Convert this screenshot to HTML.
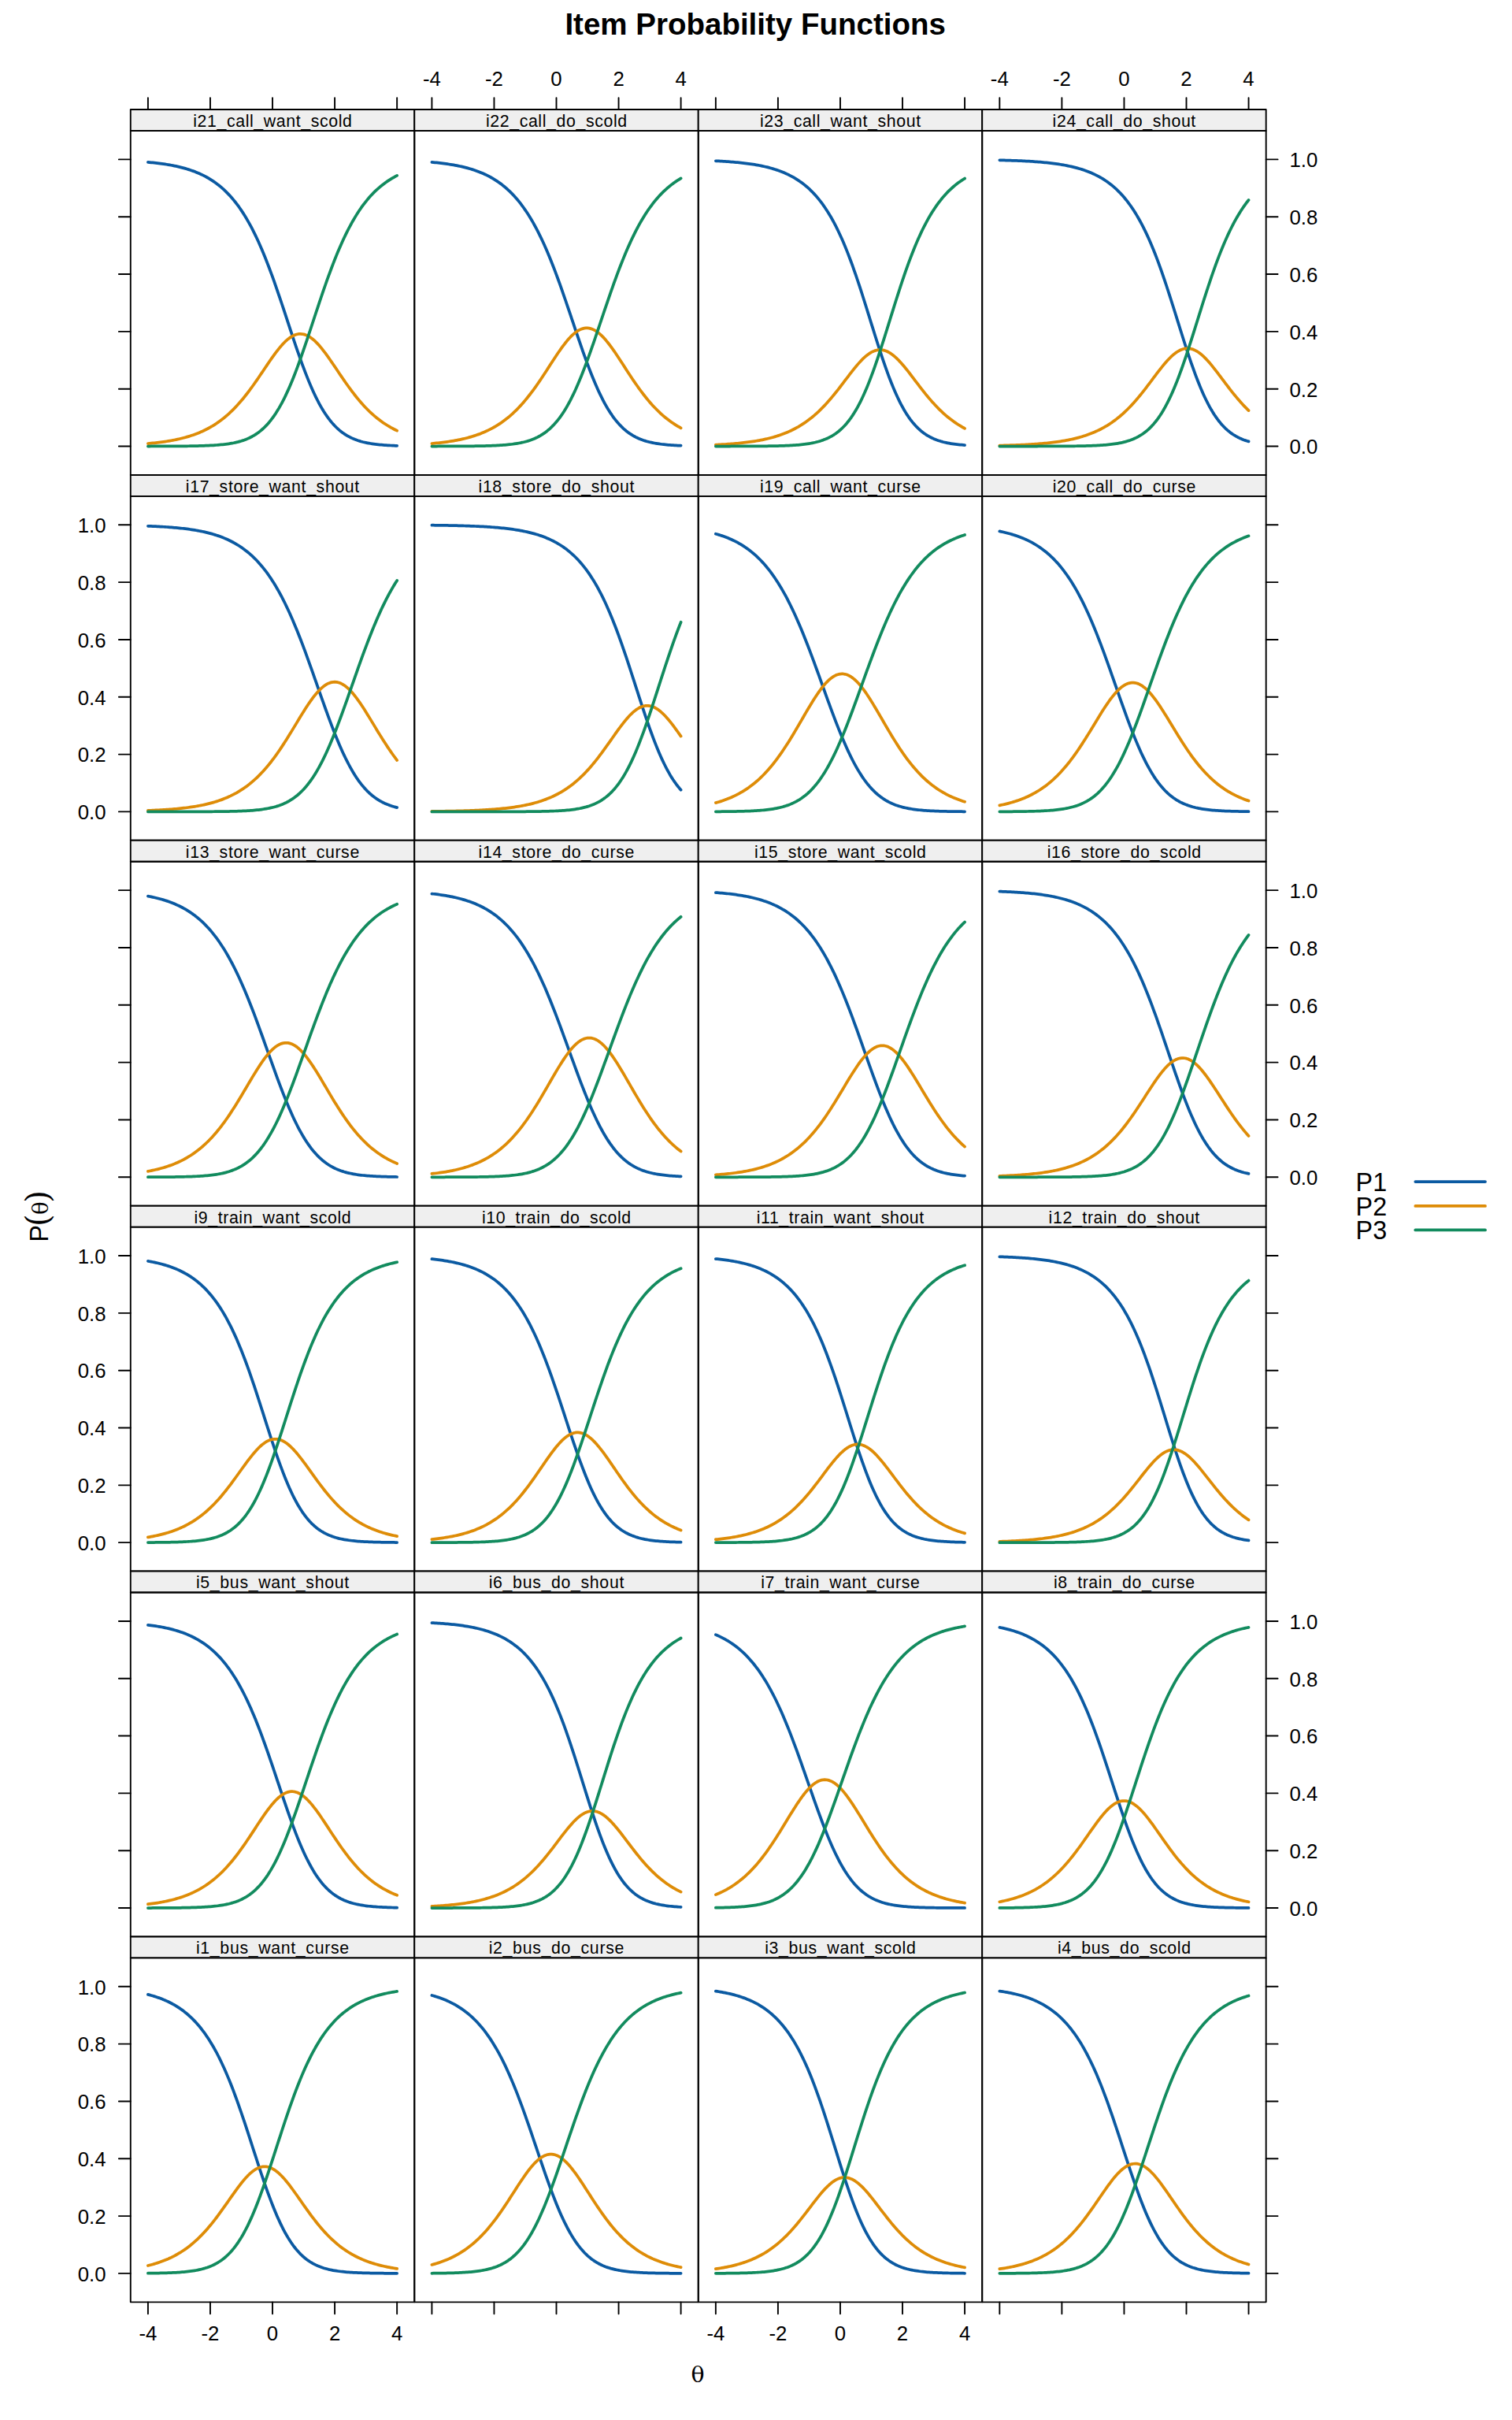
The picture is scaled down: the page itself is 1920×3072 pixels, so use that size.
<!DOCTYPE html>
<html><head><meta charset="utf-8"><title>Item Probability Functions</title>
<style>html,body{margin:0;padding:0;background:#fff;}svg{display:block;}</style></head><body>
<svg width="1920" height="3072" viewBox="0 0 1920 3072">
<rect x="0" y="0" width="1920" height="3072" fill="#fff"/>
<text x="959.15" y="44.2" font-family="'Liberation Sans', Arial, Helvetica, sans-serif" font-weight="bold" font-size="38.5" text-anchor="middle">Item Probability Functions</text>
<path d="M187.93,205.91 L189.91,206.09 L191.89,206.27 L193.86,206.47 L195.84,206.68 L197.82,206.89 L199.79,207.12 L201.77,207.36 L203.74,207.62 L205.72,207.88 L207.7,208.16 L209.67,208.45 L211.65,208.76 L213.63,209.08 L215.6,209.42 L217.58,209.78 L219.55,210.15 L221.53,210.55 L223.51,210.96 L225.48,211.39 L227.46,211.85 L229.44,212.33 L231.41,212.83 L233.39,213.36 L235.36,213.91 L237.34,214.49 L239.32,215.1 L241.29,215.75 L243.27,216.42 L245.25,217.12 L247.22,217.86 L249.2,218.64 L251.17,219.46 L253.15,220.31 L255.13,221.21 L257.1,222.15 L259.08,223.14 L261.06,224.17 L263.03,225.26 L265.01,226.39 L266.98,227.59 L268.96,228.84 L270.94,230.14 L272.91,231.51 L274.89,232.95 L276.87,234.45 L278.84,236.03 L280.82,237.67 L282.79,239.39 L284.77,241.2 L286.75,243.08 L288.72,245.05 L290.7,247.11 L292.68,249.25 L294.65,251.5 L296.63,253.84 L298.6,256.28 L300.58,258.83 L302.56,261.49 L304.53,264.25 L306.51,267.14 L308.49,270.13 L310.46,273.25 L312.44,276.49 L314.41,279.86 L316.39,283.35 L318.37,286.97 L320.34,290.73 L322.32,294.61 L324.3,298.63 L326.27,302.79 L328.25,307.08 L330.22,311.5 L332.2,316.06 L334.18,320.74 L336.15,325.56 L338.13,330.51 L340.11,335.58 L342.08,340.76 L344.06,346.06 L346.04,351.47 L348.01,356.99 L349.99,362.59 L351.96,368.28 L353.94,374.05 L355.92,379.89 L357.89,385.78 L359.87,391.71 L361.85,397.68 L363.82,403.67 L365.8,409.67 L367.77,415.66 L369.75,421.63 L371.73,427.57 L373.7,433.47 L375.68,439.3 L377.66,445.07 L379.63,450.74 L381.61,456.32 L383.58,461.79 L385.56,467.14 L387.54,472.36 L389.51,477.44 L391.49,482.37 L393.47,487.14 L395.44,491.76 L397.42,496.2 L399.39,500.48 L401.37,504.58 L403.35,508.51 L405.32,512.26 L407.3,515.84 L409.28,519.24 L411.25,522.47 L413.23,525.52 L415.2,528.41 L417.18,531.14 L419.16,533.71 L421.13,536.12 L423.11,538.39 L425.09,540.51 L427.06,542.5 L429.04,544.36 L431.01,546.09 L432.99,547.7 L434.97,549.19 L436.94,550.59 L438.92,551.88 L440.9,553.07 L442.87,554.18 L444.85,555.21 L446.82,556.15 L448.8,557.02 L450.78,557.83 L452.75,558.57 L454.73,559.25 L456.71,559.87 L458.68,560.45 L460.66,560.98 L462.63,561.46 L464.61,561.9 L466.59,562.31 L468.56,562.68 L470.54,563.02 L472.52,563.34 L474.49,563.62 L476.47,563.88 L478.44,564.12 L480.42,564.33 L482.4,564.53 L484.37,564.71 L486.35,564.88 L488.33,565.03 L490.3,565.16 L492.28,565.29 L494.25,565.4 L496.23,565.5 L498.21,565.6 L500.18,565.68 L502.16,565.76 L504.14,565.83" fill="none" stroke="#0B5AA2" stroke-width="3.75" stroke-linecap="round" stroke-linejoin="round"/>
<path d="M187.93,563.04 L189.91,562.87 L191.89,562.68 L193.86,562.49 L195.84,562.28 L197.82,562.07 L199.79,561.84 L201.77,561.61 L203.74,561.36 L205.72,561.1 L207.7,560.82 L209.67,560.54 L211.65,560.24 L213.63,559.92 L215.6,559.59 L217.58,559.24 L219.55,558.87 L221.53,558.49 L223.51,558.09 L225.48,557.67 L227.46,557.23 L229.44,556.76 L231.41,556.28 L233.39,555.77 L235.36,555.23 L237.34,554.68 L239.32,554.09 L241.29,553.48 L243.27,552.83 L245.25,552.16 L247.22,551.46 L249.2,550.72 L251.17,549.95 L253.15,549.14 L255.13,548.3 L257.1,547.42 L259.08,546.5 L261.06,545.53 L263.03,544.53 L265.01,543.48 L266.98,542.38 L268.96,541.24 L270.94,540.04 L272.91,538.8 L274.89,537.5 L276.87,536.15 L278.84,534.75 L280.82,533.28 L282.79,531.76 L284.77,530.18 L286.75,528.54 L288.72,526.83 L290.7,525.07 L292.68,523.23 L294.65,521.34 L296.63,519.37 L298.6,517.34 L300.58,515.25 L302.56,513.08 L304.53,510.85 L306.51,508.56 L308.49,506.2 L310.46,503.77 L312.44,501.28 L314.41,498.73 L316.39,496.13 L318.37,493.46 L320.34,490.75 L322.32,487.99 L324.3,485.18 L326.27,482.34 L328.25,479.46 L330.22,476.56 L332.2,473.63 L334.18,470.7 L336.15,467.76 L338.13,464.83 L340.11,461.91 L342.08,459.02 L344.06,456.16 L346.04,453.35 L348.01,450.59 L349.99,447.91 L351.96,445.31 L353.94,442.8 L355.92,440.4 L357.89,438.12 L359.87,435.97 L361.85,433.96 L363.82,432.11 L365.8,430.42 L367.77,428.91 L369.75,427.58 L371.73,426.45 L373.7,425.52 L375.68,424.79 L377.66,424.27 L379.63,423.96 L381.61,423.88 L383.58,424.01 L385.56,424.35 L387.54,424.91 L389.51,425.68 L391.49,426.65 L393.47,427.83 L395.44,429.19 L397.42,430.74 L399.39,432.46 L401.37,434.34 L403.35,436.38 L405.32,438.55 L407.3,440.86 L409.28,443.28 L411.25,445.81 L413.23,448.42 L415.2,451.12 L417.18,453.89 L419.16,456.71 L421.13,459.57 L423.11,462.47 L425.09,465.39 L427.06,468.33 L429.04,471.27 L431.01,474.2 L432.99,477.12 L434.97,480.02 L436.94,482.89 L438.92,485.73 L440.9,488.52 L442.87,491.28 L444.85,493.98 L446.82,496.63 L448.8,499.23 L450.78,501.77 L452.75,504.24 L454.73,506.66 L456.71,509.01 L458.68,511.29 L460.66,513.51 L462.63,515.66 L464.61,517.74 L466.59,519.76 L468.56,521.71 L470.54,523.59 L472.52,525.41 L474.49,527.17 L476.47,528.86 L478.44,530.49 L480.42,532.06 L482.4,533.57 L484.37,535.02 L486.35,536.42 L488.33,537.76 L490.3,539.04 L492.28,540.28 L494.25,541.46 L496.23,542.6 L498.21,543.68 L500.18,544.72 L502.16,545.72 L504.14,546.68" fill="none" stroke="#DE8C07" stroke-width="3.75" stroke-linecap="round" stroke-linejoin="round"/>
<path d="M187.93,566.5 L189.91,566.5 L191.89,566.49 L193.86,566.49 L195.84,566.49 L197.82,566.49 L199.79,566.48 L201.77,566.48 L203.74,566.47 L205.72,566.47 L207.7,566.46 L209.67,566.46 L211.65,566.45 L213.63,566.45 L215.6,566.44 L217.58,566.43 L219.55,566.42 L221.53,566.41 L223.51,566.4 L225.48,566.39 L227.46,566.37 L229.44,566.36 L231.41,566.34 L233.39,566.32 L235.36,566.3 L237.34,566.28 L239.32,566.25 L241.29,566.23 L243.27,566.2 L245.25,566.16 L247.22,566.13 L249.2,566.09 L251.17,566.04 L253.15,565.99 L255.13,565.94 L257.1,565.88 L259.08,565.82 L261.06,565.74 L263.03,565.67 L265.01,565.58 L266.98,565.48 L268.96,565.38 L270.94,565.26 L272.91,565.14 L274.89,565 L276.87,564.85 L278.84,564.68 L280.82,564.49 L282.79,564.29 L284.77,564.07 L286.75,563.83 L288.72,563.57 L290.7,563.28 L292.68,562.96 L294.65,562.61 L296.63,562.24 L298.6,561.82 L300.58,561.37 L302.56,560.88 L304.53,560.34 L306.51,559.76 L308.49,559.12 L310.46,558.43 L312.44,557.68 L314.41,556.86 L316.39,555.97 L318.37,555.01 L320.34,553.97 L322.32,552.85 L324.3,551.64 L326.27,550.33 L328.25,548.91 L330.22,547.39 L332.2,545.76 L334.18,544.01 L336.15,542.13 L338.13,540.11 L340.11,537.96 L342.08,535.67 L344.06,533.23 L346.04,530.63 L348.01,527.87 L349.99,524.95 L351.96,521.86 L353.94,518.6 L355.92,515.16 L357.89,511.55 L359.87,507.77 L361.85,503.8 L363.82,499.67 L365.8,495.36 L367.77,490.88 L369.75,486.23 L371.73,481.43 L373.7,476.47 L375.68,471.36 L377.66,466.12 L379.63,460.74 L381.61,455.25 L383.58,449.65 L385.56,443.96 L387.54,438.18 L389.51,432.33 L391.49,426.43 L393.47,420.48 L395.44,414.5 L397.42,408.51 L399.39,402.51 L401.37,396.53 L403.35,390.56 L405.32,384.63 L407.3,378.75 L409.28,372.93 L411.25,367.18 L413.23,361.5 L415.2,355.91 L417.18,350.42 L419.16,345.03 L421.13,339.75 L423.11,334.59 L425.09,329.54 L427.06,324.62 L429.04,319.83 L431.01,315.16 L432.99,310.63 L434.97,306.24 L436.94,301.97 L438.92,297.84 L440.9,293.85 L442.87,289.99 L444.85,286.26 L446.82,282.66 L448.8,279.2 L450.78,275.86 L452.75,272.64 L454.73,269.54 L456.71,266.57 L458.68,263.71 L460.66,260.97 L462.63,258.33 L464.61,255.8 L466.59,253.38 L468.56,251.06 L470.54,248.83 L472.52,246.7 L474.49,244.66 L476.47,242.71 L478.44,240.84 L480.42,239.05 L482.4,237.35 L484.37,235.72 L486.35,234.16 L488.33,232.67 L490.3,231.24 L492.28,229.89 L494.25,228.59 L496.23,227.35 L498.21,226.17 L500.18,225.04 L502.16,223.97 L504.14,222.94" fill="none" stroke="#128B5E" stroke-width="3.75" stroke-linecap="round" stroke-linejoin="round"/>
<path d="M548.4,205.92 L550.38,206.1 L552.36,206.29 L554.33,206.49 L556.31,206.7 L558.29,206.91 L560.26,207.14 L562.24,207.38 L564.21,207.64 L566.19,207.9 L568.17,208.18 L570.14,208.48 L572.12,208.78 L574.1,209.11 L576.07,209.45 L578.05,209.8 L580.02,210.18 L582,210.57 L583.98,210.99 L585.95,211.42 L587.93,211.88 L589.91,212.36 L591.88,212.86 L593.86,213.39 L595.83,213.94 L597.81,214.52 L599.79,215.13 L601.76,215.77 L603.74,216.44 L605.72,217.15 L607.69,217.89 L609.67,218.66 L611.64,219.47 L613.62,220.33 L615.6,221.22 L617.57,222.16 L619.55,223.14 L621.53,224.17 L623.5,225.25 L625.48,226.38 L627.45,227.56 L629.43,228.8 L631.41,230.1 L633.38,231.46 L635.36,232.89 L637.34,234.37 L639.31,235.93 L641.29,237.56 L643.26,239.27 L645.24,241.05 L647.22,242.91 L649.19,244.85 L651.17,246.88 L653.15,249 L655.12,251.21 L657.1,253.51 L659.07,255.91 L661.05,258.42 L663.03,261.03 L665,263.74 L666.98,266.57 L668.96,269.5 L670.93,272.56 L672.91,275.73 L674.88,279.02 L676.86,282.43 L678.84,285.96 L680.81,289.62 L682.79,293.41 L684.77,297.33 L686.74,301.37 L688.72,305.54 L690.69,309.84 L692.67,314.27 L694.65,318.83 L696.62,323.51 L698.6,328.31 L700.58,333.23 L702.55,338.26 L704.53,343.41 L706.5,348.66 L708.48,354.01 L710.46,359.46 L712.43,364.99 L714.41,370.59 L716.39,376.27 L718.36,382.01 L720.34,387.79 L722.32,393.62 L724.29,399.47 L726.27,405.33 L728.24,411.2 L730.22,417.07 L732.2,422.91 L734.17,428.72 L736.15,434.48 L738.13,440.18 L740.1,445.81 L742.08,451.36 L744.05,456.82 L746.03,462.16 L748.01,467.4 L749.98,472.51 L751.96,477.49 L753.94,482.32 L755.91,487.01 L757.89,491.54 L759.86,495.92 L761.84,500.13 L763.82,504.18 L765.79,508.06 L767.77,511.77 L769.75,515.31 L771.72,518.68 L773.7,521.89 L775.67,524.93 L777.65,527.81 L779.63,530.53 L781.6,533.1 L783.58,535.52 L785.56,537.79 L787.53,539.93 L789.51,541.93 L791.48,543.8 L793.46,545.55 L795.44,547.18 L797.41,548.69 L799.39,550.11 L801.37,551.42 L803.34,552.64 L805.32,553.77 L807.29,554.81 L809.27,555.78 L811.25,556.67 L813.22,557.5 L815.2,558.26 L817.18,558.96 L819.15,559.6 L821.13,560.2 L823.1,560.74 L825.08,561.24 L827.06,561.7 L829.03,562.12 L831.01,562.51 L832.99,562.86 L834.96,563.19 L836.94,563.48 L838.91,563.75 L840.89,564 L842.87,564.23 L844.84,564.43 L846.82,564.62 L848.8,564.79 L850.77,564.95 L852.75,565.09 L854.72,565.22 L856.7,565.34 L858.68,565.45 L860.65,565.55 L862.63,565.64 L864.61,565.72" fill="none" stroke="#0B5AA2" stroke-width="3.75" stroke-linecap="round" stroke-linejoin="round"/>
<path d="M548.4,563.02 L550.38,562.85 L552.36,562.66 L554.33,562.47 L556.31,562.26 L558.29,562.04 L560.26,561.82 L562.24,561.58 L564.21,561.33 L566.19,561.07 L568.17,560.79 L570.14,560.51 L572.12,560.2 L574.1,559.88 L576.07,559.55 L578.05,559.2 L580.02,558.83 L582,558.45 L583.98,558.05 L585.95,557.62 L587.93,557.18 L589.91,556.71 L591.88,556.22 L593.86,555.71 L595.83,555.18 L597.81,554.61 L599.79,554.02 L601.76,553.41 L603.74,552.76 L605.72,552.09 L607.69,551.38 L609.67,550.64 L611.64,549.86 L613.62,549.05 L615.6,548.2 L617.57,547.32 L619.55,546.39 L621.53,545.42 L623.5,544.41 L625.48,543.35 L627.45,542.25 L629.43,541.1 L631.41,539.9 L633.38,538.65 L635.36,537.34 L637.34,535.98 L639.31,534.57 L641.29,533.09 L643.26,531.56 L645.24,529.97 L647.22,528.32 L649.19,526.6 L651.17,524.82 L653.15,522.97 L655.12,521.05 L657.1,519.07 L659.07,517.02 L661.05,514.9 L663.03,512.72 L665,510.46 L666.98,508.14 L668.96,505.75 L670.93,503.29 L672.91,500.76 L674.88,498.17 L676.86,495.52 L678.84,492.81 L680.81,490.04 L682.79,487.22 L684.77,484.35 L686.74,481.43 L688.72,478.48 L690.69,475.49 L692.67,472.47 L694.65,469.44 L696.62,466.39 L698.6,463.33 L700.58,460.28 L702.55,457.25 L704.53,454.23 L706.5,451.26 L708.48,448.32 L710.46,445.45 L712.43,442.64 L714.41,439.91 L716.39,437.27 L718.36,434.74 L720.34,432.33 L722.32,430.05 L724.29,427.91 L726.27,425.92 L728.24,424.09 L730.22,422.44 L732.2,420.97 L734.17,419.7 L736.15,418.62 L738.13,417.76 L740.1,417.1 L742.08,416.66 L744.05,416.44 L746.03,416.44 L748.01,416.66 L749.98,417.1 L751.96,417.75 L753.94,418.62 L755.91,419.69 L757.89,420.97 L759.86,422.43 L761.84,424.08 L763.82,425.91 L765.79,427.89 L767.77,430.04 L769.75,432.32 L771.72,434.73 L773.7,437.26 L775.67,439.89 L777.65,442.62 L779.63,445.43 L781.6,448.31 L783.58,451.24 L785.56,454.22 L787.53,457.23 L789.51,460.27 L791.48,463.32 L793.46,466.37 L795.44,469.42 L797.41,472.46 L799.39,475.47 L801.37,478.46 L803.34,481.42 L805.32,484.33 L807.29,487.2 L809.27,490.02 L811.25,492.79 L813.22,495.5 L815.2,498.16 L817.18,500.75 L819.15,503.27 L821.13,505.73 L823.1,508.12 L825.08,510.45 L827.06,512.71 L829.03,514.89 L831.01,517.01 L832.99,519.06 L834.96,521.04 L836.94,522.96 L838.91,524.81 L840.89,526.59 L842.87,528.31 L844.84,529.96 L846.82,531.55 L848.8,533.09 L850.77,534.56 L852.75,535.97 L854.72,537.33 L856.7,538.64 L858.68,539.89 L860.65,541.09 L862.63,542.24 L864.61,543.35" fill="none" stroke="#DE8C07" stroke-width="3.75" stroke-linecap="round" stroke-linejoin="round"/>
<path d="M548.4,566.5 L550.38,566.5 L552.36,566.5 L554.33,566.5 L556.31,566.49 L558.29,566.49 L560.26,566.49 L562.24,566.48 L564.21,566.48 L566.19,566.48 L568.17,566.47 L570.14,566.47 L572.12,566.46 L574.1,566.46 L576.07,566.45 L578.05,566.44 L580.02,566.43 L582,566.43 L583.98,566.42 L585.95,566.41 L587.93,566.39 L589.91,566.38 L591.88,566.37 L593.86,566.35 L595.83,566.33 L597.81,566.31 L599.79,566.29 L601.76,566.27 L603.74,566.24 L605.72,566.22 L607.69,566.19 L609.67,566.15 L611.64,566.11 L613.62,566.07 L615.6,566.03 L617.57,565.98 L619.55,565.92 L621.53,565.86 L623.5,565.79 L625.48,565.72 L627.45,565.64 L629.43,565.55 L631.41,565.45 L633.38,565.34 L635.36,565.22 L637.34,565.09 L639.31,564.95 L641.29,564.79 L643.26,564.62 L645.24,564.43 L647.22,564.23 L649.19,564 L651.17,563.75 L653.15,563.48 L655.12,563.19 L657.1,562.86 L659.07,562.51 L661.05,562.13 L663.03,561.7 L665,561.25 L666.98,560.75 L668.96,560.2 L670.93,559.61 L672.91,558.96 L674.88,558.26 L676.86,557.5 L678.84,556.68 L680.81,555.79 L682.79,554.82 L684.77,553.77 L686.74,552.65 L688.72,551.43 L690.69,550.12 L692.67,548.7 L694.65,547.18 L696.62,545.55 L698.6,543.81 L700.58,541.94 L702.55,539.94 L704.53,537.81 L706.5,535.53 L708.48,533.11 L710.46,530.55 L712.43,527.83 L714.41,524.95 L716.39,521.9 L718.36,518.7 L720.34,515.33 L722.32,511.79 L724.29,508.08 L726.27,504.2 L728.24,500.15 L730.22,495.94 L732.2,491.57 L734.17,487.04 L736.15,482.35 L738.13,477.51 L740.1,472.54 L742.08,467.43 L744.05,462.19 L746.03,456.85 L748.01,451.39 L749.98,445.84 L751.96,440.21 L753.94,434.51 L755.91,428.75 L757.89,422.94 L759.86,417.1 L761.84,411.24 L763.82,405.37 L765.79,399.5 L767.77,393.65 L769.75,387.82 L771.72,382.04 L773.7,376.3 L775.67,370.63 L777.65,365.02 L779.63,359.49 L781.6,354.04 L783.58,348.69 L785.56,343.44 L787.53,338.29 L789.51,333.26 L791.48,328.34 L793.46,323.53 L795.44,318.85 L797.41,314.3 L799.39,309.87 L801.37,305.57 L803.34,301.39 L805.32,297.35 L807.29,293.43 L809.27,289.64 L811.25,285.98 L813.22,282.45 L815.2,279.03 L817.18,275.74 L819.15,272.57 L821.13,269.52 L823.1,266.58 L825.08,263.76 L827.06,261.04 L829.03,258.43 L831.01,255.93 L832.99,253.53 L834.96,251.22 L836.94,249.01 L838.91,246.89 L840.89,244.86 L842.87,242.92 L844.84,241.06 L846.82,239.27 L848.8,237.57 L850.77,235.94 L852.75,234.38 L854.72,232.89 L856.7,231.47 L858.68,230.11 L860.65,228.81 L862.63,227.57 L864.61,226.39" fill="none" stroke="#128B5E" stroke-width="3.75" stroke-linecap="round" stroke-linejoin="round"/>
<path d="M908.87,204.29 L910.85,204.39 L912.83,204.49 L914.8,204.6 L916.78,204.71 L918.76,204.82 L920.73,204.95 L922.71,205.08 L924.68,205.22 L926.66,205.36 L928.64,205.51 L930.61,205.67 L932.59,205.84 L934.57,206.01 L936.54,206.2 L938.52,206.39 L940.49,206.59 L942.47,206.81 L944.45,207.03 L946.42,207.27 L948.4,207.52 L950.38,207.78 L952.35,208.06 L954.33,208.35 L956.3,208.65 L958.28,208.97 L960.26,209.31 L962.23,209.66 L964.21,210.03 L966.19,210.42 L968.16,210.83 L970.14,211.26 L972.11,211.71 L974.09,212.19 L976.07,212.69 L978.04,213.22 L980.02,213.77 L982,214.35 L983.97,214.96 L985.95,215.6 L987.92,216.27 L989.9,216.98 L991.88,217.73 L993.85,218.51 L995.83,219.33 L997.81,220.19 L999.78,221.1 L1001.76,222.05 L1003.73,223.05 L1005.71,224.1 L1007.69,225.2 L1009.66,226.36 L1011.64,227.58 L1013.62,228.85 L1015.59,230.19 L1017.57,231.6 L1019.54,233.07 L1021.52,234.62 L1023.5,236.25 L1025.47,237.95 L1027.45,239.73 L1029.43,241.61 L1031.4,243.57 L1033.38,245.63 L1035.35,247.78 L1037.33,250.03 L1039.31,252.4 L1041.28,254.87 L1043.26,257.45 L1045.24,260.15 L1047.21,262.97 L1049.19,265.92 L1051.16,269 L1053.14,272.21 L1055.12,275.56 L1057.09,279.04 L1059.07,282.67 L1061.05,286.45 L1063.02,290.37 L1065,294.45 L1066.98,298.68 L1068.95,303.06 L1070.93,307.59 L1072.9,312.28 L1074.88,317.12 L1076.86,322.11 L1078.83,327.25 L1080.81,332.53 L1082.79,337.95 L1084.76,343.51 L1086.74,349.19 L1088.71,355 L1090.69,360.91 L1092.67,366.93 L1094.64,373.03 L1096.62,379.22 L1098.6,385.47 L1100.57,391.77 L1102.55,398.1 L1104.52,404.46 L1106.5,410.83 L1108.48,417.18 L1110.45,423.5 L1112.43,429.78 L1114.41,436 L1116.38,442.14 L1118.36,448.19 L1120.33,454.13 L1122.31,459.95 L1124.29,465.64 L1126.26,471.18 L1128.24,476.56 L1130.22,481.77 L1132.19,486.8 L1134.17,491.66 L1136.14,496.32 L1138.12,500.79 L1140.1,505.07 L1142.07,509.15 L1144.05,513.03 L1146.03,516.72 L1148,520.21 L1149.98,523.51 L1151.95,526.63 L1153.93,529.56 L1155.91,532.32 L1157.88,534.9 L1159.86,537.32 L1161.84,539.58 L1163.81,541.69 L1165.79,543.66 L1167.76,545.49 L1169.74,547.18 L1171.72,548.76 L1173.69,550.22 L1175.67,551.57 L1177.65,552.82 L1179.62,553.97 L1181.6,555.03 L1183.57,556.01 L1185.55,556.91 L1187.53,557.74 L1189.5,558.5 L1191.48,559.2 L1193.46,559.84 L1195.43,560.43 L1197.41,560.97 L1199.38,561.46 L1201.36,561.91 L1203.34,562.32 L1205.31,562.7 L1207.29,563.04 L1209.27,563.35 L1211.24,563.64 L1213.22,563.9 L1215.19,564.14 L1217.17,564.36 L1219.15,564.55 L1221.12,564.73 L1223.1,564.9 L1225.08,565.05" fill="none" stroke="#0B5AA2" stroke-width="3.75" stroke-linecap="round" stroke-linejoin="round"/>
<path d="M908.87,564.65 L910.85,564.55 L912.83,564.45 L914.8,564.35 L916.78,564.24 L918.76,564.12 L920.73,564 L922.71,563.87 L924.68,563.74 L926.66,563.59 L928.64,563.45 L930.61,563.29 L932.59,563.12 L934.57,562.95 L936.54,562.77 L938.52,562.58 L940.49,562.38 L942.47,562.17 L944.45,561.95 L946.42,561.72 L948.4,561.48 L950.38,561.22 L952.35,560.96 L954.33,560.68 L956.3,560.38 L958.28,560.07 L960.26,559.75 L962.23,559.41 L964.21,559.05 L966.19,558.68 L968.16,558.29 L970.14,557.87 L972.11,557.44 L974.09,556.99 L976.07,556.52 L978.04,556.02 L980.02,555.5 L982,554.95 L983.97,554.38 L985.95,553.78 L987.92,553.15 L989.9,552.5 L991.88,551.81 L993.85,551.09 L995.83,550.34 L997.81,549.55 L999.78,548.73 L1001.76,547.86 L1003.73,546.96 L1005.71,546.03 L1007.69,545.04 L1009.66,544.02 L1011.64,542.95 L1013.62,541.84 L1015.59,540.67 L1017.57,539.46 L1019.54,538.2 L1021.52,536.89 L1023.5,535.52 L1025.47,534.1 L1027.45,532.62 L1029.43,531.09 L1031.4,529.49 L1033.38,527.84 L1035.35,526.13 L1037.33,524.36 L1039.31,522.53 L1041.28,520.64 L1043.26,518.69 L1045.24,516.68 L1047.21,514.6 L1049.19,512.47 L1051.16,510.28 L1053.14,508.04 L1055.12,505.74 L1057.09,503.39 L1059.07,500.99 L1061.05,498.54 L1063.02,496.06 L1065,493.54 L1066.98,490.99 L1068.95,488.42 L1070.93,485.83 L1072.9,483.23 L1074.88,480.62 L1076.86,478.02 L1078.83,475.44 L1080.81,472.89 L1082.79,470.37 L1084.76,467.89 L1086.74,465.48 L1088.71,463.14 L1090.69,460.88 L1092.67,458.71 L1094.64,456.65 L1096.62,454.71 L1098.6,452.9 L1100.57,451.23 L1102.55,449.71 L1104.52,448.36 L1106.5,447.18 L1108.48,446.18 L1110.45,445.37 L1112.43,444.75 L1114.41,444.33 L1116.38,444.11 L1118.36,444.09 L1120.33,444.28 L1122.31,444.66 L1124.29,445.25 L1126.26,446.03 L1128.24,447 L1130.22,448.15 L1132.19,449.47 L1134.17,450.96 L1136.14,452.61 L1138.12,454.39 L1140.1,456.31 L1142.07,458.36 L1144.05,460.5 L1146.03,462.75 L1148,465.08 L1149.98,467.48 L1151.95,469.95 L1153.93,472.46 L1155.91,475.01 L1157.88,477.59 L1159.86,480.18 L1161.84,482.79 L1163.81,485.39 L1165.79,487.98 L1167.76,490.56 L1169.74,493.12 L1171.72,495.64 L1173.69,498.13 L1175.67,500.58 L1177.65,502.99 L1179.62,505.35 L1181.6,507.65 L1183.57,509.91 L1185.55,512.11 L1187.53,514.25 L1189.5,516.33 L1191.48,518.35 L1193.46,520.32 L1195.43,522.22 L1197.41,524.06 L1199.38,525.84 L1201.36,527.56 L1203.34,529.22 L1205.31,530.82 L1207.29,532.37 L1209.27,533.85 L1211.24,535.28 L1213.22,536.66 L1215.19,537.98 L1217.17,539.25 L1219.15,540.47 L1221.12,541.64 L1223.1,542.77 L1225.08,543.84" fill="none" stroke="#DE8C07" stroke-width="3.75" stroke-linecap="round" stroke-linejoin="round"/>
<path d="M908.87,566.51 L910.85,566.51 L912.83,566.51 L914.8,566.51 L916.78,566.51 L918.76,566.5 L920.73,566.5 L922.71,566.5 L924.68,566.5 L926.66,566.5 L928.64,566.49 L930.61,566.49 L932.59,566.49 L934.57,566.48 L936.54,566.48 L938.52,566.48 L940.49,566.47 L942.47,566.47 L944.45,566.46 L946.42,566.46 L948.4,566.45 L950.38,566.44 L952.35,566.44 L954.33,566.43 L956.3,566.42 L958.28,566.41 L960.26,566.39 L962.23,566.38 L964.21,566.37 L966.19,566.35 L968.16,566.33 L970.14,566.31 L972.11,566.29 L974.09,566.27 L976.07,566.24 L978.04,566.22 L980.02,566.18 L982,566.15 L983.97,566.11 L985.95,566.07 L987.92,566.02 L989.9,565.97 L991.88,565.92 L993.85,565.85 L995.83,565.78 L997.81,565.71 L999.78,565.63 L1001.76,565.54 L1003.73,565.44 L1005.71,565.32 L1007.69,565.2 L1009.66,565.07 L1011.64,564.92 L1013.62,564.76 L1015.59,564.58 L1017.57,564.39 L1019.54,564.18 L1021.52,563.94 L1023.5,563.69 L1025.47,563.4 L1027.45,563.09 L1029.43,562.76 L1031.4,562.39 L1033.38,561.98 L1035.35,561.54 L1037.33,561.05 L1039.31,560.52 L1041.28,559.94 L1043.26,559.31 L1045.24,558.62 L1047.21,557.87 L1049.19,557.06 L1051.16,556.17 L1053.14,555.2 L1055.12,554.16 L1057.09,553.02 L1059.07,551.79 L1061.05,550.45 L1063.02,549.01 L1065,547.46 L1066.98,545.78 L1068.95,543.97 L1070.93,542.03 L1072.9,539.95 L1074.88,537.71 L1076.86,535.32 L1078.83,532.76 L1080.81,530.03 L1082.79,527.13 L1084.76,524.05 L1086.74,520.78 L1088.71,517.32 L1090.69,513.66 L1092.67,509.81 L1094.64,505.77 L1096.62,501.52 L1098.6,497.08 L1100.57,492.45 L1102.55,487.63 L1104.52,482.63 L1106.5,477.44 L1108.48,472.09 L1110.45,466.58 L1112.43,460.92 L1114.41,455.12 L1116.38,449.2 L1118.36,443.17 L1120.33,437.04 L1122.31,430.83 L1124.29,424.56 L1126.26,418.24 L1128.24,411.9 L1130.22,405.53 L1132.19,399.17 L1134.17,392.83 L1136.14,386.52 L1138.12,380.26 L1140.1,374.07 L1142.07,367.95 L1144.05,361.91 L1146.03,355.98 L1148,350.16 L1149.98,344.45 L1151.95,338.87 L1153.93,333.43 L1155.91,328.12 L1157.88,322.96 L1159.86,317.95 L1161.84,313.08 L1163.81,308.37 L1165.79,303.81 L1167.76,299.4 L1169.74,295.15 L1171.72,291.05 L1173.69,287.1 L1175.67,283.3 L1177.65,279.64 L1179.62,276.13 L1181.6,272.76 L1183.57,269.53 L1185.55,266.43 L1187.53,263.46 L1189.5,260.62 L1191.48,257.89 L1193.46,255.29 L1195.43,252.8 L1197.41,250.42 L1199.38,248.15 L1201.36,245.98 L1203.34,243.91 L1205.31,241.93 L1207.29,240.04 L1209.27,238.24 L1211.24,236.53 L1213.22,234.89 L1215.19,233.33 L1217.17,231.84 L1219.15,230.42 L1221.12,229.07 L1223.1,227.79 L1225.08,226.56" fill="none" stroke="#128B5E" stroke-width="3.75" stroke-linecap="round" stroke-linejoin="round"/>
<path d="M1269.34,203.31 L1271.32,203.36 L1273.3,203.41 L1275.27,203.46 L1277.25,203.51 L1279.23,203.57 L1281.2,203.63 L1283.18,203.69 L1285.15,203.76 L1287.13,203.83 L1289.11,203.9 L1291.08,203.97 L1293.06,204.05 L1295.04,204.14 L1297.01,204.23 L1298.99,204.32 L1300.96,204.42 L1302.94,204.52 L1304.92,204.63 L1306.89,204.74 L1308.87,204.86 L1310.85,204.99 L1312.82,205.12 L1314.8,205.26 L1316.77,205.41 L1318.75,205.56 L1320.73,205.72 L1322.7,205.89 L1324.68,206.07 L1326.66,206.26 L1328.63,206.45 L1330.61,206.66 L1332.58,206.88 L1334.56,207.11 L1336.54,207.35 L1338.51,207.6 L1340.49,207.86 L1342.47,208.14 L1344.44,208.44 L1346.42,208.75 L1348.39,209.07 L1350.37,209.41 L1352.35,209.77 L1354.32,210.15 L1356.3,210.54 L1358.28,210.96 L1360.25,211.39 L1362.23,211.85 L1364.2,212.34 L1366.18,212.84 L1368.16,213.38 L1370.13,213.94 L1372.11,214.52 L1374.09,215.14 L1376.06,215.79 L1378.04,216.47 L1380.01,217.19 L1381.99,217.95 L1383.97,218.74 L1385.94,219.57 L1387.92,220.44 L1389.9,221.36 L1391.87,222.32 L1393.85,223.33 L1395.82,224.4 L1397.8,225.51 L1399.78,226.68 L1401.75,227.91 L1403.73,229.2 L1405.71,230.55 L1407.68,231.97 L1409.66,233.46 L1411.63,235.03 L1413.61,236.67 L1415.59,238.38 L1417.56,240.19 L1419.54,242.07 L1421.52,244.05 L1423.49,246.12 L1425.47,248.29 L1427.45,250.56 L1429.42,252.94 L1431.4,255.43 L1433.37,258.03 L1435.35,260.74 L1437.33,263.58 L1439.3,266.54 L1441.28,269.63 L1443.26,272.86 L1445.23,276.22 L1447.21,279.71 L1449.18,283.35 L1451.16,287.14 L1453.14,291.07 L1455.11,295.15 L1457.09,299.38 L1459.07,303.76 L1461.04,308.3 L1463.02,312.98 L1464.99,317.82 L1466.97,322.8 L1468.95,327.93 L1470.92,333.21 L1472.9,338.62 L1474.88,344.16 L1476.85,349.82 L1478.83,355.61 L1480.8,361.5 L1482.78,367.5 L1484.76,373.58 L1486.73,379.73 L1488.71,385.95 L1490.69,392.22 L1492.66,398.53 L1494.64,404.85 L1496.61,411.18 L1498.59,417.5 L1500.57,423.79 L1502.54,430.03 L1504.52,436.22 L1506.5,442.33 L1508.47,448.34 L1510.45,454.25 L1512.42,460.04 L1514.4,465.7 L1516.38,471.21 L1518.35,476.56 L1520.33,481.75 L1522.31,486.77 L1524.28,491.6 L1526.26,496.25 L1528.23,500.71 L1530.21,504.97 L1532.19,509.04 L1534.16,512.91 L1536.14,516.59 L1538.12,520.08 L1540.09,523.38 L1542.07,526.49 L1544.04,529.42 L1546.02,532.18 L1548,534.76 L1549.97,537.19 L1551.95,539.45 L1553.93,541.56 L1555.9,543.53 L1557.88,545.37 L1559.85,547.07 L1561.83,548.65 L1563.81,550.12 L1565.78,551.47 L1567.76,552.72 L1569.74,553.88 L1571.71,554.95 L1573.69,555.93 L1575.66,556.84 L1577.64,557.67 L1579.62,558.44 L1581.59,559.14 L1583.57,559.78 L1585.55,560.37" fill="none" stroke="#0B5AA2" stroke-width="3.75" stroke-linecap="round" stroke-linejoin="round"/>
<path d="M1269.34,565.62 L1271.32,565.57 L1273.3,565.52 L1275.27,565.47 L1277.25,565.42 L1279.23,565.36 L1281.2,565.3 L1283.18,565.24 L1285.15,565.18 L1287.13,565.11 L1289.11,565.04 L1291.08,564.96 L1293.06,564.88 L1295.04,564.8 L1297.01,564.71 L1298.99,564.62 L1300.96,564.52 L1302.94,564.42 L1304.92,564.31 L1306.89,564.2 L1308.87,564.08 L1310.85,563.96 L1312.82,563.83 L1314.8,563.69 L1316.77,563.55 L1318.75,563.4 L1320.73,563.24 L1322.7,563.07 L1324.68,562.9 L1326.66,562.71 L1328.63,562.52 L1330.61,562.32 L1332.58,562.1 L1334.56,561.88 L1336.54,561.65 L1338.51,561.4 L1340.49,561.14 L1342.47,560.87 L1344.44,560.58 L1346.42,560.29 L1348.39,559.97 L1350.37,559.64 L1352.35,559.3 L1354.32,558.94 L1356.3,558.56 L1358.28,558.16 L1360.25,557.74 L1362.23,557.3 L1364.2,556.84 L1366.18,556.36 L1368.16,555.85 L1370.13,555.33 L1372.11,554.77 L1374.09,554.19 L1376.06,553.58 L1378.04,552.95 L1380.01,552.28 L1381.99,551.58 L1383.97,550.85 L1385.94,550.09 L1387.92,549.29 L1389.9,548.45 L1391.87,547.58 L1393.85,546.67 L1395.82,545.71 L1397.8,544.72 L1399.78,543.68 L1401.75,542.59 L1403.73,541.46 L1405.71,540.29 L1407.68,539.06 L1409.66,537.78 L1411.63,536.45 L1413.61,535.06 L1415.59,533.62 L1417.56,532.12 L1419.54,530.57 L1421.52,528.96 L1423.49,527.28 L1425.47,525.55 L1427.45,523.76 L1429.42,521.9 L1431.4,519.99 L1433.37,518.01 L1435.35,515.97 L1437.33,513.87 L1439.3,511.72 L1441.28,509.5 L1443.26,507.23 L1445.23,504.9 L1447.21,502.52 L1449.18,500.09 L1451.16,497.62 L1453.14,495.11 L1455.11,492.56 L1457.09,489.98 L1459.07,487.38 L1461.04,484.75 L1463.02,482.12 L1464.99,479.49 L1466.97,476.86 L1468.95,474.24 L1470.92,471.66 L1472.9,469.11 L1474.88,466.6 L1476.85,464.16 L1478.83,461.78 L1480.8,459.49 L1482.78,457.29 L1484.76,455.2 L1486.73,453.22 L1488.71,451.38 L1490.69,449.68 L1492.66,448.13 L1494.64,446.75 L1496.61,445.54 L1498.59,444.5 L1500.57,443.66 L1502.54,443.01 L1504.52,442.57 L1506.5,442.32 L1508.47,442.28 L1510.45,442.44 L1512.42,442.8 L1514.4,443.37 L1516.38,444.13 L1518.35,445.09 L1520.33,446.22 L1522.31,447.54 L1524.28,449.02 L1526.26,450.66 L1528.23,452.44 L1530.21,454.36 L1532.19,456.41 L1534.16,458.56 L1536.14,460.82 L1538.12,463.16 L1540.09,465.58 L1542.07,468.06 L1544.04,470.6 L1546.02,473.17 L1548,475.77 L1549.97,478.4 L1551.95,481.03 L1553.93,483.66 L1555.9,486.29 L1557.88,488.9 L1559.85,491.49 L1561.83,494.06 L1563.81,496.59 L1565.78,499.07 L1567.76,501.52 L1569.74,503.92 L1571.71,506.27 L1573.69,508.56 L1575.66,510.8 L1577.64,512.99 L1579.62,515.11 L1581.59,517.17 L1583.57,519.18 L1585.55,521.12" fill="none" stroke="#DE8C07" stroke-width="3.75" stroke-linecap="round" stroke-linejoin="round"/>
<path d="M1269.34,566.52 L1271.32,566.52 L1273.3,566.52 L1275.27,566.52 L1277.25,566.52 L1279.23,566.52 L1281.2,566.52 L1283.18,566.51 L1285.15,566.51 L1287.13,566.51 L1289.11,566.51 L1291.08,566.51 L1293.06,566.51 L1295.04,566.51 L1297.01,566.51 L1298.99,566.51 L1300.96,566.51 L1302.94,566.51 L1304.92,566.51 L1306.89,566.51 L1308.87,566.5 L1310.85,566.5 L1312.82,566.5 L1314.8,566.5 L1316.77,566.5 L1318.75,566.49 L1320.73,566.49 L1322.7,566.49 L1324.68,566.49 L1326.66,566.48 L1328.63,566.48 L1330.61,566.47 L1332.58,566.47 L1334.56,566.46 L1336.54,566.46 L1338.51,566.45 L1340.49,566.44 L1342.47,566.44 L1344.44,566.43 L1346.42,566.42 L1348.39,566.41 L1350.37,566.4 L1352.35,566.38 L1354.32,566.37 L1356.3,566.35 L1358.28,566.34 L1360.25,566.32 L1362.23,566.3 L1364.2,566.27 L1366.18,566.25 L1368.16,566.22 L1370.13,566.19 L1372.11,566.15 L1374.09,566.12 L1376.06,566.07 L1378.04,566.03 L1380.01,565.98 L1381.99,565.92 L1383.97,565.86 L1385.94,565.79 L1387.92,565.72 L1389.9,565.64 L1391.87,565.55 L1393.85,565.45 L1395.82,565.34 L1397.8,565.22 L1399.78,565.09 L1401.75,564.94 L1403.73,564.79 L1405.71,564.61 L1407.68,564.42 L1409.66,564.21 L1411.63,563.98 L1413.61,563.72 L1415.59,563.45 L1417.56,563.14 L1419.54,562.81 L1421.52,562.44 L1423.49,562.04 L1425.47,561.61 L1427.45,561.13 L1429.42,560.61 L1431.4,560.03 L1433.37,559.41 L1435.35,558.73 L1437.33,558 L1439.3,557.19 L1441.28,556.32 L1443.26,555.37 L1445.23,554.33 L1447.21,553.21 L1449.18,552 L1451.16,550.69 L1453.14,549.27 L1455.11,547.74 L1457.09,546.09 L1459.07,544.31 L1461.04,542.4 L1463.02,540.34 L1464.99,538.14 L1466.97,535.79 L1468.95,533.27 L1470.92,530.59 L1472.9,527.73 L1474.88,524.69 L1476.85,521.47 L1478.83,518.06 L1480.8,514.46 L1482.78,510.67 L1484.76,506.68 L1486.73,502.5 L1488.71,498.12 L1490.69,493.55 L1492.66,488.79 L1494.64,483.85 L1496.61,478.73 L1498.59,473.45 L1500.57,468 L1502.54,462.4 L1504.52,456.67 L1506.5,450.8 L1508.47,444.83 L1510.45,438.76 L1512.42,432.6 L1514.4,426.38 L1516.38,420.11 L1518.35,413.8 L1520.33,407.47 L1522.31,401.14 L1524.28,394.83 L1526.26,388.54 L1528.23,382.3 L1530.21,376.12 L1532.19,370 L1534.16,363.97 L1536.14,358.04 L1538.12,352.21 L1540.09,346.49 L1542.07,340.9 L1544.04,335.43 L1546.02,330.1 L1548,324.91 L1549.97,319.87 L1551.95,314.97 L1553.93,310.22 L1555.9,305.62 L1557.88,301.18 L1559.85,296.88 L1561.83,292.74 L1563.81,288.75 L1565.78,284.9 L1567.76,281.2 L1569.74,277.65 L1571.71,274.23 L1573.69,270.95 L1575.66,267.81 L1577.64,264.79 L1579.62,261.9 L1581.59,259.14 L1583.57,256.49 L1585.55,253.96" fill="none" stroke="#128B5E" stroke-width="3.75" stroke-linecap="round" stroke-linejoin="round"/>
<path d="M187.93,667.78 L189.91,667.86 L191.89,667.94 L193.86,668.02 L195.84,668.11 L197.82,668.21 L199.79,668.3 L201.77,668.41 L203.74,668.51 L205.72,668.63 L207.7,668.75 L209.67,668.87 L211.65,669 L213.63,669.14 L215.6,669.29 L217.58,669.44 L219.55,669.6 L221.53,669.77 L223.51,669.95 L225.48,670.13 L227.46,670.33 L229.44,670.54 L231.41,670.75 L233.39,670.98 L235.36,671.22 L237.34,671.47 L239.32,671.73 L241.29,672.01 L243.27,672.3 L245.25,672.6 L247.22,672.92 L249.2,673.26 L251.17,673.61 L253.15,673.98 L255.13,674.37 L257.1,674.77 L259.08,675.2 L261.06,675.65 L263.03,676.12 L265.01,676.62 L266.98,677.14 L268.96,677.68 L270.94,678.26 L272.91,678.85 L274.89,679.48 L276.87,680.14 L278.84,680.84 L280.82,681.56 L282.79,682.32 L284.77,683.12 L286.75,683.96 L288.72,684.83 L290.7,685.75 L292.68,686.71 L294.65,687.72 L296.63,688.77 L298.6,689.88 L300.58,691.03 L302.56,692.24 L304.53,693.51 L306.51,694.83 L308.49,696.22 L310.46,697.66 L312.44,699.18 L314.41,700.76 L316.39,702.41 L318.37,704.13 L320.34,705.93 L322.32,707.81 L324.3,709.77 L326.27,711.81 L328.25,713.94 L330.22,716.16 L332.2,718.47 L334.18,720.88 L336.15,723.38 L338.13,725.98 L340.11,728.69 L342.08,731.5 L344.06,734.41 L346.04,737.44 L348.01,740.57 L349.99,743.82 L351.96,747.19 L353.94,750.66 L355.92,754.26 L357.89,757.97 L359.87,761.81 L361.85,765.76 L363.82,769.82 L365.8,774.01 L367.77,778.32 L369.75,782.73 L371.73,787.27 L373.7,791.91 L375.68,796.66 L377.66,801.52 L379.63,806.48 L381.61,811.53 L383.58,816.68 L385.56,821.91 L387.54,827.21 L389.51,832.59 L391.49,838.04 L393.47,843.54 L395.44,849.08 L397.42,854.67 L399.39,860.28 L401.37,865.91 L403.35,871.55 L405.32,877.19 L407.3,882.81 L409.28,888.41 L411.25,893.98 L413.23,899.5 L415.2,904.96 L417.18,910.36 L419.16,915.68 L421.13,920.91 L423.11,926.05 L425.09,931.08 L427.06,936 L429.04,940.8 L431.01,945.47 L432.99,950 L434.97,954.4 L436.94,958.65 L438.92,962.76 L440.9,966.71 L442.87,970.51 L444.85,974.15 L446.82,977.64 L448.8,980.98 L450.78,984.16 L452.75,987.19 L454.73,990.07 L456.71,992.79 L458.68,995.38 L460.66,997.82 L462.63,1000.12 L464.61,1002.29 L466.59,1004.33 L468.56,1006.25 L470.54,1008.05 L472.52,1009.73 L474.49,1011.3 L476.47,1012.77 L478.44,1014.14 L480.42,1015.41 L482.4,1016.6 L484.37,1017.7 L486.35,1018.72 L488.33,1019.67 L490.3,1020.55 L492.28,1021.36 L494.25,1022.11 L496.23,1022.8 L498.21,1023.44 L500.18,1024.03 L502.16,1024.57 L504.14,1025.07" fill="none" stroke="#0B5AA2" stroke-width="3.75" stroke-linecap="round" stroke-linejoin="round"/>
<path d="M187.93,1028.91 L189.91,1028.83 L191.89,1028.75 L193.86,1028.67 L195.84,1028.58 L197.82,1028.49 L199.79,1028.39 L201.77,1028.29 L203.74,1028.18 L205.72,1028.07 L207.7,1027.95 L209.67,1027.82 L211.65,1027.69 L213.63,1027.56 L215.6,1027.41 L217.58,1027.26 L219.55,1027.1 L221.53,1026.93 L223.51,1026.76 L225.48,1026.57 L227.46,1026.38 L229.44,1026.17 L231.41,1025.96 L233.39,1025.73 L235.36,1025.5 L237.34,1025.25 L239.32,1024.99 L241.29,1024.72 L243.27,1024.43 L245.25,1024.13 L247.22,1023.81 L249.2,1023.48 L251.17,1023.14 L253.15,1022.77 L255.13,1022.39 L257.1,1021.99 L259.08,1021.57 L261.06,1021.13 L263.03,1020.66 L265.01,1020.18 L266.98,1019.67 L268.96,1019.14 L270.94,1018.58 L272.91,1018 L274.89,1017.38 L276.87,1016.74 L278.84,1016.07 L280.82,1015.37 L282.79,1014.63 L284.77,1013.86 L286.75,1013.05 L288.72,1012.21 L290.7,1011.33 L292.68,1010.41 L294.65,1009.44 L296.63,1008.44 L298.6,1007.38 L300.58,1006.29 L302.56,1005.14 L304.53,1003.94 L306.51,1002.7 L308.49,1001.4 L310.46,1000.04 L312.44,998.63 L314.41,997.16 L316.39,995.63 L318.37,994.04 L320.34,992.39 L322.32,990.67 L324.3,988.89 L326.27,987.04 L328.25,985.12 L330.22,983.13 L332.2,981.07 L334.18,978.95 L336.15,976.75 L338.13,974.47 L340.11,972.13 L342.08,969.71 L344.06,967.22 L346.04,964.66 L348.01,962.03 L349.99,959.33 L351.96,956.56 L353.94,953.73 L355.92,950.84 L357.89,947.88 L359.87,944.87 L361.85,941.81 L363.82,938.7 L365.8,935.54 L367.77,932.36 L369.75,929.14 L371.73,925.89 L373.7,922.63 L375.68,919.36 L377.66,916.1 L379.63,912.84 L381.61,909.6 L383.58,906.39 L385.56,903.22 L387.54,900.11 L389.51,897.05 L391.49,894.07 L393.47,891.18 L395.44,888.39 L397.42,885.7 L399.39,883.14 L401.37,880.72 L403.35,878.44 L405.32,876.32 L407.3,874.36 L409.28,872.59 L411.25,871 L413.23,869.61 L415.2,868.42 L417.18,867.44 L419.16,866.68 L421.13,866.14 L423.11,865.82 L425.09,865.72 L427.06,865.85 L429.04,866.21 L431.01,866.78 L432.99,867.58 L434.97,868.59 L436.94,869.81 L438.92,871.24 L440.9,872.86 L442.87,874.66 L444.85,876.64 L446.82,878.79 L448.8,881.09 L450.78,883.54 L452.75,886.12 L454.73,888.82 L456.71,891.64 L458.68,894.54 L460.66,897.53 L462.63,900.6 L464.61,903.72 L466.59,906.9 L468.56,910.11 L470.54,913.36 L472.52,916.62 L474.49,919.88 L476.47,923.15 L478.44,926.41 L480.42,929.65 L482.4,932.86 L484.37,936.05 L486.35,939.19 L488.33,942.3 L490.3,945.35 L492.28,948.35 L494.25,951.3 L496.23,954.18 L498.21,957.01 L500.18,959.76 L502.16,962.45 L504.14,965.07" fill="none" stroke="#DE8C07" stroke-width="3.75" stroke-linecap="round" stroke-linejoin="round"/>
<path d="M187.93,1030.4 L189.91,1030.4 L191.89,1030.4 L193.86,1030.4 L195.84,1030.4 L197.82,1030.4 L199.79,1030.4 L201.77,1030.39 L203.74,1030.39 L205.72,1030.39 L207.7,1030.39 L209.67,1030.39 L211.65,1030.39 L213.63,1030.39 L215.6,1030.39 L217.58,1030.39 L219.55,1030.39 L221.53,1030.39 L223.51,1030.39 L225.48,1030.38 L227.46,1030.38 L229.44,1030.38 L231.41,1030.38 L233.39,1030.38 L235.36,1030.37 L237.34,1030.37 L239.32,1030.37 L241.29,1030.37 L243.27,1030.36 L245.25,1030.36 L247.22,1030.35 L249.2,1030.35 L251.17,1030.34 L253.15,1030.34 L255.13,1030.33 L257.1,1030.33 L259.08,1030.32 L261.06,1030.31 L263.03,1030.3 L265.01,1030.29 L266.98,1030.28 L268.96,1030.27 L270.94,1030.25 L272.91,1030.24 L274.89,1030.22 L276.87,1030.2 L278.84,1030.18 L280.82,1030.16 L282.79,1030.14 L284.77,1030.11 L286.75,1030.08 L288.72,1030.05 L290.7,1030.01 L292.68,1029.97 L294.65,1029.93 L296.63,1029.88 L298.6,1029.83 L300.58,1029.77 L302.56,1029.71 L304.53,1029.64 L306.51,1029.56 L308.49,1029.48 L310.46,1029.38 L312.44,1029.28 L314.41,1029.17 L316.39,1029.05 L318.37,1028.91 L320.34,1028.77 L322.32,1028.61 L324.3,1028.43 L326.27,1028.24 L328.25,1028.02 L330.22,1027.79 L332.2,1027.54 L334.18,1027.26 L336.15,1026.96 L338.13,1026.63 L340.11,1026.27 L342.08,1025.88 L344.06,1025.45 L346.04,1024.99 L348.01,1024.49 L349.99,1023.94 L351.96,1023.34 L353.94,1022.69 L355.92,1021.99 L357.89,1021.23 L359.87,1020.41 L361.85,1019.53 L363.82,1018.57 L365.8,1017.53 L367.77,1016.42 L369.75,1015.22 L371.73,1013.93 L373.7,1012.54 L375.68,1011.06 L377.66,1009.47 L379.63,1007.77 L381.61,1005.95 L383.58,1004.02 L385.56,1001.96 L387.54,999.77 L389.51,997.44 L391.49,994.98 L393.47,992.37 L395.44,989.62 L397.42,986.72 L399.39,983.67 L401.37,980.46 L403.35,977.1 L405.32,973.59 L407.3,969.92 L409.28,966.09 L411.25,962.11 L413.23,957.99 L415.2,953.71 L417.18,949.29 L419.16,944.73 L421.13,940.04 L423.11,935.23 L425.09,930.29 L427.06,925.24 L429.04,920.09 L431.01,914.84 L432.99,909.51 L434.97,904.1 L436.94,898.62 L438.92,893.1 L440.9,887.52 L442.87,881.92 L444.85,876.29 L446.82,870.65 L448.8,865.01 L450.78,859.39 L452.75,853.78 L454.73,848.2 L456.71,842.66 L458.68,837.17 L460.66,831.73 L462.63,826.37 L464.61,821.07 L466.59,815.85 L468.56,810.72 L470.54,805.69 L472.52,800.74 L474.49,795.9 L476.47,791.17 L478.44,786.54 L480.42,782.03 L482.4,777.62 L484.37,773.34 L486.35,769.17 L488.33,765.12 L490.3,761.19 L492.28,757.38 L494.25,753.68 L496.23,750.1 L498.21,746.64 L500.18,743.3 L502.16,740.07 L504.14,736.95" fill="none" stroke="#128B5E" stroke-width="3.75" stroke-linecap="round" stroke-linejoin="round"/>
<path d="M548.4,666.71 L550.38,666.73 L552.36,666.76 L554.33,666.78 L556.31,666.81 L558.29,666.83 L560.26,666.86 L562.24,666.89 L564.21,666.92 L566.19,666.95 L568.17,666.99 L570.14,667.02 L572.12,667.06 L574.1,667.1 L576.07,667.14 L578.05,667.18 L580.02,667.23 L582,667.28 L583.98,667.33 L585.95,667.38 L587.93,667.44 L589.91,667.5 L591.88,667.56 L593.86,667.62 L595.83,667.69 L597.81,667.76 L599.79,667.84 L601.76,667.92 L603.74,668 L605.72,668.09 L607.69,668.18 L609.67,668.28 L611.64,668.38 L613.62,668.49 L615.6,668.6 L617.57,668.72 L619.55,668.84 L621.53,668.97 L623.5,669.11 L625.48,669.25 L627.45,669.4 L629.43,669.56 L631.41,669.73 L633.38,669.91 L635.36,670.09 L637.34,670.29 L639.31,670.49 L641.29,670.7 L643.26,670.93 L645.24,671.17 L647.22,671.42 L649.19,671.68 L651.17,671.95 L653.15,672.24 L655.12,672.54 L657.1,672.86 L659.07,673.2 L661.05,673.55 L663.03,673.92 L665,674.31 L666.98,674.72 L668.96,675.15 L670.93,675.6 L672.91,676.07 L674.88,676.57 L676.86,677.09 L678.84,677.64 L680.81,678.21 L682.79,678.82 L684.77,679.45 L686.74,680.12 L688.72,680.82 L690.69,681.56 L692.67,682.33 L694.65,683.14 L696.62,683.99 L698.6,684.88 L700.58,685.82 L702.55,686.8 L704.53,687.83 L706.5,688.91 L708.48,690.05 L710.46,691.24 L712.43,692.48 L714.41,693.79 L716.39,695.16 L718.36,696.6 L720.34,698.1 L722.32,699.68 L724.29,701.33 L726.27,703.06 L728.24,704.87 L730.22,706.77 L732.2,708.75 L734.17,710.82 L736.15,712.99 L738.13,715.25 L740.1,717.62 L742.08,720.09 L744.05,722.67 L746.03,725.37 L748.01,728.17 L749.98,731.1 L751.96,734.15 L753.94,737.32 L755.91,740.62 L757.89,744.06 L759.86,747.62 L761.84,751.33 L763.82,755.17 L765.79,759.15 L767.77,763.27 L769.75,767.53 L771.72,771.93 L773.7,776.48 L775.67,781.16 L777.65,785.98 L779.63,790.94 L781.6,796.04 L783.58,801.26 L785.56,806.6 L787.53,812.07 L789.51,817.64 L791.48,823.32 L793.46,829.1 L795.44,834.96 L797.41,840.9 L799.39,846.9 L801.37,852.96 L803.34,859.06 L805.32,865.18 L807.29,871.32 L809.27,877.45 L811.25,883.57 L813.22,889.66 L815.2,895.71 L817.18,901.7 L819.15,907.61 L821.13,913.43 L823.1,919.16 L825.08,924.77 L827.06,930.25 L829.03,935.6 L831.01,940.81 L832.99,945.85 L834.96,950.74 L836.94,955.45 L838.91,959.99 L840.89,964.35 L842.87,968.53 L844.84,972.52 L846.82,976.33 L848.8,979.96 L850.77,983.41 L852.75,986.67 L854.72,989.76 L856.7,992.67 L858.68,995.42 L860.65,998 L862.63,1000.42 L864.61,1002.69" fill="none" stroke="#0B5AA2" stroke-width="3.75" stroke-linecap="round" stroke-linejoin="round"/>
<path d="M548.4,1029.98 L550.38,1029.96 L552.36,1029.93 L554.33,1029.91 L556.31,1029.88 L558.29,1029.86 L560.26,1029.83 L562.24,1029.8 L564.21,1029.77 L566.19,1029.74 L568.17,1029.7 L570.14,1029.67 L572.12,1029.63 L574.1,1029.59 L576.07,1029.55 L578.05,1029.51 L580.02,1029.46 L582,1029.41 L583.98,1029.36 L585.95,1029.31 L587.93,1029.25 L589.91,1029.2 L591.88,1029.13 L593.86,1029.07 L595.83,1029 L597.81,1028.93 L599.79,1028.86 L601.76,1028.78 L603.74,1028.69 L605.72,1028.61 L607.69,1028.52 L609.67,1028.42 L611.64,1028.32 L613.62,1028.21 L615.6,1028.1 L617.57,1027.99 L619.55,1027.86 L621.53,1027.73 L623.5,1027.6 L625.48,1027.45 L627.45,1027.31 L629.43,1027.15 L631.41,1026.98 L633.38,1026.81 L635.36,1026.63 L637.34,1026.44 L639.31,1026.24 L641.29,1026.02 L643.26,1025.8 L645.24,1025.57 L647.22,1025.33 L649.19,1025.07 L651.17,1024.8 L653.15,1024.52 L655.12,1024.22 L657.1,1023.91 L659.07,1023.59 L661.05,1023.24 L663.03,1022.88 L665,1022.51 L666.98,1022.11 L668.96,1021.7 L670.93,1021.26 L672.91,1020.81 L674.88,1020.33 L676.86,1019.83 L678.84,1019.31 L680.81,1018.76 L682.79,1018.18 L684.77,1017.58 L686.74,1016.94 L688.72,1016.28 L690.69,1015.59 L692.67,1014.87 L694.65,1014.11 L696.62,1013.31 L698.6,1012.48 L700.58,1011.62 L702.55,1010.71 L704.53,1009.76 L706.5,1008.77 L708.48,1007.74 L710.46,1006.66 L712.43,1005.54 L714.41,1004.36 L716.39,1003.14 L718.36,1001.86 L720.34,1000.54 L722.32,999.15 L724.29,997.72 L726.27,996.22 L728.24,994.67 L730.22,993.05 L732.2,991.38 L734.17,989.64 L736.15,987.84 L738.13,985.98 L740.1,984.06 L742.08,982.06 L744.05,980.01 L746.03,977.89 L748.01,975.7 L749.98,973.46 L751.96,971.15 L753.94,968.78 L755.91,966.35 L757.89,963.86 L759.86,961.32 L761.84,958.73 L763.82,956.09 L765.79,953.41 L767.77,950.69 L769.75,947.94 L771.72,945.17 L773.7,942.37 L775.67,939.57 L777.65,936.76 L779.63,933.96 L781.6,931.17 L783.58,928.4 L785.56,925.68 L787.53,922.99 L789.51,920.37 L791.48,917.82 L793.46,915.35 L795.44,912.97 L797.41,910.7 L799.39,908.55 L801.37,906.53 L803.34,904.65 L805.32,902.93 L807.29,901.37 L809.27,899.99 L811.25,898.79 L813.22,897.78 L815.2,896.97 L817.18,896.37 L819.15,895.97 L821.13,895.78 L823.1,895.8 L825.08,896.04 L827.06,896.49 L829.03,897.14 L831.01,897.99 L832.99,899.05 L834.96,900.29 L836.94,901.71 L838.91,903.31 L840.89,905.07 L842.87,906.98 L844.84,909.03 L846.82,911.2 L848.8,913.5 L850.77,915.9 L852.75,918.39 L854.72,920.96 L856.7,923.6 L858.68,926.29 L860.65,929.03 L862.63,931.8 L864.61,934.59" fill="none" stroke="#DE8C07" stroke-width="3.75" stroke-linecap="round" stroke-linejoin="round"/>
<path d="M548.4,1030.4 L550.38,1030.4 L552.36,1030.4 L554.33,1030.4 L556.31,1030.4 L558.29,1030.4 L560.26,1030.4 L562.24,1030.4 L564.21,1030.4 L566.19,1030.4 L568.17,1030.4 L570.14,1030.4 L572.12,1030.4 L574.1,1030.4 L576.07,1030.4 L578.05,1030.4 L580.02,1030.4 L582,1030.4 L583.98,1030.4 L585.95,1030.4 L587.93,1030.4 L589.91,1030.4 L591.88,1030.4 L593.86,1030.4 L595.83,1030.4 L597.81,1030.39 L599.79,1030.39 L601.76,1030.39 L603.74,1030.39 L605.72,1030.39 L607.69,1030.39 L609.67,1030.39 L611.64,1030.39 L613.62,1030.39 L615.6,1030.39 L617.57,1030.39 L619.55,1030.39 L621.53,1030.38 L623.5,1030.38 L625.48,1030.38 L627.45,1030.38 L629.43,1030.38 L631.41,1030.38 L633.38,1030.37 L635.36,1030.37 L637.34,1030.37 L639.31,1030.36 L641.29,1030.36 L643.26,1030.36 L645.24,1030.35 L647.22,1030.35 L649.19,1030.34 L651.17,1030.34 L653.15,1030.33 L655.12,1030.32 L657.1,1030.31 L659.07,1030.3 L661.05,1030.29 L663.03,1030.28 L665,1030.27 L666.98,1030.26 L668.96,1030.24 L670.93,1030.23 L672.91,1030.21 L674.88,1030.19 L676.86,1030.17 L678.84,1030.15 L680.81,1030.12 L682.79,1030.09 L684.77,1030.06 L686.74,1030.02 L688.72,1029.99 L690.69,1029.94 L692.67,1029.9 L694.65,1029.84 L696.62,1029.79 L698.6,1029.72 L700.58,1029.66 L702.55,1029.58 L704.53,1029.5 L706.5,1029.4 L708.48,1029.3 L710.46,1029.19 L712.43,1029.07 L714.41,1028.94 L716.39,1028.79 L718.36,1028.63 L720.34,1028.45 L722.32,1028.26 L724.29,1028.04 L726.27,1027.81 L728.24,1027.55 L730.22,1027.27 L732.2,1026.96 L734.17,1026.62 L736.15,1026.26 L738.13,1025.85 L740.1,1025.41 L742.08,1024.93 L744.05,1024.41 L746.03,1023.83 L748.01,1023.21 L749.98,1022.53 L751.96,1021.79 L753.94,1020.99 L755.91,1020.12 L757.89,1019.17 L759.86,1018.14 L761.84,1017.03 L763.82,1015.83 L765.79,1014.53 L767.77,1013.13 L769.75,1011.62 L771.72,1009.99 L773.7,1008.24 L775.67,1006.36 L777.65,1004.35 L779.63,1002.19 L781.6,999.89 L783.58,997.43 L785.56,994.81 L787.53,992.03 L789.51,989.07 L791.48,985.95 L793.46,982.64 L795.44,979.16 L797.41,975.49 L799.39,971.64 L801.37,967.6 L803.34,963.38 L805.32,958.98 L807.29,954.4 L809.27,949.65 L811.25,944.72 L813.22,939.64 L815.2,934.41 L817.18,929.03 L819.15,923.51 L821.13,917.87 L823.1,912.13 L825.08,906.28 L827.06,900.35 L829.03,894.35 L831.01,888.29 L832.99,882.19 L834.96,876.07 L836.94,869.93 L838.91,863.79 L840.89,857.67 L842.87,851.59 L844.84,845.54 L846.82,839.55 L848.8,833.63 L850.77,827.78 L852.75,822.03 L854.72,816.37 L856.7,810.82 L858.68,805.38 L860.65,800.07 L862.63,794.87 L864.61,789.81" fill="none" stroke="#128B5E" stroke-width="3.75" stroke-linecap="round" stroke-linejoin="round"/>
<path d="M908.87,677.68 L910.85,678.25 L912.83,678.85 L914.8,679.48 L916.78,680.13 L918.76,680.82 L920.73,681.55 L922.71,682.3 L924.68,683.1 L926.66,683.93 L928.64,684.8 L930.61,685.71 L932.59,686.67 L934.57,687.67 L936.54,688.72 L938.52,689.81 L940.49,690.96 L942.47,692.16 L944.45,693.42 L946.42,694.73 L948.4,696.1 L950.38,697.53 L952.35,699.03 L954.33,700.6 L956.3,702.23 L958.28,703.93 L960.26,705.71 L962.23,707.57 L964.21,709.5 L966.19,711.51 L968.16,713.61 L970.14,715.8 L972.11,718.07 L974.09,720.44 L976.07,722.9 L978.04,725.45 L980.02,728.1 L982,730.86 L983.97,733.71 L985.95,736.68 L987.92,739.74 L989.9,742.92 L991.88,746.2 L993.85,749.6 L995.83,753.1 L997.81,756.72 L999.78,760.45 L1001.76,764.3 L1003.73,768.26 L1005.71,772.33 L1007.69,776.51 L1009.66,780.8 L1011.64,785.19 L1013.62,789.7 L1015.59,794.3 L1017.57,799.01 L1019.54,803.81 L1021.52,808.7 L1023.5,813.69 L1025.47,818.75 L1027.45,823.89 L1029.43,829.1 L1031.4,834.37 L1033.38,839.7 L1035.35,845.07 L1037.33,850.49 L1039.31,855.94 L1041.28,861.41 L1043.26,866.9 L1045.24,872.39 L1047.21,877.87 L1049.19,883.34 L1051.16,888.78 L1053.14,894.19 L1055.12,899.56 L1057.09,904.87 L1059.07,910.12 L1061.05,915.3 L1063.02,920.39 L1065,925.39 L1066.98,930.3 L1068.95,935.1 L1070.93,939.79 L1072.9,944.36 L1074.88,948.8 L1076.86,953.12 L1078.83,957.3 L1080.81,961.34 L1082.79,965.24 L1084.76,969 L1086.74,972.61 L1088.71,976.08 L1090.69,979.4 L1092.67,982.58 L1094.64,985.61 L1096.62,988.5 L1098.6,991.24 L1100.57,993.85 L1102.55,996.32 L1104.52,998.66 L1106.5,1000.87 L1108.48,1002.95 L1110.45,1004.91 L1112.43,1006.76 L1114.41,1008.49 L1116.38,1010.11 L1118.36,1011.63 L1120.33,1013.05 L1122.31,1014.38 L1124.29,1015.62 L1126.26,1016.77 L1128.24,1017.84 L1130.22,1018.84 L1132.19,1019.77 L1134.17,1020.62 L1136.14,1021.42 L1138.12,1022.16 L1140.1,1022.84 L1142.07,1023.46 L1144.05,1024.04 L1146.03,1024.58 L1148,1025.07 L1149.98,1025.52 L1151.95,1025.94 L1153.93,1026.32 L1155.91,1026.67 L1157.88,1027 L1159.86,1027.29 L1161.84,1027.57 L1163.81,1027.81 L1165.79,1028.04 L1167.76,1028.25 L1169.74,1028.44 L1171.72,1028.62 L1173.69,1028.78 L1175.67,1028.92 L1177.65,1029.05 L1179.62,1029.17 L1181.6,1029.29 L1183.57,1029.39 L1185.55,1029.48 L1187.53,1029.56 L1189.5,1029.64 L1191.48,1029.71 L1193.46,1029.77 L1195.43,1029.83 L1197.41,1029.88 L1199.38,1029.93 L1201.36,1029.97 L1203.34,1030.01 L1205.31,1030.05 L1207.29,1030.08 L1209.27,1030.11 L1211.24,1030.14 L1213.22,1030.16 L1215.19,1030.18 L1217.17,1030.2 L1219.15,1030.22 L1221.12,1030.24 L1223.1,1030.25 L1225.08,1030.27" fill="none" stroke="#0B5AA2" stroke-width="3.75" stroke-linecap="round" stroke-linejoin="round"/>
<path d="M908.87,1019.11 L910.85,1018.56 L912.83,1017.97 L914.8,1017.36 L916.78,1016.71 L918.76,1016.04 L920.73,1015.33 L922.71,1014.6 L924.68,1013.82 L926.66,1013.02 L928.64,1012.17 L930.61,1011.29 L932.59,1010.36 L934.57,1009.4 L936.54,1008.39 L938.52,1007.33 L940.49,1006.23 L942.47,1005.08 L944.45,1003.88 L946.42,1002.63 L948.4,1001.33 L950.38,999.97 L952.35,998.55 L954.33,997.08 L956.3,995.54 L958.28,993.94 L960.26,992.28 L962.23,990.56 L964.21,988.77 L966.19,986.91 L968.16,984.98 L970.14,982.98 L972.11,980.91 L974.09,978.76 L976.07,976.55 L978.04,974.26 L980.02,971.89 L982,969.45 L983.97,966.94 L985.95,964.35 L987.92,961.69 L989.9,958.96 L991.88,956.15 L993.85,953.28 L995.83,950.33 L997.81,947.33 L999.78,944.26 L1001.76,941.13 L1003.73,937.95 L1005.71,934.72 L1007.69,931.44 L1009.66,928.13 L1011.64,924.78 L1013.62,921.4 L1015.59,918.01 L1017.57,914.6 L1019.54,911.19 L1021.52,907.78 L1023.5,904.39 L1025.47,901.03 L1027.45,897.7 L1029.43,894.41 L1031.4,891.18 L1033.38,888.02 L1035.35,884.94 L1037.33,881.96 L1039.31,879.07 L1041.28,876.3 L1043.26,873.66 L1045.24,871.16 L1047.21,868.8 L1049.19,866.61 L1051.16,864.58 L1053.14,862.74 L1055.12,861.09 L1057.09,859.64 L1059.07,858.39 L1061.05,857.35 L1063.02,856.53 L1065,855.93 L1066.98,855.55 L1068.95,855.4 L1070.93,855.48 L1072.9,855.78 L1074.88,856.31 L1076.86,857.07 L1078.83,858.04 L1080.81,859.22 L1082.79,860.61 L1084.76,862.2 L1086.74,863.99 L1088.71,865.95 L1090.69,868.09 L1092.67,870.4 L1094.64,872.86 L1096.62,875.46 L1098.6,878.19 L1100.57,881.04 L1102.55,883.99 L1104.52,887.05 L1106.5,890.18 L1108.48,893.39 L1110.45,896.66 L1112.43,899.98 L1114.41,903.33 L1116.38,906.72 L1118.36,910.12 L1120.33,913.53 L1122.31,916.94 L1124.29,920.34 L1126.26,923.72 L1128.24,927.08 L1130.22,930.41 L1132.19,933.69 L1134.17,936.94 L1136.14,940.14 L1138.12,943.28 L1140.1,946.37 L1142.07,949.4 L1144.05,952.36 L1146.03,955.25 L1148,958.08 L1149.98,960.84 L1151.95,963.52 L1153.93,966.13 L1155.91,968.67 L1157.88,971.13 L1159.86,973.52 L1161.84,975.83 L1163.81,978.07 L1165.79,980.24 L1167.76,982.34 L1169.74,984.36 L1171.72,986.31 L1173.69,988.19 L1175.67,990 L1177.65,991.75 L1179.62,993.43 L1181.6,995.05 L1183.57,996.6 L1185.55,998.09 L1187.53,999.53 L1189.5,1000.91 L1191.48,1002.23 L1193.46,1003.49 L1195.43,1004.71 L1197.41,1005.87 L1199.38,1006.99 L1201.36,1008.06 L1203.34,1009.08 L1205.31,1010.06 L1207.29,1011 L1209.27,1011.9 L1211.24,1012.75 L1213.22,1013.57 L1215.19,1014.36 L1217.17,1015.11 L1219.15,1015.82 L1221.12,1016.5 L1223.1,1017.16 L1225.08,1017.78" fill="none" stroke="#DE8C07" stroke-width="3.75" stroke-linecap="round" stroke-linejoin="round"/>
<path d="M908.87,1030.29 L910.85,1030.28 L912.83,1030.27 L914.8,1030.26 L916.78,1030.24 L918.76,1030.23 L920.73,1030.21 L922.71,1030.19 L924.68,1030.17 L926.66,1030.14 L928.64,1030.12 L930.61,1030.09 L932.59,1030.06 L934.57,1030.02 L936.54,1029.99 L938.52,1029.94 L940.49,1029.9 L942.47,1029.85 L944.45,1029.79 L946.42,1029.73 L948.4,1029.66 L950.38,1029.59 L952.35,1029.51 L954.33,1029.42 L956.3,1029.32 L958.28,1029.21 L960.26,1029.09 L962.23,1028.96 L964.21,1028.82 L966.19,1028.67 L968.16,1028.5 L970.14,1028.31 L972.11,1028.11 L974.09,1027.89 L976.07,1027.65 L978.04,1027.38 L980.02,1027.09 L982,1026.78 L983.97,1026.44 L985.95,1026.06 L987.92,1025.66 L989.9,1025.22 L991.88,1024.74 L993.85,1024.22 L995.83,1023.65 L997.81,1023.04 L999.78,1022.37 L1001.76,1021.66 L1003.73,1020.88 L1005.71,1020.04 L1007.69,1019.14 L1009.66,1018.17 L1011.64,1017.12 L1013.62,1015.99 L1015.59,1014.78 L1017.57,1013.48 L1019.54,1012.09 L1021.52,1010.6 L1023.5,1009.01 L1025.47,1007.31 L1027.45,1005.5 L1029.43,1003.58 L1031.4,1001.54 L1033.38,999.37 L1035.35,997.07 L1037.33,994.64 L1039.31,992.08 L1041.28,989.38 L1043.26,986.53 L1045.24,983.55 L1047.21,980.42 L1049.19,977.14 L1051.16,973.72 L1053.14,970.15 L1055.12,966.44 L1057.09,962.58 L1059.07,958.58 L1061.05,954.45 L1063.02,950.17 L1065,945.77 L1066.98,941.24 L1068.95,936.59 L1070.93,931.82 L1072.9,926.95 L1074.88,921.97 L1076.86,916.91 L1078.83,911.76 L1080.81,906.53 L1082.79,901.24 L1084.76,895.89 L1086.74,890.49 L1088.71,885.05 L1090.69,879.59 L1092.67,874.11 L1094.64,868.62 L1096.62,863.13 L1098.6,857.66 L1100.57,852.2 L1102.55,846.77 L1104.52,841.38 L1106.5,836.04 L1108.48,830.75 L1110.45,825.52 L1112.43,820.36 L1114.41,815.27 L1116.38,810.26 L1118.36,805.34 L1120.33,800.51 L1122.31,795.77 L1124.29,791.13 L1126.26,786.6 L1128.24,782.17 L1130.22,777.84 L1132.19,773.63 L1134.17,769.52 L1136.14,765.53 L1138.12,761.65 L1140.1,757.88 L1142.07,754.23 L1144.05,750.69 L1146.03,747.26 L1148,743.94 L1149.98,740.73 L1151.95,737.63 L1153.93,734.63 L1155.91,731.74 L1157.88,728.96 L1159.86,726.27 L1161.84,723.69 L1163.81,721.2 L1165.79,718.81 L1167.76,716.5 L1169.74,714.29 L1171.72,712.17 L1173.69,710.12 L1175.67,708.17 L1177.65,706.29 L1179.62,704.49 L1181.6,702.76 L1183.57,701.1 L1185.55,699.52 L1187.53,698 L1189.5,696.55 L1191.48,695.15 L1193.46,693.82 L1195.43,692.55 L1197.41,691.33 L1199.38,690.17 L1201.36,689.06 L1203.34,687.99 L1205.31,686.98 L1207.29,686.01 L1209.27,685.08 L1211.24,684.2 L1213.22,683.35 L1215.19,682.55 L1217.17,681.78 L1219.15,681.05 L1221.12,680.35 L1223.1,679.68 L1225.08,679.04" fill="none" stroke="#128B5E" stroke-width="3.75" stroke-linecap="round" stroke-linejoin="round"/>
<path d="M1269.34,674.44 L1271.32,674.85 L1273.3,675.28 L1275.27,675.73 L1277.25,676.21 L1279.23,676.71 L1281.2,677.23 L1283.18,677.78 L1285.15,678.36 L1287.13,678.96 L1289.11,679.6 L1291.08,680.27 L1293.06,680.96 L1295.04,681.7 L1297.01,682.46 L1298.99,683.27 L1300.96,684.11 L1302.94,684.99 L1304.92,685.92 L1306.89,686.89 L1308.87,687.91 L1310.85,688.97 L1312.82,690.08 L1314.8,691.25 L1316.77,692.47 L1318.75,693.75 L1320.73,695.08 L1322.7,696.48 L1324.68,697.94 L1326.66,699.46 L1328.63,701.06 L1330.61,702.72 L1332.58,704.46 L1334.56,706.28 L1336.54,708.18 L1338.51,710.15 L1340.49,712.21 L1342.47,714.36 L1344.44,716.6 L1346.42,718.93 L1348.39,721.36 L1350.37,723.88 L1352.35,726.51 L1354.32,729.23 L1356.3,732.07 L1358.28,735.01 L1360.25,738.06 L1362.23,741.22 L1364.2,744.5 L1366.18,747.89 L1368.16,751.39 L1370.13,755.02 L1372.11,758.76 L1374.09,762.62 L1376.06,766.6 L1378.04,770.71 L1380.01,774.92 L1381.99,779.26 L1383.97,783.71 L1385.94,788.28 L1387.92,792.95 L1389.9,797.74 L1391.87,802.63 L1393.85,807.62 L1395.82,812.7 L1397.8,817.88 L1399.78,823.13 L1401.75,828.47 L1403.73,833.88 L1405.71,839.35 L1407.68,844.87 L1409.66,850.44 L1411.63,856.04 L1413.61,861.67 L1415.59,867.32 L1417.56,872.97 L1419.54,878.62 L1421.52,884.25 L1423.49,889.86 L1425.47,895.43 L1427.45,900.94 L1429.42,906.4 L1431.4,911.79 L1433.37,917.11 L1435.35,922.33 L1437.33,927.45 L1439.3,932.46 L1441.28,937.36 L1443.26,942.13 L1445.23,946.77 L1447.21,951.28 L1449.18,955.65 L1451.16,959.86 L1453.14,963.93 L1455.11,967.85 L1457.09,971.61 L1459.07,975.22 L1461.04,978.67 L1463.02,981.97 L1464.99,985.11 L1466.97,988.09 L1468.95,990.93 L1470.92,993.62 L1472.9,996.16 L1474.88,998.56 L1476.85,1000.83 L1478.83,1002.96 L1480.8,1004.96 L1482.78,1006.84 L1484.76,1008.61 L1486.73,1010.25 L1488.71,1011.79 L1490.69,1013.23 L1492.66,1014.57 L1494.64,1015.82 L1496.61,1016.98 L1498.59,1018.05 L1500.57,1019.05 L1502.54,1019.97 L1504.52,1020.83 L1506.5,1021.62 L1508.47,1022.35 L1510.45,1023.02 L1512.42,1023.65 L1514.4,1024.22 L1516.38,1024.74 L1518.35,1025.23 L1520.33,1025.67 L1522.31,1026.08 L1524.28,1026.46 L1526.26,1026.8 L1528.23,1027.12 L1530.21,1027.41 L1532.19,1027.67 L1534.16,1027.91 L1536.14,1028.13 L1538.12,1028.34 L1540.09,1028.52 L1542.07,1028.69 L1544.04,1028.84 L1546.02,1028.98 L1548,1029.11 L1549.97,1029.23 L1551.95,1029.34 L1553.93,1029.43 L1555.9,1029.52 L1557.88,1029.6 L1559.85,1029.67 L1561.83,1029.74 L1563.81,1029.8 L1565.78,1029.86 L1567.76,1029.91 L1569.74,1029.95 L1571.71,1029.99 L1573.69,1030.03 L1575.66,1030.07 L1577.64,1030.1 L1579.62,1030.12 L1581.59,1030.15 L1583.57,1030.17 L1585.55,1030.19" fill="none" stroke="#0B5AA2" stroke-width="3.75" stroke-linecap="round" stroke-linejoin="round"/>
<path d="M1269.34,1022.32 L1271.32,1021.92 L1273.3,1021.49 L1275.27,1021.05 L1277.25,1020.58 L1279.23,1020.09 L1281.2,1019.58 L1283.18,1019.04 L1285.15,1018.48 L1287.13,1017.89 L1289.11,1017.27 L1291.08,1016.63 L1293.06,1015.95 L1295.04,1015.24 L1297.01,1014.5 L1298.99,1013.72 L1300.96,1012.91 L1302.94,1012.06 L1304.92,1011.17 L1306.89,1010.24 L1308.87,1009.27 L1310.85,1008.26 L1312.82,1007.2 L1314.8,1006.09 L1316.77,1004.94 L1318.75,1003.73 L1320.73,1002.48 L1322.7,1001.17 L1324.68,999.8 L1326.66,998.38 L1328.63,996.9 L1330.61,995.36 L1332.58,993.76 L1334.56,992.1 L1336.54,990.37 L1338.51,988.58 L1340.49,986.72 L1342.47,984.79 L1344.44,982.79 L1346.42,980.72 L1348.39,978.58 L1350.37,976.37 L1352.35,974.08 L1354.32,971.73 L1356.3,969.3 L1358.28,966.8 L1360.25,964.23 L1362.23,961.59 L1364.2,958.88 L1366.18,956.1 L1368.16,953.27 L1370.13,950.36 L1372.11,947.4 L1374.09,944.39 L1376.06,941.32 L1378.04,938.21 L1380.01,935.06 L1381.99,931.87 L1383.97,928.66 L1385.94,925.42 L1387.92,922.17 L1389.9,918.91 L1391.87,915.66 L1393.85,912.42 L1395.82,909.2 L1397.8,906.02 L1399.78,902.87 L1401.75,899.79 L1403.73,896.77 L1405.71,893.83 L1407.68,890.97 L1409.66,888.22 L1411.63,885.59 L1413.61,883.08 L1415.59,880.71 L1417.56,878.49 L1419.54,876.43 L1421.52,874.54 L1423.49,872.84 L1425.47,871.32 L1427.45,870 L1429.42,868.89 L1431.4,867.99 L1433.37,867.31 L1435.35,866.85 L1437.33,866.61 L1439.3,866.6 L1441.28,866.81 L1443.26,867.25 L1445.23,867.9 L1447.21,868.78 L1449.18,869.87 L1451.16,871.16 L1453.14,872.65 L1455.11,874.34 L1457.09,876.2 L1459.07,878.24 L1461.04,880.45 L1463.02,882.8 L1464.99,885.29 L1466.97,887.91 L1468.95,890.65 L1470.92,893.49 L1472.9,896.42 L1474.88,899.44 L1476.85,902.52 L1478.83,905.65 L1480.8,908.83 L1482.78,912.05 L1484.76,915.29 L1486.73,918.54 L1488.71,921.79 L1490.69,925.05 L1492.66,928.29 L1494.64,931.5 L1496.61,934.69 L1498.59,937.85 L1500.57,940.97 L1502.54,944.04 L1504.52,947.06 L1506.5,950.03 L1508.47,952.93 L1510.45,955.78 L1512.42,958.56 L1514.4,961.28 L1516.38,963.93 L1518.35,966.51 L1520.33,969.01 L1522.31,971.45 L1524.28,973.81 L1526.26,976.11 L1528.23,978.33 L1530.21,980.48 L1532.19,982.55 L1534.16,984.56 L1536.14,986.5 L1538.12,988.37 L1540.09,990.17 L1542.07,991.9 L1544.04,993.58 L1546.02,995.18 L1548,996.73 L1549.97,998.22 L1551.95,999.64 L1553.93,1001.01 L1555.9,1002.33 L1557.88,1003.59 L1559.85,1004.8 L1561.83,1005.96 L1563.81,1007.07 L1565.78,1008.14 L1567.76,1009.16 L1569.74,1010.13 L1571.71,1011.07 L1573.69,1011.96 L1575.66,1012.81 L1577.64,1013.63 L1579.62,1014.41 L1581.59,1015.16 L1583.57,1015.87 L1585.55,1016.55" fill="none" stroke="#DE8C07" stroke-width="3.75" stroke-linecap="round" stroke-linejoin="round"/>
<path d="M1269.34,1030.33 L1271.32,1030.32 L1273.3,1030.32 L1275.27,1030.31 L1277.25,1030.3 L1279.23,1030.29 L1281.2,1030.28 L1283.18,1030.26 L1285.15,1030.25 L1287.13,1030.23 L1289.11,1030.22 L1291.08,1030.2 L1293.06,1030.18 L1295.04,1030.15 L1297.01,1030.13 L1298.99,1030.1 L1300.96,1030.07 L1302.94,1030.04 L1304.92,1030 L1306.89,1029.96 L1308.87,1029.91 L1310.85,1029.86 L1312.82,1029.81 L1314.8,1029.75 L1316.77,1029.68 L1318.75,1029.61 L1320.73,1029.53 L1322.7,1029.44 L1324.68,1029.35 L1326.66,1029.24 L1328.63,1029.13 L1330.61,1029 L1332.58,1028.86 L1334.56,1028.71 L1336.54,1028.54 L1338.51,1028.36 L1340.49,1028.16 L1342.47,1027.94 L1344.44,1027.7 L1346.42,1027.44 L1348.39,1027.15 L1350.37,1026.84 L1352.35,1026.5 L1354.32,1026.13 L1356.3,1025.72 L1358.28,1025.28 L1360.25,1024.8 L1362.23,1024.28 L1364.2,1023.71 L1366.18,1023.1 L1368.16,1022.43 L1370.13,1021.71 L1372.11,1020.92 L1374.09,1020.08 L1376.06,1019.16 L1378.04,1018.17 L1380.01,1017.1 L1381.99,1015.96 L1383.97,1014.72 L1385.94,1013.39 L1387.92,1011.97 L1389.9,1010.44 L1391.87,1008.8 L1393.85,1007.05 L1395.82,1005.19 L1397.8,1003.2 L1399.78,1001.08 L1401.75,998.83 L1403.73,996.45 L1405.71,993.92 L1407.68,991.25 L1409.66,988.43 L1411.63,985.46 L1413.61,982.34 L1415.59,979.06 L1417.56,975.63 L1419.54,972.04 L1421.52,968.29 L1423.49,964.39 L1425.47,960.34 L1427.45,956.14 L1429.42,951.79 L1431.4,947.3 L1433.37,942.67 L1435.35,937.91 L1437.33,933.03 L1439.3,928.03 L1441.28,922.92 L1443.26,917.71 L1445.23,912.41 L1447.21,907.03 L1449.18,901.58 L1451.16,896.07 L1453.14,890.5 L1455.11,884.9 L1457.09,879.27 L1459.07,873.62 L1461.04,867.97 L1463.02,862.32 L1464.99,856.69 L1466.97,851.08 L1468.95,845.51 L1470.92,839.98 L1472.9,834.51 L1474.88,829.09 L1476.85,823.75 L1478.83,818.48 L1480.8,813.29 L1482.78,808.2 L1484.76,803.2 L1486.73,798.3 L1488.71,793.5 L1490.69,788.81 L1492.66,784.23 L1494.64,779.77 L1496.61,775.42 L1498.59,771.19 L1500.57,767.07 L1502.54,763.08 L1504.52,759.2 L1506.5,755.44 L1508.47,751.81 L1510.45,748.28 L1512.42,744.88 L1514.4,741.59 L1516.38,738.42 L1518.35,735.35 L1520.33,732.4 L1522.31,729.56 L1524.28,726.82 L1526.26,724.18 L1528.23,721.64 L1530.21,719.21 L1532.19,716.87 L1534.16,714.62 L1536.14,712.46 L1538.12,710.39 L1540.09,708.4 L1542.07,706.5 L1544.04,704.67 L1546.02,702.92 L1548,701.25 L1549.97,699.64 L1551.95,698.11 L1553.93,696.64 L1555.9,695.24 L1557.88,693.9 L1559.85,692.61 L1561.83,691.39 L1563.81,690.21 L1565.78,689.09 L1567.76,688.03 L1569.74,687 L1571.71,686.03 L1573.69,685.1 L1575.66,684.21 L1577.64,683.36 L1579.62,682.55 L1581.59,681.78 L1583.57,681.05 L1585.55,680.34" fill="none" stroke="#128B5E" stroke-width="3.75" stroke-linecap="round" stroke-linejoin="round"/>
<path d="M187.93,1137.65 L189.91,1138.03 L191.89,1138.43 L193.86,1138.84 L195.84,1139.28 L197.82,1139.74 L199.79,1140.22 L201.77,1140.72 L203.74,1141.25 L205.72,1141.81 L207.7,1142.39 L209.67,1143 L211.65,1143.64 L213.63,1144.32 L215.6,1145.02 L217.58,1145.76 L219.55,1146.54 L221.53,1147.35 L223.51,1148.2 L225.48,1149.09 L227.46,1150.02 L229.44,1151 L231.41,1152.02 L233.39,1153.1 L235.36,1154.22 L237.34,1155.39 L239.32,1156.62 L241.29,1157.9 L243.27,1159.25 L245.25,1160.65 L247.22,1162.12 L249.2,1163.65 L251.17,1165.25 L253.15,1166.92 L255.13,1168.67 L257.1,1170.49 L259.08,1172.39 L261.06,1174.37 L263.03,1176.43 L265.01,1178.58 L266.98,1180.82 L268.96,1183.15 L270.94,1185.57 L272.91,1188.09 L274.89,1190.71 L276.87,1193.43 L278.84,1196.25 L280.82,1199.18 L282.79,1202.21 L284.77,1205.35 L286.75,1208.61 L288.72,1211.97 L290.7,1215.45 L292.68,1219.05 L294.65,1222.75 L296.63,1226.58 L298.6,1230.52 L300.58,1234.57 L302.56,1238.74 L304.53,1243.02 L306.51,1247.41 L308.49,1251.91 L310.46,1256.52 L312.44,1261.23 L314.41,1266.04 L316.39,1270.95 L318.37,1275.95 L320.34,1281.04 L322.32,1286.2 L324.3,1291.44 L326.27,1296.75 L328.25,1302.12 L330.22,1307.54 L332.2,1313.01 L334.18,1318.51 L336.15,1324.04 L338.13,1329.59 L340.11,1335.14 L342.08,1340.69 L344.06,1346.23 L346.04,1351.74 L348.01,1357.22 L349.99,1362.66 L351.96,1368.05 L353.94,1373.37 L355.92,1378.62 L357.89,1383.79 L359.87,1388.86 L361.85,1393.84 L363.82,1398.7 L365.8,1403.45 L367.77,1408.09 L369.75,1412.59 L371.73,1416.96 L373.7,1421.19 L375.68,1425.28 L377.66,1429.22 L379.63,1433.02 L381.61,1436.67 L383.58,1440.17 L385.56,1443.52 L387.54,1446.72 L389.51,1449.77 L391.49,1452.67 L393.47,1455.43 L395.44,1458.05 L397.42,1460.53 L399.39,1462.87 L401.37,1465.08 L403.35,1467.16 L405.32,1469.12 L407.3,1470.96 L409.28,1472.69 L411.25,1474.3 L413.23,1475.82 L415.2,1477.23 L417.18,1478.55 L419.16,1479.77 L421.13,1480.91 L423.11,1481.98 L425.09,1482.96 L427.06,1483.88 L429.04,1484.72 L431.01,1485.5 L432.99,1486.23 L434.97,1486.9 L436.94,1487.52 L438.92,1488.08 L440.9,1488.61 L442.87,1489.09 L444.85,1489.53 L446.82,1489.94 L448.8,1490.32 L450.78,1490.66 L452.75,1490.98 L454.73,1491.27 L456.71,1491.53 L458.68,1491.77 L460.66,1491.99 L462.63,1492.2 L464.61,1492.38 L466.59,1492.55 L468.56,1492.71 L470.54,1492.85 L472.52,1492.98 L474.49,1493.1 L476.47,1493.2 L478.44,1493.3 L480.42,1493.39 L482.4,1493.47 L484.37,1493.55 L486.35,1493.61 L488.33,1493.67 L490.3,1493.73 L492.28,1493.78 L494.25,1493.83 L496.23,1493.87 L498.21,1493.91 L500.18,1493.94 L502.16,1493.97 L504.14,1494" fill="none" stroke="#0B5AA2" stroke-width="3.75" stroke-linecap="round" stroke-linejoin="round"/>
<path d="M187.93,1486.85 L189.91,1486.48 L191.89,1486.09 L193.86,1485.68 L195.84,1485.25 L197.82,1484.79 L199.79,1484.32 L201.77,1483.83 L203.74,1483.31 L205.72,1482.76 L207.7,1482.19 L209.67,1481.59 L211.65,1480.97 L213.63,1480.31 L215.6,1479.63 L217.58,1478.91 L219.55,1478.16 L221.53,1477.37 L223.51,1476.54 L225.48,1475.68 L227.46,1474.78 L229.44,1473.84 L231.41,1472.86 L233.39,1471.83 L235.36,1470.76 L237.34,1469.64 L239.32,1468.47 L241.29,1467.25 L243.27,1465.97 L245.25,1464.65 L247.22,1463.26 L249.2,1461.82 L251.17,1460.33 L253.15,1458.77 L255.13,1457.14 L257.1,1455.46 L259.08,1453.71 L261.06,1451.89 L263.03,1450 L265.01,1448.05 L266.98,1446.02 L268.96,1443.93 L270.94,1441.76 L272.91,1439.51 L274.89,1437.2 L276.87,1434.81 L278.84,1432.35 L280.82,1429.81 L282.79,1427.2 L284.77,1424.52 L286.75,1421.77 L288.72,1418.95 L290.7,1416.07 L292.68,1413.12 L294.65,1410.1 L296.63,1407.03 L298.6,1403.91 L300.58,1400.74 L302.56,1397.52 L304.53,1394.26 L306.51,1390.97 L308.49,1387.66 L310.46,1384.32 L312.44,1380.97 L314.41,1377.62 L316.39,1374.28 L318.37,1370.95 L320.34,1367.65 L322.32,1364.38 L324.3,1361.16 L326.27,1358 L328.25,1354.91 L330.22,1351.89 L332.2,1348.98 L334.18,1346.16 L336.15,1343.47 L338.13,1340.9 L340.11,1338.47 L342.08,1336.2 L344.06,1334.08 L346.04,1332.14 L348.01,1330.39 L349.99,1328.82 L351.96,1327.45 L353.94,1326.29 L355.92,1325.35 L357.89,1324.62 L359.87,1324.11 L361.85,1323.83 L363.82,1323.77 L365.8,1323.94 L367.77,1324.34 L369.75,1324.96 L371.73,1325.8 L373.7,1326.85 L375.68,1328.12 L377.66,1329.59 L379.63,1331.25 L381.61,1333.1 L383.58,1335.13 L385.56,1337.33 L387.54,1339.68 L389.51,1342.18 L391.49,1344.81 L393.47,1347.57 L395.44,1350.44 L397.42,1353.41 L399.39,1356.46 L401.37,1359.59 L403.35,1362.78 L405.32,1366.03 L407.3,1369.32 L409.28,1372.63 L411.25,1375.97 L413.23,1379.32 L415.2,1382.67 L417.18,1386.01 L419.16,1389.34 L421.13,1392.64 L423.11,1395.91 L425.09,1399.15 L427.06,1402.35 L429.04,1405.5 L431.01,1408.59 L432.99,1411.64 L434.97,1414.62 L436.94,1417.53 L438.92,1420.39 L440.9,1423.17 L442.87,1425.89 L444.85,1428.53 L446.82,1431.1 L448.8,1433.6 L450.78,1436.03 L452.75,1438.38 L454.73,1440.66 L456.71,1442.86 L458.68,1445 L460.66,1447.06 L462.63,1449.05 L464.61,1450.97 L466.59,1452.82 L468.56,1454.6 L470.54,1456.32 L472.52,1457.97 L474.49,1459.56 L476.47,1461.09 L478.44,1462.56 L480.42,1463.97 L482.4,1465.32 L484.37,1466.62 L486.35,1467.87 L488.33,1469.06 L490.3,1470.21 L492.28,1471.31 L494.25,1472.36 L496.23,1473.36 L498.21,1474.32 L500.18,1475.24 L502.16,1476.12 L504.14,1476.97" fill="none" stroke="#DE8C07" stroke-width="3.75" stroke-linecap="round" stroke-linejoin="round"/>
<path d="M187.93,1494.23 L189.91,1494.22 L191.89,1494.22 L193.86,1494.21 L195.84,1494.21 L197.82,1494.2 L199.79,1494.19 L201.77,1494.18 L203.74,1494.17 L205.72,1494.16 L207.7,1494.15 L209.67,1494.13 L211.65,1494.12 L213.63,1494.1 L215.6,1494.08 L217.58,1494.06 L219.55,1494.04 L221.53,1494.01 L223.51,1493.99 L225.48,1493.96 L227.46,1493.92 L229.44,1493.89 L231.41,1493.85 L233.39,1493.8 L235.36,1493.75 L237.34,1493.7 L239.32,1493.64 L241.29,1493.58 L243.27,1493.51 L245.25,1493.43 L247.22,1493.35 L249.2,1493.25 L251.17,1493.15 L253.15,1493.04 L255.13,1492.91 L257.1,1492.78 L259.08,1492.63 L261.06,1492.47 L263.03,1492.29 L265.01,1492.1 L266.98,1491.89 L268.96,1491.65 L270.94,1491.4 L272.91,1491.12 L274.89,1490.82 L276.87,1490.49 L278.84,1490.13 L280.82,1489.74 L282.79,1489.31 L284.77,1488.85 L286.75,1488.35 L288.72,1487.8 L290.7,1487.21 L292.68,1486.57 L294.65,1485.87 L296.63,1485.12 L298.6,1484.3 L300.58,1483.42 L302.56,1482.47 L304.53,1481.45 L306.51,1480.35 L308.49,1479.16 L310.46,1477.89 L312.44,1476.53 L314.41,1475.06 L316.39,1473.5 L318.37,1471.83 L320.34,1470.05 L322.32,1468.15 L324.3,1466.13 L326.27,1463.98 L328.25,1461.7 L330.22,1459.29 L332.2,1456.74 L334.18,1454.06 L336.15,1451.22 L338.13,1448.25 L340.11,1445.12 L342.08,1441.84 L344.06,1438.42 L346.04,1434.84 L348.01,1431.12 L349.99,1427.25 L351.96,1423.23 L353.94,1419.07 L355.92,1414.76 L357.89,1410.33 L359.87,1405.76 L361.85,1401.07 L363.82,1396.25 L365.8,1391.33 L367.77,1386.3 L369.75,1381.18 L371.73,1375.97 L373.7,1370.69 L375.68,1365.33 L377.66,1359.92 L379.63,1354.46 L381.61,1348.96 L383.58,1343.43 L385.56,1337.88 L387.54,1332.33 L389.51,1326.78 L391.49,1321.24 L393.47,1315.72 L395.44,1310.24 L397.42,1304.79 L399.39,1299.4 L401.37,1294.06 L403.35,1288.78 L405.32,1283.58 L407.3,1278.45 L409.28,1273.41 L411.25,1268.45 L413.23,1263.6 L415.2,1258.83 L417.18,1254.17 L419.16,1249.62 L421.13,1245.17 L423.11,1240.84 L425.09,1236.61 L427.06,1232.51 L429.04,1228.51 L431.01,1224.63 L432.99,1220.86 L434.97,1217.21 L436.94,1213.68 L438.92,1210.26 L440.9,1206.95 L442.87,1203.75 L444.85,1200.66 L446.82,1197.68 L448.8,1194.81 L450.78,1192.04 L452.75,1189.37 L454.73,1186.81 L456.71,1184.33 L458.68,1181.96 L460.66,1179.68 L462.63,1177.48 L464.61,1175.38 L466.59,1173.36 L468.56,1171.42 L470.54,1169.56 L472.52,1167.78 L474.49,1166.07 L476.47,1164.43 L478.44,1162.87 L480.42,1161.37 L482.4,1159.93 L484.37,1158.56 L486.35,1157.25 L488.33,1155.99 L490.3,1154.79 L492.28,1153.64 L494.25,1152.55 L496.23,1151.5 L498.21,1150.5 L500.18,1149.55 L502.16,1148.63 L504.14,1147.76" fill="none" stroke="#128B5E" stroke-width="3.75" stroke-linecap="round" stroke-linejoin="round"/>
<path d="M548.4,1134.52 L550.38,1134.74 L552.36,1134.97 L554.33,1135.22 L556.31,1135.47 L558.29,1135.74 L560.26,1136.03 L562.24,1136.32 L564.21,1136.63 L566.19,1136.96 L568.17,1137.3 L570.14,1137.66 L572.12,1138.04 L574.1,1138.44 L576.07,1138.86 L578.05,1139.29 L580.02,1139.75 L582,1140.23 L583.98,1140.74 L585.95,1141.27 L587.93,1141.82 L589.91,1142.41 L591.88,1143.02 L593.86,1143.66 L595.83,1144.33 L597.81,1145.04 L599.79,1145.77 L601.76,1146.55 L603.74,1147.36 L605.72,1148.21 L607.69,1149.1 L609.67,1150.03 L611.64,1151.01 L613.62,1152.03 L615.6,1153.1 L617.57,1154.21 L619.55,1155.39 L621.53,1156.61 L623.5,1157.89 L625.48,1159.23 L627.45,1160.63 L629.43,1162.09 L631.41,1163.61 L633.38,1165.21 L635.36,1166.87 L637.34,1168.61 L639.31,1170.42 L641.29,1172.3 L643.26,1174.27 L645.24,1176.32 L647.22,1178.45 L649.19,1180.67 L651.17,1182.98 L653.15,1185.39 L655.12,1187.88 L657.1,1190.48 L659.07,1193.17 L661.05,1195.96 L663.03,1198.86 L665,1201.86 L666.98,1204.97 L668.96,1208.18 L670.93,1211.5 L672.91,1214.94 L674.88,1218.48 L676.86,1222.14 L678.84,1225.91 L680.81,1229.79 L682.79,1233.78 L684.77,1237.89 L686.74,1242.1 L688.72,1246.42 L690.69,1250.84 L692.67,1255.37 L694.65,1260.01 L696.62,1264.73 L698.6,1269.55 L700.58,1274.47 L702.55,1279.46 L704.53,1284.53 L706.5,1289.68 L708.48,1294.89 L710.46,1300.16 L712.43,1305.49 L714.41,1310.86 L716.39,1316.27 L718.36,1321.7 L720.34,1327.15 L722.32,1332.62 L724.29,1338.08 L726.27,1343.54 L728.24,1348.97 L730.22,1354.38 L732.2,1359.76 L734.17,1365.08 L736.15,1370.35 L738.13,1375.55 L740.1,1380.68 L742.08,1385.72 L744.05,1390.68 L746.03,1395.53 L748.01,1400.28 L749.98,1404.91 L751.96,1409.43 L753.94,1413.82 L755.91,1418.08 L757.89,1422.2 L759.86,1426.19 L761.84,1430.04 L763.82,1433.75 L765.79,1437.31 L767.77,1440.73 L769.75,1444.01 L771.72,1447.14 L773.7,1450.12 L775.67,1452.97 L777.65,1455.67 L779.63,1458.24 L781.6,1460.68 L783.58,1462.98 L785.56,1465.15 L787.53,1467.21 L789.51,1469.14 L791.48,1470.96 L793.46,1472.66 L795.44,1474.26 L797.41,1475.76 L799.39,1477.16 L801.37,1478.47 L803.34,1479.69 L805.32,1480.83 L807.29,1481.88 L809.27,1482.87 L811.25,1483.78 L813.22,1484.63 L815.2,1485.41 L817.18,1486.14 L819.15,1486.81 L821.13,1487.43 L823.1,1488 L825.08,1488.53 L827.06,1489.01 L829.03,1489.46 L831.01,1489.87 L832.99,1490.25 L834.96,1490.6 L836.94,1490.92 L838.91,1491.21 L840.89,1491.48 L842.87,1491.72 L844.84,1491.95 L846.82,1492.15 L848.8,1492.34 L850.77,1492.51 L852.75,1492.67 L854.72,1492.82 L856.7,1492.95 L858.68,1493.07 L860.65,1493.18 L862.63,1493.28 L864.61,1493.37" fill="none" stroke="#0B5AA2" stroke-width="3.75" stroke-linecap="round" stroke-linejoin="round"/>
<path d="M548.4,1489.94 L550.38,1489.72 L552.36,1489.49 L554.33,1489.25 L556.31,1489 L558.29,1488.73 L560.26,1488.45 L562.24,1488.16 L564.21,1487.85 L566.19,1487.53 L568.17,1487.19 L570.14,1486.83 L572.12,1486.46 L574.1,1486.06 L576.07,1485.65 L578.05,1485.22 L580.02,1484.77 L582,1484.3 L583.98,1483.8 L585.95,1483.28 L587.93,1482.73 L589.91,1482.16 L591.88,1481.56 L593.86,1480.93 L595.83,1480.28 L597.81,1479.59 L599.79,1478.87 L601.76,1478.11 L603.74,1477.32 L605.72,1476.5 L607.69,1475.64 L609.67,1474.73 L611.64,1473.79 L613.62,1472.8 L615.6,1471.77 L617.57,1470.69 L619.55,1469.57 L621.53,1468.4 L623.5,1467.17 L625.48,1465.9 L627.45,1464.57 L629.43,1463.18 L631.41,1461.74 L633.38,1460.23 L635.36,1458.67 L637.34,1457.04 L639.31,1455.35 L641.29,1453.59 L643.26,1451.77 L645.24,1449.87 L647.22,1447.91 L649.19,1445.88 L651.17,1443.77 L653.15,1441.59 L655.12,1439.33 L657.1,1437.01 L659.07,1434.6 L661.05,1432.13 L663.03,1429.57 L665,1426.95 L666.98,1424.25 L668.96,1421.47 L670.93,1418.63 L672.91,1415.72 L674.88,1412.74 L676.86,1409.69 L678.84,1406.59 L680.81,1403.43 L682.79,1400.21 L684.77,1396.94 L686.74,1393.63 L688.72,1390.29 L690.69,1386.91 L692.67,1383.5 L694.65,1380.08 L696.62,1376.65 L698.6,1373.21 L700.58,1369.79 L702.55,1366.38 L704.53,1363 L706.5,1359.65 L708.48,1356.36 L710.46,1353.12 L712.43,1349.95 L714.41,1346.87 L716.39,1343.88 L718.36,1340.99 L720.34,1338.23 L722.32,1335.59 L724.29,1333.09 L726.27,1330.75 L728.24,1328.56 L730.22,1326.55 L732.2,1324.72 L734.17,1323.09 L736.15,1321.65 L738.13,1320.41 L740.1,1319.39 L742.08,1318.59 L744.05,1318.01 L746.03,1317.66 L748.01,1317.53 L749.98,1317.62 L751.96,1317.95 L753.94,1318.5 L755.91,1319.27 L757.89,1320.26 L759.86,1321.46 L761.84,1322.88 L763.82,1324.49 L765.79,1326.29 L767.77,1328.27 L769.75,1330.43 L771.72,1332.76 L773.7,1335.24 L775.67,1337.85 L777.65,1340.6 L779.63,1343.47 L781.6,1346.45 L783.58,1349.52 L785.56,1352.68 L787.53,1355.91 L789.51,1359.19 L791.48,1362.53 L793.46,1365.91 L795.44,1369.32 L797.41,1372.74 L799.39,1376.17 L801.37,1379.61 L803.34,1383.03 L805.32,1386.44 L807.29,1389.82 L809.27,1393.17 L811.25,1396.49 L813.22,1399.76 L815.2,1402.99 L817.18,1406.16 L819.15,1409.27 L821.13,1412.32 L823.1,1415.31 L825.08,1418.23 L827.06,1421.09 L829.03,1423.87 L831.01,1426.58 L832.99,1429.22 L834.96,1431.78 L836.94,1434.27 L838.91,1436.68 L840.89,1439.02 L842.87,1441.28 L844.84,1443.47 L846.82,1445.59 L848.8,1447.63 L850.77,1449.61 L852.75,1451.51 L854.72,1453.34 L856.7,1455.11 L858.68,1456.81 L860.65,1458.45 L862.63,1460.02 L864.61,1461.53" fill="none" stroke="#DE8C07" stroke-width="3.75" stroke-linecap="round" stroke-linejoin="round"/>
<path d="M548.4,1494.26 L550.38,1494.26 L552.36,1494.26 L554.33,1494.26 L556.31,1494.26 L558.29,1494.26 L560.26,1494.25 L562.24,1494.25 L564.21,1494.25 L566.19,1494.24 L568.17,1494.24 L570.14,1494.24 L572.12,1494.23 L574.1,1494.23 L576.07,1494.22 L578.05,1494.21 L580.02,1494.21 L582,1494.2 L583.98,1494.19 L585.95,1494.18 L587.93,1494.17 L589.91,1494.16 L591.88,1494.15 L593.86,1494.14 L595.83,1494.12 L597.81,1494.11 L599.79,1494.09 L601.76,1494.07 L603.74,1494.05 L605.72,1494.02 L607.69,1494 L609.67,1493.97 L611.64,1493.94 L613.62,1493.9 L615.6,1493.86 L617.57,1493.82 L619.55,1493.77 L621.53,1493.72 L623.5,1493.67 L625.48,1493.6 L627.45,1493.54 L629.43,1493.46 L631.41,1493.38 L633.38,1493.29 L635.36,1493.19 L637.34,1493.08 L639.31,1492.96 L641.29,1492.83 L643.26,1492.69 L645.24,1492.54 L647.22,1492.37 L649.19,1492.18 L651.17,1491.98 L653.15,1491.75 L655.12,1491.51 L657.1,1491.25 L659.07,1490.96 L661.05,1490.64 L663.03,1490.3 L665,1489.92 L666.98,1489.52 L668.96,1489.08 L670.93,1488.59 L672.91,1488.07 L674.88,1487.51 L676.86,1486.89 L678.84,1486.23 L680.81,1485.51 L682.79,1484.74 L684.77,1483.9 L686.74,1483 L688.72,1482.02 L690.69,1480.98 L692.67,1479.85 L694.65,1478.64 L696.62,1477.35 L698.6,1475.96 L700.58,1474.48 L702.55,1472.89 L704.53,1471.2 L706.5,1469.4 L708.48,1467.48 L710.46,1465.45 L712.43,1463.29 L714.41,1461 L716.39,1458.59 L718.36,1456.04 L720.34,1453.35 L722.32,1450.52 L724.29,1447.56 L726.27,1444.45 L728.24,1441.19 L730.22,1437.79 L732.2,1434.25 L734.17,1430.56 L736.15,1426.73 L738.13,1422.76 L740.1,1418.65 L742.08,1414.41 L744.05,1410.04 L746.03,1405.54 L748.01,1400.92 L749.98,1396.19 L751.96,1391.35 L753.94,1386.41 L755.91,1381.38 L757.89,1376.26 L759.86,1371.07 L761.84,1365.81 L763.82,1360.49 L765.79,1355.13 L767.77,1349.72 L769.75,1344.29 L771.72,1338.83 L773.7,1333.37 L775.67,1327.91 L777.65,1322.45 L779.63,1317.01 L781.6,1311.6 L783.58,1306.23 L785.56,1300.9 L787.53,1295.62 L789.51,1290.39 L791.48,1285.24 L793.46,1280.16 L795.44,1275.15 L797.41,1270.23 L799.39,1265.39 L801.37,1260.65 L803.34,1256.01 L805.32,1251.46 L807.29,1247.02 L809.27,1242.69 L811.25,1238.46 L813.22,1234.34 L815.2,1230.33 L817.18,1226.44 L819.15,1222.65 L821.13,1218.98 L823.1,1215.42 L825.08,1211.97 L827.06,1208.63 L829.03,1205.4 L831.01,1202.28 L832.99,1199.27 L834.96,1196.36 L836.94,1193.55 L838.91,1190.84 L840.89,1188.24 L842.87,1185.73 L844.84,1183.31 L846.82,1180.99 L848.8,1178.75 L850.77,1176.61 L852.75,1174.55 L854.72,1172.57 L856.7,1170.67 L858.68,1168.85 L860.65,1167.11 L862.63,1165.43 L864.61,1163.83" fill="none" stroke="#128B5E" stroke-width="3.75" stroke-linecap="round" stroke-linejoin="round"/>
<path d="M908.87,1133.09 L910.85,1133.24 L912.83,1133.39 L914.8,1133.56 L916.78,1133.73 L918.76,1133.91 L920.73,1134.1 L922.71,1134.3 L924.68,1134.51 L926.66,1134.73 L928.64,1134.97 L930.61,1135.21 L932.59,1135.47 L934.57,1135.73 L936.54,1136.02 L938.52,1136.31 L940.49,1136.62 L942.47,1136.95 L944.45,1137.29 L946.42,1137.65 L948.4,1138.03 L950.38,1138.43 L952.35,1138.85 L954.33,1139.28 L956.3,1139.74 L958.28,1140.23 L960.26,1140.73 L962.23,1141.26 L964.21,1141.82 L966.19,1142.4 L968.16,1143.01 L970.14,1143.66 L972.11,1144.33 L974.09,1145.04 L976.07,1145.78 L978.04,1146.55 L980.02,1147.37 L982,1148.22 L983.97,1149.11 L985.95,1150.05 L987.92,1151.03 L989.9,1152.06 L991.88,1153.13 L993.85,1154.26 L995.83,1155.43 L997.81,1156.67 L999.78,1157.96 L1001.76,1159.3 L1003.73,1160.71 L1005.71,1162.19 L1007.69,1163.73 L1009.66,1165.33 L1011.64,1167.01 L1013.62,1168.77 L1015.59,1170.6 L1017.57,1172.51 L1019.54,1174.5 L1021.52,1176.57 L1023.5,1178.73 L1025.47,1180.98 L1027.45,1183.33 L1029.43,1185.77 L1031.4,1188.3 L1033.38,1190.94 L1035.35,1193.68 L1037.33,1196.52 L1039.31,1199.47 L1041.28,1202.53 L1043.26,1205.7 L1045.24,1208.98 L1047.21,1212.38 L1049.19,1215.89 L1051.16,1219.51 L1053.14,1223.26 L1055.12,1227.12 L1057.09,1231.1 L1059.07,1235.19 L1061.05,1239.4 L1063.02,1243.73 L1065,1248.17 L1066.98,1252.72 L1068.95,1257.38 L1070.93,1262.14 L1072.9,1267.01 L1074.88,1271.97 L1076.86,1277.03 L1078.83,1282.17 L1080.81,1287.4 L1082.79,1292.7 L1084.76,1298.07 L1086.74,1303.5 L1088.71,1308.98 L1090.69,1314.5 L1092.67,1320.06 L1094.64,1325.65 L1096.62,1331.25 L1098.6,1336.85 L1100.57,1342.45 L1102.55,1348.04 L1104.52,1353.6 L1106.5,1359.12 L1108.48,1364.59 L1110.45,1370.01 L1112.43,1375.35 L1114.41,1380.62 L1116.38,1385.81 L1118.36,1390.89 L1120.33,1395.87 L1122.31,1400.74 L1124.29,1405.48 L1126.26,1410.1 L1128.24,1414.59 L1130.22,1418.94 L1132.19,1423.14 L1134.17,1427.2 L1136.14,1431.11 L1138.12,1434.87 L1140.1,1438.47 L1142.07,1441.92 L1144.05,1445.22 L1146.03,1448.37 L1148,1451.37 L1149.98,1454.21 L1151.95,1456.91 L1153.93,1459.47 L1155.91,1461.89 L1157.88,1464.17 L1159.86,1466.32 L1161.84,1468.35 L1163.81,1470.25 L1165.79,1472.03 L1167.76,1473.7 L1169.74,1475.26 L1171.72,1476.72 L1173.69,1478.08 L1175.67,1479.34 L1177.65,1480.52 L1179.62,1481.62 L1181.6,1482.63 L1183.57,1483.57 L1185.55,1484.45 L1187.53,1485.25 L1189.5,1486 L1191.48,1486.69 L1193.46,1487.33 L1195.43,1487.91 L1197.41,1488.45 L1199.38,1488.95 L1201.36,1489.41 L1203.34,1489.83 L1205.31,1490.21 L1207.29,1490.56 L1209.27,1490.89 L1211.24,1491.19 L1213.22,1491.46 L1215.19,1491.71 L1217.17,1491.94 L1219.15,1492.14 L1221.12,1492.33 L1223.1,1492.51 L1225.08,1492.67" fill="none" stroke="#0B5AA2" stroke-width="3.75" stroke-linecap="round" stroke-linejoin="round"/>
<path d="M908.87,1491.37 L910.85,1491.22 L912.83,1491.07 L914.8,1490.9 L916.78,1490.73 L918.76,1490.55 L920.73,1490.36 L922.71,1490.16 L924.68,1489.95 L926.66,1489.74 L928.64,1489.51 L930.61,1489.26 L932.59,1489.01 L934.57,1488.75 L936.54,1488.47 L938.52,1488.17 L940.49,1487.87 L942.47,1487.54 L944.45,1487.2 L946.42,1486.85 L948.4,1486.48 L950.38,1486.09 L952.35,1485.68 L954.33,1485.25 L956.3,1484.8 L958.28,1484.32 L960.26,1483.83 L962.23,1483.31 L964.21,1482.76 L966.19,1482.19 L968.16,1481.6 L970.14,1480.97 L972.11,1480.31 L974.09,1479.63 L976.07,1478.91 L978.04,1478.16 L980.02,1477.37 L982,1476.55 L983.97,1475.69 L985.95,1474.79 L987.92,1473.84 L989.9,1472.86 L991.88,1471.83 L993.85,1470.76 L995.83,1469.64 L997.81,1468.47 L999.78,1467.25 L1001.76,1465.98 L1003.73,1464.65 L1005.71,1463.27 L1007.69,1461.83 L1009.66,1460.34 L1011.64,1458.78 L1013.62,1457.16 L1015.59,1455.47 L1017.57,1453.72 L1019.54,1451.91 L1021.52,1450.03 L1023.5,1448.07 L1025.47,1446.05 L1027.45,1443.96 L1029.43,1441.79 L1031.4,1439.56 L1033.38,1437.25 L1035.35,1434.86 L1037.33,1432.41 L1039.31,1429.88 L1041.28,1427.28 L1043.26,1424.61 L1045.24,1421.87 L1047.21,1419.06 L1049.19,1416.19 L1051.16,1413.26 L1053.14,1410.26 L1055.12,1407.21 L1057.09,1404.11 L1059.07,1400.97 L1061.05,1397.78 L1063.02,1394.55 L1065,1391.29 L1066.98,1388.02 L1068.95,1384.72 L1070.93,1381.42 L1072.9,1378.12 L1074.88,1374.83 L1076.86,1371.57 L1078.83,1368.33 L1080.81,1365.13 L1082.79,1361.99 L1084.76,1358.91 L1086.74,1355.91 L1088.71,1353 L1090.69,1350.18 L1092.67,1347.48 L1094.64,1344.9 L1096.62,1342.45 L1098.6,1340.16 L1100.57,1338.02 L1102.55,1336.05 L1104.52,1334.26 L1106.5,1332.66 L1108.48,1331.25 L1110.45,1330.05 L1112.43,1329.06 L1114.41,1328.28 L1116.38,1327.73 L1118.36,1327.4 L1120.33,1327.29 L1122.31,1327.41 L1124.29,1327.75 L1126.26,1328.32 L1128.24,1329.11 L1130.22,1330.12 L1132.19,1331.33 L1134.17,1332.75 L1136.14,1334.36 L1138.12,1336.16 L1140.1,1338.14 L1142.07,1340.29 L1144.05,1342.6 L1146.03,1345.05 L1148,1347.64 L1149.98,1350.35 L1151.95,1353.17 L1153.93,1356.09 L1155.91,1359.1 L1157.88,1362.18 L1159.86,1365.33 L1161.84,1368.53 L1163.81,1371.76 L1165.79,1375.03 L1167.76,1378.32 L1169.74,1381.62 L1171.72,1384.92 L1173.69,1388.22 L1175.67,1391.49 L1177.65,1394.75 L1179.62,1397.97 L1181.6,1401.16 L1183.57,1404.3 L1185.55,1407.4 L1187.53,1410.45 L1189.5,1413.44 L1191.48,1416.37 L1193.46,1419.24 L1195.43,1422.04 L1197.41,1424.77 L1199.38,1427.44 L1201.36,1430.04 L1203.34,1432.56 L1205.31,1435.01 L1207.29,1437.39 L1209.27,1439.69 L1211.24,1441.93 L1213.22,1444.09 L1215.19,1446.18 L1217.17,1448.19 L1219.15,1450.14 L1221.12,1452.02 L1223.1,1453.83 L1225.08,1455.58" fill="none" stroke="#DE8C07" stroke-width="3.75" stroke-linecap="round" stroke-linejoin="round"/>
<path d="M908.87,1494.27 L910.85,1494.27 L912.83,1494.27 L914.8,1494.27 L916.78,1494.27 L918.76,1494.27 L920.73,1494.26 L922.71,1494.26 L924.68,1494.26 L926.66,1494.26 L928.64,1494.26 L930.61,1494.25 L932.59,1494.25 L934.57,1494.25 L936.54,1494.25 L938.52,1494.24 L940.49,1494.24 L942.47,1494.23 L944.45,1494.23 L946.42,1494.23 L948.4,1494.22 L950.38,1494.21 L952.35,1494.21 L954.33,1494.2 L956.3,1494.19 L958.28,1494.18 L960.26,1494.17 L962.23,1494.16 L964.21,1494.15 L966.19,1494.13 L968.16,1494.12 L970.14,1494.1 L972.11,1494.09 L974.09,1494.07 L976.07,1494.04 L978.04,1494.02 L980.02,1493.99 L982,1493.96 L983.97,1493.93 L985.95,1493.89 L987.92,1493.86 L989.9,1493.81 L991.88,1493.76 L993.85,1493.71 L995.83,1493.66 L997.81,1493.59 L999.78,1493.52 L1001.76,1493.45 L1003.73,1493.36 L1005.71,1493.27 L1007.69,1493.17 L1009.66,1493.06 L1011.64,1492.94 L1013.62,1492.8 L1015.59,1492.66 L1017.57,1492.5 L1019.54,1492.32 L1021.52,1492.13 L1023.5,1491.92 L1025.47,1491.69 L1027.45,1491.44 L1029.43,1491.17 L1031.4,1490.87 L1033.38,1490.54 L1035.35,1490.19 L1037.33,1489.8 L1039.31,1489.38 L1041.28,1488.92 L1043.26,1488.42 L1045.24,1487.88 L1047.21,1487.29 L1049.19,1486.65 L1051.16,1485.96 L1053.14,1485.21 L1055.12,1484.4 L1057.09,1483.52 L1059.07,1482.57 L1061.05,1481.55 L1063.02,1480.45 L1065,1479.27 L1066.98,1478 L1068.95,1476.63 L1070.93,1475.17 L1072.9,1473.6 L1074.88,1471.92 L1076.86,1470.13 L1078.83,1468.23 L1080.81,1466.2 L1082.79,1464.04 L1084.76,1461.75 L1086.74,1459.32 L1088.71,1456.75 L1090.69,1454.04 L1092.67,1451.19 L1094.64,1448.18 L1096.62,1445.03 L1098.6,1441.72 L1100.57,1438.26 L1102.55,1434.64 L1104.52,1430.87 L1106.5,1426.96 L1108.48,1422.89 L1110.45,1418.67 L1112.43,1414.32 L1114.41,1409.82 L1116.38,1405.2 L1118.36,1400.44 L1120.33,1395.57 L1122.31,1390.58 L1124.29,1385.49 L1126.26,1380.3 L1128.24,1375.03 L1130.22,1369.68 L1132.19,1364.26 L1134.17,1358.78 L1136.14,1353.26 L1138.12,1347.7 L1140.1,1342.11 L1142.07,1336.51 L1144.05,1330.91 L1146.03,1325.31 L1148,1319.72 L1149.98,1314.17 L1151.95,1308.64 L1153.93,1303.17 L1155.91,1297.74 L1157.88,1292.38 L1159.86,1287.08 L1161.84,1281.86 L1163.81,1276.72 L1165.79,1271.67 L1167.76,1266.71 L1169.74,1261.85 L1171.72,1257.09 L1173.69,1252.44 L1175.67,1247.89 L1177.65,1243.46 L1179.62,1239.14 L1181.6,1234.94 L1183.57,1230.85 L1185.55,1226.88 L1187.53,1223.03 L1189.5,1219.29 L1191.48,1215.67 L1193.46,1212.17 L1195.43,1208.78 L1197.41,1205.5 L1199.38,1202.34 L1201.36,1199.29 L1203.34,1196.35 L1205.31,1193.51 L1207.29,1190.78 L1209.27,1188.15 L1211.24,1185.62 L1213.22,1183.18 L1215.19,1180.85 L1217.17,1178.6 L1219.15,1176.44 L1221.12,1174.37 L1223.1,1172.39 L1225.08,1170.48" fill="none" stroke="#128B5E" stroke-width="3.75" stroke-linecap="round" stroke-linejoin="round"/>
<path d="M1269.34,1131.62 L1271.32,1131.69 L1273.3,1131.77 L1275.27,1131.85 L1277.25,1131.94 L1279.23,1132.03 L1281.2,1132.12 L1283.18,1132.22 L1285.15,1132.32 L1287.13,1132.43 L1289.11,1132.55 L1291.08,1132.67 L1293.06,1132.8 L1295.04,1132.93 L1297.01,1133.08 L1298.99,1133.22 L1300.96,1133.38 L1302.94,1133.54 L1304.92,1133.71 L1306.89,1133.9 L1308.87,1134.09 L1310.85,1134.29 L1312.82,1134.49 L1314.8,1134.72 L1316.77,1134.95 L1318.75,1135.19 L1320.73,1135.45 L1322.7,1135.71 L1324.68,1136 L1326.66,1136.29 L1328.63,1136.6 L1330.61,1136.93 L1332.58,1137.27 L1334.56,1137.63 L1336.54,1138.01 L1338.51,1138.41 L1340.49,1138.82 L1342.47,1139.26 L1344.44,1139.72 L1346.42,1140.21 L1348.39,1140.71 L1350.37,1141.24 L1352.35,1141.8 L1354.32,1142.39 L1356.3,1143 L1358.28,1143.65 L1360.25,1144.33 L1362.23,1145.04 L1364.2,1145.78 L1366.18,1146.56 L1368.16,1147.38 L1370.13,1148.24 L1372.11,1149.14 L1374.09,1150.09 L1376.06,1151.08 L1378.04,1152.11 L1380.01,1153.2 L1381.99,1154.34 L1383.97,1155.53 L1385.94,1156.78 L1387.92,1158.09 L1389.9,1159.46 L1391.87,1160.89 L1393.85,1162.39 L1395.82,1163.96 L1397.8,1165.6 L1399.78,1167.31 L1401.75,1169.1 L1403.73,1170.97 L1405.71,1172.93 L1407.68,1174.97 L1409.66,1177.1 L1411.63,1179.32 L1413.61,1181.63 L1415.59,1184.05 L1417.56,1186.56 L1419.54,1189.18 L1421.52,1191.91 L1423.49,1194.75 L1425.47,1197.69 L1427.45,1200.76 L1429.42,1203.94 L1431.4,1207.24 L1433.37,1210.66 L1435.35,1214.2 L1437.33,1217.87 L1439.3,1221.67 L1441.28,1225.59 L1443.26,1229.64 L1445.23,1233.82 L1447.21,1238.13 L1449.18,1242.56 L1451.16,1247.12 L1453.14,1251.8 L1455.11,1256.6 L1457.09,1261.52 L1459.07,1266.55 L1461.04,1271.69 L1463.02,1276.94 L1464.99,1282.28 L1466.97,1287.72 L1468.95,1293.24 L1470.92,1298.84 L1472.9,1304.5 L1474.88,1310.22 L1476.85,1315.99 L1478.83,1321.8 L1480.8,1327.63 L1482.78,1333.48 L1484.76,1339.33 L1486.73,1345.18 L1488.71,1351 L1490.69,1356.78 L1492.66,1362.52 L1494.64,1368.2 L1496.61,1373.82 L1498.59,1379.34 L1500.57,1384.78 L1502.54,1390.11 L1504.52,1395.32 L1506.5,1400.41 L1508.47,1405.37 L1510.45,1410.19 L1512.42,1414.86 L1514.4,1419.37 L1516.38,1423.73 L1518.35,1427.93 L1520.33,1431.97 L1522.31,1435.83 L1524.28,1439.53 L1526.26,1443.07 L1528.23,1446.43 L1530.21,1449.63 L1532.19,1452.67 L1534.16,1455.54 L1536.14,1458.26 L1538.12,1460.82 L1540.09,1463.24 L1542.07,1465.51 L1544.04,1467.64 L1546.02,1469.64 L1548,1471.51 L1549.97,1473.26 L1551.95,1474.89 L1553.93,1476.41 L1555.9,1477.82 L1557.88,1479.14 L1559.85,1480.36 L1561.83,1481.49 L1563.81,1482.53 L1565.78,1483.5 L1567.76,1484.4 L1569.74,1485.22 L1571.71,1485.99 L1573.69,1486.69 L1575.66,1487.34 L1577.64,1487.93 L1579.62,1488.48 L1581.59,1488.98 L1583.57,1489.44 L1585.55,1489.86" fill="none" stroke="#0B5AA2" stroke-width="3.75" stroke-linecap="round" stroke-linejoin="round"/>
<path d="M1269.34,1492.84 L1271.32,1492.76 L1273.3,1492.69 L1275.27,1492.6 L1277.25,1492.52 L1279.23,1492.43 L1281.2,1492.33 L1283.18,1492.24 L1285.15,1492.13 L1287.13,1492.02 L1289.11,1491.91 L1291.08,1491.79 L1293.06,1491.66 L1295.04,1491.53 L1297.01,1491.39 L1298.99,1491.24 L1300.96,1491.08 L1302.94,1490.92 L1304.92,1490.75 L1306.89,1490.57 L1308.87,1490.39 L1310.85,1490.19 L1312.82,1489.98 L1314.8,1489.76 L1316.77,1489.53 L1318.75,1489.29 L1320.73,1489.04 L1322.7,1488.78 L1324.68,1488.5 L1326.66,1488.21 L1328.63,1487.9 L1330.61,1487.58 L1332.58,1487.25 L1334.56,1486.89 L1336.54,1486.52 L1338.51,1486.13 L1340.49,1485.73 L1342.47,1485.3 L1344.44,1484.85 L1346.42,1484.38 L1348.39,1483.89 L1350.37,1483.37 L1352.35,1482.83 L1354.32,1482.26 L1356.3,1481.67 L1358.28,1481.05 L1360.25,1480.4 L1362.23,1479.72 L1364.2,1479 L1366.18,1478.25 L1368.16,1477.47 L1370.13,1476.65 L1372.11,1475.8 L1374.09,1474.9 L1376.06,1473.97 L1378.04,1472.99 L1380.01,1471.97 L1381.99,1470.91 L1383.97,1469.79 L1385.94,1468.63 L1387.92,1467.42 L1389.9,1466.16 L1391.87,1464.85 L1393.85,1463.48 L1395.82,1462.05 L1397.8,1460.57 L1399.78,1459.02 L1401.75,1457.42 L1403.73,1455.75 L1405.71,1454.02 L1407.68,1452.23 L1409.66,1450.36 L1411.63,1448.44 L1413.61,1446.44 L1415.59,1444.38 L1417.56,1442.24 L1419.54,1440.04 L1421.52,1437.77 L1423.49,1435.43 L1425.47,1433.02 L1427.45,1430.54 L1429.42,1428 L1431.4,1425.4 L1433.37,1422.73 L1435.35,1420 L1437.33,1417.21 L1439.3,1414.38 L1441.28,1411.49 L1443.26,1408.56 L1445.23,1405.58 L1447.21,1402.58 L1449.18,1399.54 L1451.16,1396.49 L1453.14,1393.42 L1455.11,1390.35 L1457.09,1387.28 L1459.07,1384.23 L1461.04,1381.2 L1463.02,1378.2 L1464.99,1375.25 L1466.97,1372.36 L1468.95,1369.53 L1470.92,1366.79 L1472.9,1364.14 L1474.88,1361.59 L1476.85,1359.16 L1478.83,1356.86 L1480.8,1354.7 L1482.78,1352.69 L1484.76,1350.85 L1486.73,1349.18 L1488.71,1347.7 L1490.69,1346.4 L1492.66,1345.31 L1494.64,1344.43 L1496.61,1343.75 L1498.59,1343.3 L1500.57,1343.06 L1502.54,1343.04 L1504.52,1343.25 L1506.5,1343.67 L1508.47,1344.31 L1510.45,1345.17 L1512.42,1346.23 L1514.4,1347.49 L1516.38,1348.95 L1518.35,1350.59 L1520.33,1352.41 L1522.31,1354.39 L1524.28,1356.53 L1526.26,1358.81 L1528.23,1361.22 L1530.21,1363.75 L1532.19,1366.39 L1534.16,1369.12 L1536.14,1371.93 L1538.12,1374.82 L1540.09,1377.76 L1542.07,1380.75 L1544.04,1383.77 L1546.02,1386.83 L1548,1389.89 L1549.97,1392.96 L1551.95,1396.03 L1553.93,1399.09 L1555.9,1402.13 L1557.88,1405.14 L1559.85,1408.11 L1561.83,1411.05 L1563.81,1413.95 L1565.78,1416.79 L1567.76,1419.59 L1569.74,1422.32 L1571.71,1425 L1573.69,1427.62 L1575.66,1430.17 L1577.64,1432.65 L1579.62,1435.07 L1581.59,1437.42 L1583.57,1439.71 L1585.55,1441.92" fill="none" stroke="#DE8C07" stroke-width="3.75" stroke-linecap="round" stroke-linejoin="round"/>
<path d="M1269.34,1494.28 L1271.32,1494.28 L1273.3,1494.28 L1275.27,1494.28 L1277.25,1494.27 L1279.23,1494.27 L1281.2,1494.27 L1283.18,1494.27 L1285.15,1494.27 L1287.13,1494.27 L1289.11,1494.27 L1291.08,1494.27 L1293.06,1494.27 L1295.04,1494.27 L1297.01,1494.27 L1298.99,1494.27 L1300.96,1494.27 L1302.94,1494.26 L1304.92,1494.26 L1306.89,1494.26 L1308.87,1494.26 L1310.85,1494.26 L1312.82,1494.25 L1314.8,1494.25 L1316.77,1494.25 L1318.75,1494.24 L1320.73,1494.24 L1322.7,1494.24 L1324.68,1494.23 L1326.66,1494.23 L1328.63,1494.22 L1330.61,1494.22 L1332.58,1494.21 L1334.56,1494.2 L1336.54,1494.2 L1338.51,1494.19 L1340.49,1494.18 L1342.47,1494.17 L1344.44,1494.16 L1346.42,1494.14 L1348.39,1494.13 L1350.37,1494.11 L1352.35,1494.1 L1354.32,1494.08 L1356.3,1494.06 L1358.28,1494.03 L1360.25,1494.01 L1362.23,1493.98 L1364.2,1493.95 L1366.18,1493.91 L1368.16,1493.88 L1370.13,1493.83 L1372.11,1493.79 L1374.09,1493.74 L1376.06,1493.68 L1378.04,1493.62 L1380.01,1493.56 L1381.99,1493.48 L1383.97,1493.4 L1385.94,1493.31 L1387.92,1493.22 L1389.9,1493.11 L1391.87,1492.99 L1393.85,1492.86 L1395.82,1492.72 L1397.8,1492.57 L1399.78,1492.4 L1401.75,1492.21 L1403.73,1492.01 L1405.71,1491.78 L1407.68,1491.54 L1409.66,1491.27 L1411.63,1490.98 L1413.61,1490.66 L1415.59,1490.3 L1417.56,1489.92 L1419.54,1489.51 L1421.52,1489.05 L1423.49,1488.55 L1425.47,1488.01 L1427.45,1487.43 L1429.42,1486.79 L1431.4,1486.1 L1433.37,1485.34 L1435.35,1484.53 L1437.33,1483.64 L1439.3,1482.68 L1441.28,1481.65 L1443.26,1480.53 L1445.23,1479.33 L1447.21,1478.03 L1449.18,1476.63 L1451.16,1475.12 L1453.14,1473.51 L1455.11,1471.78 L1457.09,1469.93 L1459.07,1467.95 L1461.04,1465.84 L1463.02,1463.59 L1464.99,1461.19 L1466.97,1458.65 L1468.95,1455.96 L1470.92,1453.11 L1472.9,1450.09 L1474.88,1446.92 L1476.85,1443.58 L1478.83,1440.07 L1480.8,1436.4 L1482.78,1432.56 L1484.76,1428.55 L1486.73,1424.37 L1488.71,1420.04 L1490.69,1415.54 L1492.66,1410.89 L1494.64,1406.1 L1496.61,1401.16 L1498.59,1396.09 L1500.57,1390.89 L1502.54,1385.58 L1504.52,1380.16 L1506.5,1374.65 L1508.47,1369.05 L1510.45,1363.38 L1512.42,1357.64 L1514.4,1351.86 L1516.38,1346.05 L1518.35,1340.21 L1520.33,1334.36 L1522.31,1328.51 L1524.28,1322.67 L1526.26,1316.86 L1528.23,1311.08 L1530.21,1305.35 L1532.19,1299.68 L1534.16,1294.07 L1536.14,1288.54 L1538.12,1283.09 L1540.09,1277.73 L1542.07,1272.47 L1544.04,1267.31 L1546.02,1262.26 L1548,1257.33 L1549.97,1252.51 L1551.95,1247.81 L1553.93,1243.23 L1555.9,1238.78 L1557.88,1234.46 L1559.85,1230.26 L1561.83,1226.19 L1563.81,1222.25 L1565.78,1218.43 L1567.76,1214.74 L1569.74,1211.18 L1571.71,1207.74 L1573.69,1204.42 L1575.66,1201.22 L1577.64,1198.14 L1579.62,1195.18 L1581.59,1192.33 L1583.57,1189.58 L1585.55,1186.95" fill="none" stroke="#128B5E" stroke-width="3.75" stroke-linecap="round" stroke-linejoin="round"/>
<path d="M187.93,1600.91 L189.91,1601.26 L191.89,1601.63 L193.86,1602.01 L195.84,1602.42 L197.82,1602.85 L199.79,1603.29 L201.77,1603.76 L203.74,1604.26 L205.72,1604.78 L207.7,1605.32 L209.67,1605.9 L211.65,1606.5 L213.63,1607.13 L215.6,1607.8 L217.58,1608.49 L219.55,1609.23 L221.53,1609.99 L223.51,1610.8 L225.48,1611.65 L227.46,1612.54 L229.44,1613.47 L231.41,1614.45 L233.39,1615.48 L235.36,1616.56 L237.34,1617.69 L239.32,1618.88 L241.29,1620.13 L243.27,1621.43 L245.25,1622.8 L247.22,1624.24 L249.2,1625.75 L251.17,1627.32 L253.15,1628.98 L255.13,1630.71 L257.1,1632.52 L259.08,1634.42 L261.06,1636.41 L263.03,1638.49 L265.01,1640.66 L266.98,1642.94 L268.96,1645.31 L270.94,1647.8 L272.91,1650.39 L274.89,1653.1 L276.87,1655.92 L278.84,1658.87 L280.82,1661.94 L282.79,1665.14 L284.77,1668.47 L286.75,1671.93 L288.72,1675.53 L290.7,1679.26 L292.68,1683.14 L294.65,1687.16 L296.63,1691.32 L298.6,1695.63 L300.58,1700.08 L302.56,1704.68 L304.53,1709.42 L306.51,1714.3 L308.49,1719.32 L310.46,1724.47 L312.44,1729.76 L314.41,1735.17 L316.39,1740.71 L318.37,1746.35 L320.34,1752.1 L322.32,1757.95 L324.3,1763.88 L326.27,1769.89 L328.25,1775.97 L330.22,1782.09 L332.2,1788.25 L334.18,1794.44 L336.15,1800.64 L338.13,1806.83 L340.11,1813 L342.08,1819.14 L344.06,1825.22 L346.04,1831.24 L348.01,1837.19 L349.99,1843.03 L351.96,1848.77 L353.94,1854.39 L355.92,1859.88 L357.89,1865.22 L359.87,1870.41 L361.85,1875.44 L363.82,1880.3 L365.8,1884.98 L367.77,1889.49 L369.75,1893.81 L371.73,1897.94 L373.7,1901.89 L375.68,1905.65 L377.66,1909.22 L379.63,1912.61 L381.61,1915.81 L383.58,1918.84 L385.56,1921.7 L387.54,1924.38 L389.51,1926.9 L391.49,1929.27 L393.47,1931.48 L395.44,1933.54 L397.42,1935.47 L399.39,1937.26 L401.37,1938.93 L403.35,1940.48 L405.32,1941.92 L407.3,1943.25 L409.28,1944.49 L411.25,1945.62 L413.23,1946.68 L415.2,1947.65 L417.18,1948.54 L419.16,1949.36 L421.13,1950.12 L423.11,1950.81 L425.09,1951.45 L427.06,1952.04 L429.04,1952.57 L431.01,1953.07 L432.99,1953.52 L434.97,1953.93 L436.94,1954.31 L438.92,1954.65 L440.9,1954.96 L442.87,1955.25 L444.85,1955.51 L446.82,1955.75 L448.8,1955.97 L450.78,1956.17 L452.75,1956.35 L454.73,1956.52 L456.71,1956.67 L458.68,1956.8 L460.66,1956.93 L462.63,1957.04 L464.61,1957.15 L466.59,1957.24 L468.56,1957.32 L470.54,1957.4 L472.52,1957.47 L474.49,1957.54 L476.47,1957.59 L478.44,1957.65 L480.42,1957.69 L482.4,1957.74 L484.37,1957.78 L486.35,1957.81 L488.33,1957.84 L490.3,1957.87 L492.28,1957.9 L494.25,1957.93 L496.23,1957.95 L498.21,1957.97 L500.18,1957.99 L502.16,1958 L504.14,1958.02" fill="none" stroke="#0B5AA2" stroke-width="3.75" stroke-linecap="round" stroke-linejoin="round"/>
<path d="M187.93,1951.4 L189.91,1951.06 L191.89,1950.71 L193.86,1950.33 L195.84,1949.94 L197.82,1949.53 L199.79,1949.1 L201.77,1948.65 L203.74,1948.17 L205.72,1947.68 L207.7,1947.16 L209.67,1946.61 L211.65,1946.04 L213.63,1945.44 L215.6,1944.81 L217.58,1944.16 L219.55,1943.47 L221.53,1942.75 L223.51,1942 L225.48,1941.21 L227.46,1940.39 L229.44,1939.53 L231.41,1938.63 L233.39,1937.69 L235.36,1936.71 L237.34,1935.68 L239.32,1934.61 L241.29,1933.49 L243.27,1932.33 L245.25,1931.12 L247.22,1929.85 L249.2,1928.53 L251.17,1927.16 L253.15,1925.74 L255.13,1924.25 L257.1,1922.71 L259.08,1921.11 L261.06,1919.45 L263.03,1917.73 L265.01,1915.95 L266.98,1914.1 L268.96,1912.19 L270.94,1910.22 L272.91,1908.18 L274.89,1906.08 L276.87,1903.92 L278.84,1901.69 L280.82,1899.41 L282.79,1897.06 L284.77,1894.66 L286.75,1892.2 L288.72,1889.69 L290.7,1887.13 L292.68,1884.53 L294.65,1881.88 L296.63,1879.2 L298.6,1876.49 L300.58,1873.76 L302.56,1871.02 L304.53,1868.26 L306.51,1865.51 L308.49,1862.76 L310.46,1860.04 L312.44,1857.34 L314.41,1854.68 L316.39,1852.07 L318.37,1849.53 L320.34,1847.06 L322.32,1844.68 L324.3,1842.4 L326.27,1840.23 L328.25,1838.18 L330.22,1836.27 L332.2,1834.5 L334.18,1832.9 L336.15,1831.46 L338.13,1830.2 L340.11,1829.12 L342.08,1828.24 L344.06,1827.56 L346.04,1827.08 L348.01,1826.81 L349.99,1826.75 L351.96,1826.9 L353.94,1827.26 L355.92,1827.82 L357.89,1828.59 L359.87,1829.55 L361.85,1830.71 L363.82,1832.04 L365.8,1833.55 L367.77,1835.23 L369.75,1837.06 L371.73,1839.03 L373.7,1841.13 L375.68,1843.35 L377.66,1845.67 L379.63,1848.09 L381.61,1850.59 L383.58,1853.16 L385.56,1855.79 L387.54,1858.47 L389.51,1861.18 L391.49,1863.92 L393.47,1866.67 L395.44,1869.42 L397.42,1872.17 L399.39,1874.92 L401.37,1877.64 L403.35,1880.33 L405.32,1883 L407.3,1885.63 L409.28,1888.21 L411.25,1890.75 L413.23,1893.24 L415.2,1895.68 L417.18,1898.05 L419.16,1900.38 L421.13,1902.64 L423.11,1904.84 L425.09,1906.97 L427.06,1909.05 L429.04,1911.06 L431.01,1913 L432.99,1914.89 L434.97,1916.71 L436.94,1918.46 L438.92,1920.16 L440.9,1921.79 L442.87,1923.37 L444.85,1924.88 L446.82,1926.34 L448.8,1927.75 L450.78,1929.09 L452.75,1930.39 L454.73,1931.63 L456.71,1932.83 L458.68,1933.97 L460.66,1935.07 L462.63,1936.12 L464.61,1937.12 L466.59,1938.09 L468.56,1939.01 L470.54,1939.89 L472.52,1940.74 L474.49,1941.55 L476.47,1942.32 L478.44,1943.06 L480.42,1943.76 L482.4,1944.44 L484.37,1945.08 L486.35,1945.7 L488.33,1946.28 L490.3,1946.84 L492.28,1947.38 L494.25,1947.89 L496.23,1948.37 L498.21,1948.84 L500.18,1949.28 L502.16,1949.7 L504.14,1950.11" fill="none" stroke="#DE8C07" stroke-width="3.75" stroke-linecap="round" stroke-linejoin="round"/>
<path d="M187.93,1958.06 L189.91,1958.05 L191.89,1958.04 L193.86,1958.02 L195.84,1958.01 L197.82,1957.99 L199.79,1957.98 L201.77,1957.96 L203.74,1957.94 L205.72,1957.92 L207.7,1957.89 L209.67,1957.86 L211.65,1957.83 L213.63,1957.8 L215.6,1957.76 L217.58,1957.72 L219.55,1957.67 L221.53,1957.62 L223.51,1957.57 L225.48,1957.51 L227.46,1957.44 L229.44,1957.37 L231.41,1957.29 L233.39,1957.2 L235.36,1957.1 L237.34,1957 L239.32,1956.88 L241.29,1956.75 L243.27,1956.61 L245.25,1956.45 L247.22,1956.28 L249.2,1956.09 L251.17,1955.88 L253.15,1955.66 L255.13,1955.41 L257.1,1955.13 L259.08,1954.84 L261.06,1954.51 L263.03,1954.15 L265.01,1953.76 L266.98,1953.33 L268.96,1952.86 L270.94,1952.35 L272.91,1951.8 L274.89,1951.19 L276.87,1950.53 L278.84,1949.81 L280.82,1949.02 L282.79,1948.17 L284.77,1947.25 L286.75,1946.24 L288.72,1945.16 L290.7,1943.98 L292.68,1942.7 L294.65,1941.33 L296.63,1939.84 L298.6,1938.25 L300.58,1936.52 L302.56,1934.67 L304.53,1932.69 L306.51,1930.56 L308.49,1928.29 L310.46,1925.86 L312.44,1923.27 L314.41,1920.52 L316.39,1917.59 L318.37,1914.49 L320.34,1911.2 L322.32,1907.74 L324.3,1904.09 L326.27,1900.25 L328.25,1896.22 L330.22,1892.01 L332.2,1887.61 L334.18,1883.03 L336.15,1878.27 L338.13,1873.34 L340.11,1868.24 L342.08,1862.99 L344.06,1857.58 L346.04,1852.04 L348.01,1846.37 L349.99,1840.58 L351.96,1834.69 L353.94,1828.72 L355.92,1822.67 L357.89,1816.56 L359.87,1810.41 L361.85,1804.22 L363.82,1798.03 L365.8,1791.83 L367.77,1785.66 L369.75,1779.51 L371.73,1773.4 L373.7,1767.35 L375.68,1761.38 L377.66,1755.48 L379.63,1749.67 L381.61,1743.96 L383.58,1738.36 L385.56,1732.88 L387.54,1727.52 L389.51,1722.29 L391.49,1717.19 L393.47,1712.23 L395.44,1707.4 L397.42,1702.72 L399.39,1698.19 L401.37,1693.8 L403.35,1689.55 L405.32,1685.45 L407.3,1681.49 L409.28,1677.67 L411.25,1673.99 L413.23,1670.45 L415.2,1667.05 L417.18,1663.78 L419.16,1660.63 L421.13,1657.61 L423.11,1654.72 L425.09,1651.95 L427.06,1649.29 L429.04,1646.74 L431.01,1644.3 L432.99,1641.97 L434.97,1639.74 L436.94,1637.6 L438.92,1635.56 L440.9,1633.61 L442.87,1631.75 L444.85,1629.97 L446.82,1628.27 L448.8,1626.65 L450.78,1625.1 L452.75,1623.63 L454.73,1622.22 L456.71,1620.88 L458.68,1619.6 L460.66,1618.37 L462.63,1617.21 L464.61,1616.1 L466.59,1615.04 L468.56,1614.03 L470.54,1613.07 L472.52,1612.16 L474.49,1611.29 L476.47,1610.46 L478.44,1609.67 L480.42,1608.91 L482.4,1608.2 L484.37,1607.51 L486.35,1606.86 L488.33,1606.24 L490.3,1605.65 L492.28,1605.09 L494.25,1604.56 L496.23,1604.05 L498.21,1603.56 L500.18,1603.1 L502.16,1602.66 L504.14,1602.25" fill="none" stroke="#128B5E" stroke-width="3.75" stroke-linecap="round" stroke-linejoin="round"/>
<path d="M548.4,1598.23 L550.38,1598.45 L552.36,1598.67 L554.33,1598.91 L556.31,1599.16 L558.29,1599.42 L560.26,1599.69 L562.24,1599.98 L564.21,1600.28 L566.19,1600.6 L568.17,1600.93 L570.14,1601.28 L572.12,1601.65 L574.1,1602.03 L576.07,1602.44 L578.05,1602.87 L580.02,1603.31 L582,1603.78 L583.98,1604.28 L585.95,1604.8 L587.93,1605.34 L589.91,1605.91 L591.88,1606.51 L593.86,1607.14 L595.83,1607.8 L597.81,1608.5 L599.79,1609.23 L601.76,1609.99 L603.74,1610.79 L605.72,1611.64 L607.69,1612.52 L609.67,1613.45 L611.64,1614.42 L613.62,1615.44 L615.6,1616.51 L617.57,1617.63 L619.55,1618.8 L621.53,1620.04 L623.5,1621.33 L625.48,1622.68 L627.45,1624.1 L629.43,1625.58 L631.41,1627.14 L633.38,1628.76 L635.36,1630.47 L637.34,1632.25 L639.31,1634.11 L641.29,1636.06 L643.26,1638.1 L645.24,1640.23 L647.22,1642.45 L649.19,1644.77 L651.17,1647.2 L653.15,1649.73 L655.12,1652.36 L657.1,1655.11 L659.07,1657.98 L661.05,1660.96 L663.03,1664.06 L665,1667.29 L666.98,1670.64 L668.96,1674.12 L670.93,1677.74 L672.91,1681.48 L674.88,1685.36 L676.86,1689.38 L678.84,1693.53 L680.81,1697.82 L682.79,1702.25 L684.77,1706.81 L686.74,1711.51 L688.72,1716.34 L690.69,1721.3 L692.67,1726.39 L694.65,1731.6 L696.62,1736.93 L698.6,1742.37 L700.58,1747.91 L702.55,1753.55 L704.53,1759.28 L706.5,1765.09 L708.48,1770.96 L710.46,1776.9 L712.43,1782.88 L714.41,1788.9 L716.39,1794.94 L718.36,1800.99 L720.34,1807.03 L722.32,1813.06 L724.29,1819.05 L726.27,1824.99 L728.24,1830.88 L730.22,1836.69 L732.2,1842.41 L734.17,1848.03 L736.15,1853.55 L738.13,1858.93 L740.1,1864.19 L742.08,1869.3 L744.05,1874.26 L746.03,1879.06 L748.01,1883.7 L749.98,1888.17 L751.96,1892.46 L753.94,1896.58 L755.91,1900.51 L757.89,1904.27 L759.86,1907.85 L761.84,1911.26 L763.82,1914.48 L765.79,1917.54 L767.77,1920.42 L769.75,1923.14 L771.72,1925.7 L773.7,1928.11 L775.67,1930.36 L777.65,1932.48 L779.63,1934.45 L781.6,1936.29 L783.58,1938.01 L785.56,1939.61 L787.53,1941.09 L789.51,1942.47 L791.48,1943.75 L793.46,1944.93 L795.44,1946.03 L797.41,1947.04 L799.39,1947.97 L801.37,1948.83 L803.34,1949.63 L805.32,1950.35 L807.29,1951.03 L809.27,1951.64 L811.25,1952.21 L813.22,1952.73 L815.2,1953.2 L817.18,1953.64 L819.15,1954.04 L821.13,1954.4 L823.1,1954.74 L825.08,1955.04 L827.06,1955.32 L829.03,1955.58 L831.01,1955.81 L832.99,1956.02 L834.96,1956.22 L836.94,1956.39 L838.91,1956.55 L840.89,1956.7 L842.87,1956.83 L844.84,1956.96 L846.82,1957.07 L848.8,1957.17 L850.77,1957.26 L852.75,1957.34 L854.72,1957.42 L856.7,1957.49 L858.68,1957.55 L860.65,1957.6 L862.63,1957.66 L864.61,1957.7" fill="none" stroke="#0B5AA2" stroke-width="3.75" stroke-linecap="round" stroke-linejoin="round"/>
<path d="M548.4,1954.01 L550.38,1953.8 L552.36,1953.58 L554.33,1953.34 L556.31,1953.1 L558.29,1952.84 L560.26,1952.58 L562.24,1952.29 L564.21,1952 L566.19,1951.69 L568.17,1951.36 L570.14,1951.02 L572.12,1950.66 L574.1,1950.29 L576.07,1949.89 L578.05,1949.48 L580.02,1949.05 L582,1948.59 L583.98,1948.12 L585.95,1947.62 L587.93,1947.09 L589.91,1946.54 L591.88,1945.97 L593.86,1945.37 L595.83,1944.74 L597.81,1944.08 L599.79,1943.39 L601.76,1942.66 L603.74,1941.91 L605.72,1941.11 L607.69,1940.29 L609.67,1939.42 L611.64,1938.51 L613.62,1937.57 L615.6,1936.58 L617.57,1935.55 L619.55,1934.47 L621.53,1933.35 L623.5,1932.18 L625.48,1930.95 L627.45,1929.68 L629.43,1928.35 L631.41,1926.97 L633.38,1925.53 L635.36,1924.04 L637.34,1922.48 L639.31,1920.87 L641.29,1919.19 L643.26,1917.45 L645.24,1915.65 L647.22,1913.78 L649.19,1911.85 L651.17,1909.85 L653.15,1907.79 L655.12,1905.66 L657.1,1903.46 L659.07,1901.2 L661.05,1898.88 L663.03,1896.49 L665,1894.04 L666.98,1891.53 L668.96,1888.96 L670.93,1886.34 L672.91,1883.66 L674.88,1880.94 L676.86,1878.18 L678.84,1875.38 L680.81,1872.54 L682.79,1869.68 L684.77,1866.81 L686.74,1863.92 L688.72,1861.03 L690.69,1858.14 L692.67,1855.27 L694.65,1852.43 L696.62,1849.62 L698.6,1846.86 L700.58,1844.16 L702.55,1841.53 L704.53,1838.98 L706.5,1836.53 L708.48,1834.19 L710.46,1831.96 L712.43,1829.87 L714.41,1827.93 L716.39,1826.13 L718.36,1824.51 L720.34,1823.06 L722.32,1821.79 L724.29,1820.72 L726.27,1819.85 L728.24,1819.18 L730.22,1818.73 L732.2,1818.48 L734.17,1818.46 L736.15,1818.64 L738.13,1819.04 L740.1,1819.66 L742.08,1820.48 L744.05,1821.5 L746.03,1822.71 L748.01,1824.12 L749.98,1825.7 L751.96,1827.45 L753.94,1829.35 L755.91,1831.41 L757.89,1833.6 L759.86,1835.91 L761.84,1838.34 L763.82,1840.86 L765.79,1843.47 L767.77,1846.15 L769.75,1848.9 L771.72,1851.7 L773.7,1854.53 L775.67,1857.4 L777.65,1860.28 L779.63,1863.17 L781.6,1866.06 L783.58,1868.94 L785.56,1871.8 L787.53,1874.65 L789.51,1877.46 L791.48,1880.23 L793.46,1882.96 L795.44,1885.65 L797.41,1888.28 L799.39,1890.87 L801.37,1893.39 L803.34,1895.86 L805.32,1898.26 L807.29,1900.61 L809.27,1902.88 L811.25,1905.1 L813.22,1907.24 L815.2,1909.32 L817.18,1911.34 L819.15,1913.29 L821.13,1915.17 L823.1,1916.99 L825.08,1918.75 L827.06,1920.44 L829.03,1922.07 L831.01,1923.64 L832.99,1925.15 L834.96,1926.6 L836.94,1928 L838.91,1929.34 L840.89,1930.63 L842.87,1931.86 L844.84,1933.05 L846.82,1934.19 L848.8,1935.27 L850.77,1936.32 L852.75,1937.32 L854.72,1938.27 L856.7,1939.19 L858.68,1940.07 L860.65,1940.9 L862.63,1941.7 L864.61,1942.47" fill="none" stroke="#DE8C07" stroke-width="3.75" stroke-linecap="round" stroke-linejoin="round"/>
<path d="M548.4,1958.13 L550.38,1958.13 L552.36,1958.12 L554.33,1958.12 L556.31,1958.11 L558.29,1958.11 L560.26,1958.1 L562.24,1958.1 L564.21,1958.09 L566.19,1958.08 L568.17,1958.08 L570.14,1958.07 L572.12,1958.06 L574.1,1958.05 L576.07,1958.04 L578.05,1958.02 L580.02,1958.01 L582,1957.99 L583.98,1957.98 L585.95,1957.96 L587.93,1957.94 L589.91,1957.91 L591.88,1957.89 L593.86,1957.86 L595.83,1957.83 L597.81,1957.79 L599.79,1957.76 L601.76,1957.71 L603.74,1957.67 L605.72,1957.62 L607.69,1957.56 L609.67,1957.5 L611.64,1957.44 L613.62,1957.36 L615.6,1957.28 L617.57,1957.19 L619.55,1957.09 L621.53,1956.99 L623.5,1956.87 L625.48,1956.74 L627.45,1956.59 L629.43,1956.44 L631.41,1956.26 L633.38,1956.08 L635.36,1955.87 L637.34,1955.64 L639.31,1955.39 L641.29,1955.12 L643.26,1954.82 L645.24,1954.49 L647.22,1954.14 L649.19,1953.75 L651.17,1953.32 L653.15,1952.85 L655.12,1952.35 L657.1,1951.79 L659.07,1951.19 L661.05,1950.53 L663.03,1949.82 L665,1949.04 L666.98,1948.2 L668.96,1947.29 L670.93,1946.3 L672.91,1945.22 L674.88,1944.06 L676.86,1942.81 L678.84,1941.46 L680.81,1940 L682.79,1938.43 L684.77,1936.75 L686.74,1934.94 L688.72,1933 L690.69,1930.92 L692.67,1928.71 L694.65,1926.34 L696.62,1923.82 L698.6,1921.14 L700.58,1918.3 L702.55,1915.29 L704.53,1912.11 L706.5,1908.75 L708.48,1905.22 L710.46,1901.5 L712.43,1897.61 L714.41,1893.54 L716.39,1889.29 L718.36,1884.87 L720.34,1880.28 L722.32,1875.52 L724.29,1870.6 L726.27,1865.53 L728.24,1860.31 L730.22,1854.95 L732.2,1849.47 L734.17,1843.88 L736.15,1838.18 L738.13,1832.39 L740.1,1826.52 L742.08,1820.59 L744.05,1814.61 L746.03,1808.59 L748.01,1802.56 L749.98,1796.51 L751.96,1790.46 L753.94,1784.44 L755.91,1778.45 L757.89,1772.5 L759.86,1766.6 L761.84,1760.78 L763.82,1755.03 L765.79,1749.36 L767.77,1743.79 L769.75,1738.33 L771.72,1732.97 L773.7,1727.73 L775.67,1722.61 L777.65,1717.62 L779.63,1712.75 L781.6,1708.02 L783.58,1703.42 L785.56,1698.96 L787.53,1694.63 L789.51,1690.44 L791.48,1686.39 L793.46,1682.47 L795.44,1678.69 L797.41,1675.05 L799.39,1671.53 L801.37,1668.14 L803.34,1664.88 L805.32,1661.75 L807.29,1658.74 L809.27,1655.84 L811.25,1653.06 L813.22,1650.4 L815.2,1647.84 L817.18,1645.39 L819.15,1643.04 L821.13,1640.79 L823.1,1638.64 L825.08,1636.58 L827.06,1634.61 L829.03,1632.72 L831.01,1630.92 L832.99,1629.2 L834.96,1627.55 L836.94,1625.98 L838.91,1624.48 L840.89,1623.04 L842.87,1621.67 L844.84,1620.37 L846.82,1619.12 L848.8,1617.93 L850.77,1616.79 L852.75,1615.71 L854.72,1614.68 L856.7,1613.69 L858.68,1612.76 L860.65,1611.86 L862.63,1611.01 L864.61,1610.2" fill="none" stroke="#128B5E" stroke-width="3.75" stroke-linecap="round" stroke-linejoin="round"/>
<path d="M908.87,1598.01 L910.85,1598.21 L912.83,1598.43 L914.8,1598.65 L916.78,1598.89 L918.76,1599.13 L920.73,1599.4 L922.71,1599.67 L924.68,1599.96 L926.66,1600.26 L928.64,1600.58 L930.61,1600.91 L932.59,1601.26 L934.57,1601.63 L936.54,1602.02 L938.52,1602.42 L940.49,1602.85 L942.47,1603.3 L944.45,1603.78 L946.42,1604.27 L948.4,1604.79 L950.38,1605.34 L952.35,1605.92 L954.33,1606.53 L956.3,1607.16 L958.28,1607.83 L960.26,1608.53 L962.23,1609.27 L964.21,1610.05 L966.19,1610.86 L968.16,1611.72 L970.14,1612.62 L972.11,1613.56 L974.09,1614.55 L976.07,1615.59 L978.04,1616.68 L980.02,1617.83 L982,1619.03 L983.97,1620.3 L985.95,1621.62 L987.92,1623.01 L989.9,1624.47 L991.88,1626 L993.85,1627.61 L995.83,1629.29 L997.81,1631.06 L999.78,1632.91 L1001.76,1634.85 L1003.73,1636.88 L1005.71,1639 L1007.69,1641.23 L1009.66,1643.56 L1011.64,1646 L1013.62,1648.54 L1015.59,1651.21 L1017.57,1653.99 L1019.54,1656.9 L1021.52,1659.93 L1023.5,1663.09 L1025.47,1666.39 L1027.45,1669.82 L1029.43,1673.39 L1031.4,1677.11 L1033.38,1680.97 L1035.35,1684.98 L1037.33,1689.14 L1039.31,1693.46 L1041.28,1697.92 L1043.26,1702.53 L1045.24,1707.29 L1047.21,1712.21 L1049.19,1717.26 L1051.16,1722.47 L1053.14,1727.81 L1055.12,1733.28 L1057.09,1738.89 L1059.07,1744.61 L1061.05,1750.45 L1063.02,1756.39 L1065,1762.42 L1066.98,1768.54 L1068.95,1774.72 L1070.93,1780.96 L1072.9,1787.25 L1074.88,1793.55 L1076.86,1799.88 L1078.83,1806.19 L1080.81,1812.49 L1082.79,1818.75 L1084.76,1824.96 L1086.74,1831.09 L1088.71,1837.15 L1090.69,1843.1 L1092.67,1848.95 L1094.64,1854.66 L1096.62,1860.24 L1098.6,1865.66 L1100.57,1870.92 L1102.55,1876.02 L1104.52,1880.93 L1106.5,1885.67 L1108.48,1890.21 L1110.45,1894.57 L1112.43,1898.73 L1114.41,1902.69 L1116.38,1906.46 L1118.36,1910.04 L1120.33,1913.43 L1122.31,1916.63 L1124.29,1919.65 L1126.26,1922.49 L1128.24,1925.15 L1130.22,1927.65 L1132.19,1929.99 L1134.17,1932.18 L1136.14,1934.22 L1138.12,1936.12 L1140.1,1937.88 L1142.07,1939.52 L1144.05,1941.04 L1146.03,1942.45 L1148,1943.75 L1149.98,1944.96 L1151.95,1946.07 L1153.93,1947.09 L1155.91,1948.03 L1157.88,1948.9 L1159.86,1949.7 L1161.84,1950.43 L1163.81,1951.11 L1165.79,1951.72 L1167.76,1952.29 L1169.74,1952.81 L1171.72,1953.28 L1173.69,1953.72 L1175.67,1954.11 L1177.65,1954.48 L1179.62,1954.81 L1181.6,1955.11 L1183.57,1955.39 L1185.55,1955.64 L1187.53,1955.87 L1189.5,1956.07 L1191.48,1956.27 L1193.46,1956.44 L1195.43,1956.6 L1197.41,1956.74 L1199.38,1956.87 L1201.36,1956.99 L1203.34,1957.1 L1205.31,1957.2 L1207.29,1957.28 L1209.27,1957.37 L1211.24,1957.44 L1213.22,1957.51 L1215.19,1957.57 L1217.17,1957.62 L1219.15,1957.67 L1221.12,1957.72 L1223.1,1957.76 L1225.08,1957.8" fill="none" stroke="#0B5AA2" stroke-width="3.75" stroke-linecap="round" stroke-linejoin="round"/>
<path d="M908.87,1954.24 L910.85,1954.04 L912.83,1953.83 L914.8,1953.61 L916.78,1953.38 L918.76,1953.14 L920.73,1952.89 L922.71,1952.62 L924.68,1952.34 L926.66,1952.05 L928.64,1951.74 L930.61,1951.42 L932.59,1951.08 L934.57,1950.72 L936.54,1950.35 L938.52,1949.96 L940.49,1949.55 L942.47,1949.12 L944.45,1948.67 L946.42,1948.2 L948.4,1947.7 L950.38,1947.18 L952.35,1946.64 L954.33,1946.07 L956.3,1945.47 L958.28,1944.85 L960.26,1944.19 L962.23,1943.51 L964.21,1942.79 L966.19,1942.04 L968.16,1941.25 L970.14,1940.43 L972.11,1939.57 L974.09,1938.68 L976.07,1937.74 L978.04,1936.76 L980.02,1935.74 L982,1934.68 L983.97,1933.56 L985.95,1932.4 L987.92,1931.2 L989.9,1929.94 L991.88,1928.63 L993.85,1927.26 L995.83,1925.84 L997.81,1924.37 L999.78,1922.84 L1001.76,1921.25 L1003.73,1919.6 L1005.71,1917.89 L1007.69,1916.12 L1009.66,1914.29 L1011.64,1912.4 L1013.62,1910.44 L1015.59,1908.43 L1017.57,1906.35 L1019.54,1904.22 L1021.52,1902.02 L1023.5,1899.77 L1025.47,1897.46 L1027.45,1895.1 L1029.43,1892.69 L1031.4,1890.23 L1033.38,1887.73 L1035.35,1885.19 L1037.33,1882.62 L1039.31,1880.02 L1041.28,1877.39 L1043.26,1874.76 L1045.24,1872.12 L1047.21,1869.48 L1049.19,1866.85 L1051.16,1864.24 L1053.14,1861.66 L1055.12,1859.12 L1057.09,1856.64 L1059.07,1854.22 L1061.05,1851.88 L1063.02,1849.63 L1065,1847.47 L1066.98,1845.43 L1068.95,1843.52 L1070.93,1841.74 L1072.9,1840.11 L1074.88,1838.64 L1076.86,1837.34 L1078.83,1836.21 L1080.81,1835.27 L1082.79,1834.52 L1084.76,1833.97 L1086.74,1833.62 L1088.71,1833.47 L1090.69,1833.53 L1092.67,1833.79 L1094.64,1834.26 L1096.62,1834.92 L1098.6,1835.78 L1100.57,1836.83 L1102.55,1838.05 L1104.52,1839.45 L1106.5,1841.02 L1108.48,1842.73 L1110.45,1844.59 L1112.43,1846.57 L1114.41,1848.68 L1116.38,1850.89 L1118.36,1853.2 L1120.33,1855.58 L1122.31,1858.04 L1124.29,1860.55 L1126.26,1863.11 L1128.24,1865.71 L1130.22,1868.33 L1132.19,1870.97 L1134.17,1873.61 L1136.14,1876.25 L1138.12,1878.88 L1140.1,1881.49 L1142.07,1884.08 L1144.05,1886.63 L1146.03,1889.15 L1148,1891.63 L1149.98,1894.06 L1151.95,1896.44 L1153.93,1898.77 L1155.91,1901.05 L1157.88,1903.27 L1159.86,1905.43 L1161.84,1907.53 L1163.81,1909.58 L1165.79,1911.56 L1167.76,1913.48 L1169.74,1915.33 L1171.72,1917.13 L1173.69,1918.86 L1175.67,1920.54 L1177.65,1922.15 L1179.62,1923.71 L1181.6,1925.21 L1183.57,1926.65 L1185.55,1928.04 L1187.53,1929.37 L1189.5,1930.66 L1191.48,1931.89 L1193.46,1933.07 L1195.43,1934.2 L1197.41,1935.28 L1199.38,1936.33 L1201.36,1937.32 L1203.34,1938.28 L1205.31,1939.19 L1207.29,1940.07 L1209.27,1940.9 L1211.24,1941.7 L1213.22,1942.47 L1215.19,1943.2 L1217.17,1943.9 L1219.15,1944.56 L1221.12,1945.2 L1223.1,1945.81 L1225.08,1946.39" fill="none" stroke="#DE8C07" stroke-width="3.75" stroke-linecap="round" stroke-linejoin="round"/>
<path d="M908.87,1958.12 L910.85,1958.12 L912.83,1958.11 L914.8,1958.11 L916.78,1958.1 L918.76,1958.09 L920.73,1958.09 L922.71,1958.08 L924.68,1958.07 L926.66,1958.06 L928.64,1958.05 L930.61,1958.04 L932.59,1958.03 L934.57,1958.02 L936.54,1958 L938.52,1957.98 L940.49,1957.97 L942.47,1957.95 L944.45,1957.92 L946.42,1957.9 L948.4,1957.87 L950.38,1957.84 L952.35,1957.81 L954.33,1957.78 L956.3,1957.74 L958.28,1957.69 L960.26,1957.64 L962.23,1957.59 L964.21,1957.53 L966.19,1957.47 L968.16,1957.4 L970.14,1957.32 L972.11,1957.24 L974.09,1957.14 L976.07,1957.04 L978.04,1956.92 L980.02,1956.8 L982,1956.66 L983.97,1956.51 L985.95,1956.34 L987.92,1956.16 L989.9,1955.96 L991.88,1955.74 L993.85,1955.5 L995.83,1955.23 L997.81,1954.94 L999.78,1954.62 L1001.76,1954.27 L1003.73,1953.89 L1005.71,1953.48 L1007.69,1953.02 L1009.66,1952.52 L1011.64,1951.98 L1013.62,1951.38 L1015.59,1950.73 L1017.57,1950.03 L1019.54,1949.26 L1021.52,1948.42 L1023.5,1947.51 L1025.47,1946.52 L1027.45,1945.45 L1029.43,1944.29 L1031.4,1943.03 L1033.38,1941.67 L1035.35,1940.19 L1037.33,1938.61 L1039.31,1936.9 L1041.28,1935.06 L1043.26,1933.08 L1045.24,1930.96 L1047.21,1928.69 L1049.19,1926.26 L1051.16,1923.66 L1053.14,1920.9 L1055.12,1917.96 L1057.09,1914.84 L1059.07,1911.53 L1061.05,1908.04 L1063.02,1904.35 L1065,1900.47 L1066.98,1896.4 L1068.95,1892.13 L1070.93,1887.66 L1072.9,1883.01 L1074.88,1878.17 L1076.86,1873.16 L1078.83,1867.97 L1080.81,1862.61 L1082.79,1857.1 L1084.76,1851.44 L1086.74,1845.66 L1088.71,1839.75 L1090.69,1833.73 L1092.67,1827.63 L1094.64,1821.45 L1096.62,1815.21 L1098.6,1808.93 L1100.57,1802.62 L1102.55,1796.3 L1104.52,1789.98 L1106.5,1783.69 L1108.48,1777.43 L1110.45,1771.22 L1112.43,1765.07 L1114.41,1759 L1116.38,1753.02 L1118.36,1747.13 L1120.33,1741.36 L1122.31,1735.7 L1124.29,1730.17 L1126.26,1724.77 L1128.24,1719.51 L1130.22,1714.38 L1132.19,1709.41 L1134.17,1704.58 L1136.14,1699.9 L1138.12,1695.37 L1140.1,1691 L1142.07,1686.77 L1144.05,1682.7 L1146.03,1678.77 L1148,1674.99 L1149.98,1671.35 L1151.95,1667.86 L1153.93,1664.5 L1155.91,1661.28 L1157.88,1658.2 L1159.86,1655.24 L1161.84,1652.4 L1163.81,1649.69 L1165.79,1647.09 L1167.76,1644.6 L1169.74,1642.23 L1171.72,1639.96 L1173.69,1637.79 L1175.67,1635.72 L1177.65,1633.74 L1179.62,1631.85 L1181.6,1630.05 L1183.57,1628.33 L1185.55,1626.69 L1187.53,1625.13 L1189.5,1623.64 L1191.48,1622.22 L1193.46,1620.86 L1195.43,1619.57 L1197.41,1618.34 L1199.38,1617.17 L1201.36,1616.06 L1203.34,1615 L1205.31,1613.98 L1207.29,1613.02 L1209.27,1612.1 L1211.24,1611.23 L1213.22,1610.4 L1215.19,1609.6 L1217.17,1608.85 L1219.15,1608.13 L1221.12,1607.45 L1223.1,1606.8 L1225.08,1606.18" fill="none" stroke="#128B5E" stroke-width="3.75" stroke-linecap="round" stroke-linejoin="round"/>
<path d="M1269.34,1595.34 L1271.32,1595.41 L1273.3,1595.48 L1275.27,1595.55 L1277.25,1595.63 L1279.23,1595.71 L1281.2,1595.8 L1283.18,1595.89 L1285.15,1595.98 L1287.13,1596.08 L1289.11,1596.18 L1291.08,1596.29 L1293.06,1596.41 L1295.04,1596.53 L1297.01,1596.66 L1298.99,1596.79 L1300.96,1596.93 L1302.94,1597.08 L1304.92,1597.23 L1306.89,1597.4 L1308.87,1597.57 L1310.85,1597.75 L1312.82,1597.94 L1314.8,1598.14 L1316.77,1598.35 L1318.75,1598.57 L1320.73,1598.8 L1322.7,1599.05 L1324.68,1599.3 L1326.66,1599.57 L1328.63,1599.86 L1330.61,1600.15 L1332.58,1600.47 L1334.56,1600.8 L1336.54,1601.14 L1338.51,1601.51 L1340.49,1601.89 L1342.47,1602.29 L1344.44,1602.71 L1346.42,1603.16 L1348.39,1603.62 L1350.37,1604.12 L1352.35,1604.63 L1354.32,1605.18 L1356.3,1605.75 L1358.28,1606.35 L1360.25,1606.98 L1362.23,1607.64 L1364.2,1608.34 L1366.18,1609.07 L1368.16,1609.84 L1370.13,1610.65 L1372.11,1611.5 L1374.09,1612.39 L1376.06,1613.33 L1378.04,1614.32 L1380.01,1615.35 L1381.99,1616.44 L1383.97,1617.59 L1385.94,1618.79 L1387.92,1620.05 L1389.9,1621.38 L1391.87,1622.77 L1393.85,1624.24 L1395.82,1625.77 L1397.8,1627.39 L1399.78,1629.08 L1401.75,1630.85 L1403.73,1632.72 L1405.71,1634.67 L1407.68,1636.72 L1409.66,1638.87 L1411.63,1641.12 L1413.61,1643.47 L1415.59,1645.94 L1417.56,1648.53 L1419.54,1651.23 L1421.52,1654.06 L1423.49,1657.02 L1425.47,1660.11 L1427.45,1663.33 L1429.42,1666.7 L1431.4,1670.2 L1433.37,1673.86 L1435.35,1677.66 L1437.33,1681.62 L1439.3,1685.74 L1441.28,1690.01 L1443.26,1694.43 L1445.23,1699.02 L1447.21,1703.76 L1449.18,1708.67 L1451.16,1713.72 L1453.14,1718.93 L1455.11,1724.29 L1457.09,1729.79 L1459.07,1735.43 L1461.04,1741.21 L1463.02,1747.1 L1464.99,1753.11 L1466.97,1759.22 L1468.95,1765.42 L1470.92,1771.7 L1472.9,1778.05 L1474.88,1784.44 L1476.85,1790.87 L1478.83,1797.32 L1480.8,1803.77 L1482.78,1810.2 L1484.76,1816.6 L1486.73,1822.95 L1488.71,1829.23 L1490.69,1835.42 L1492.66,1841.52 L1494.64,1847.5 L1496.61,1853.35 L1498.59,1859.05 L1500.57,1864.61 L1502.54,1869.99 L1504.52,1875.2 L1506.5,1880.22 L1508.47,1885.05 L1510.45,1889.69 L1512.42,1894.13 L1514.4,1898.37 L1516.38,1902.41 L1518.35,1906.24 L1520.33,1909.88 L1522.31,1913.32 L1524.28,1916.56 L1526.26,1919.62 L1528.23,1922.49 L1530.21,1925.19 L1532.19,1927.71 L1534.16,1930.07 L1536.14,1932.27 L1538.12,1934.33 L1540.09,1936.23 L1542.07,1938.01 L1544.04,1939.65 L1546.02,1941.17 L1548,1942.58 L1549.97,1943.88 L1551.95,1945.09 L1553.93,1946.2 L1555.9,1947.22 L1557.88,1948.16 L1559.85,1949.02 L1561.83,1949.81 L1563.81,1950.54 L1565.78,1951.21 L1567.76,1951.82 L1569.74,1952.38 L1571.71,1952.89 L1573.69,1953.36 L1575.66,1953.79 L1577.64,1954.18 L1579.62,1954.54 L1581.59,1954.87 L1583.57,1955.17 L1585.55,1955.44" fill="none" stroke="#0B5AA2" stroke-width="3.75" stroke-linecap="round" stroke-linejoin="round"/>
<path d="M1269.34,1956.87 L1271.32,1956.8 L1273.3,1956.74 L1275.27,1956.66 L1277.25,1956.59 L1279.23,1956.51 L1281.2,1956.42 L1283.18,1956.33 L1285.15,1956.24 L1287.13,1956.14 L1289.11,1956.04 L1291.08,1955.93 L1293.06,1955.82 L1295.04,1955.7 L1297.01,1955.57 L1298.99,1955.44 L1300.96,1955.3 L1302.94,1955.16 L1304.92,1955.01 L1306.89,1954.84 L1308.87,1954.68 L1310.85,1954.5 L1312.82,1954.31 L1314.8,1954.12 L1316.77,1953.91 L1318.75,1953.7 L1320.73,1953.47 L1322.7,1953.24 L1324.68,1952.99 L1326.66,1952.73 L1328.63,1952.45 L1330.61,1952.17 L1332.58,1951.86 L1334.56,1951.55 L1336.54,1951.22 L1338.51,1950.87 L1340.49,1950.5 L1342.47,1950.12 L1344.44,1949.72 L1346.42,1949.29 L1348.39,1948.85 L1350.37,1948.39 L1352.35,1947.9 L1354.32,1947.39 L1356.3,1946.86 L1358.28,1946.3 L1360.25,1945.71 L1362.23,1945.1 L1364.2,1944.46 L1366.18,1943.79 L1368.16,1943.08 L1370.13,1942.35 L1372.11,1941.58 L1374.09,1940.77 L1376.06,1939.93 L1378.04,1939.05 L1380.01,1938.13 L1381.99,1937.17 L1383.97,1936.17 L1385.94,1935.12 L1387.92,1934.03 L1389.9,1932.89 L1391.87,1931.71 L1393.85,1930.47 L1395.82,1929.19 L1397.8,1927.85 L1399.78,1926.46 L1401.75,1925.01 L1403.73,1923.51 L1405.71,1921.95 L1407.68,1920.34 L1409.66,1918.67 L1411.63,1916.93 L1413.61,1915.14 L1415.59,1913.29 L1417.56,1911.38 L1419.54,1909.41 L1421.52,1907.39 L1423.49,1905.3 L1425.47,1903.16 L1427.45,1900.97 L1429.42,1898.72 L1431.4,1896.43 L1433.37,1894.08 L1435.35,1891.7 L1437.33,1889.28 L1439.3,1886.82 L1441.28,1884.34 L1443.26,1881.84 L1445.23,1879.32 L1447.21,1876.8 L1449.18,1874.27 L1451.16,1871.76 L1453.14,1869.27 L1455.11,1866.8 L1457.09,1864.38 L1459.07,1862 L1461.04,1859.69 L1463.02,1857.46 L1464.99,1855.31 L1466.97,1853.26 L1468.95,1851.32 L1470.92,1849.5 L1472.9,1847.81 L1474.88,1846.28 L1476.85,1844.89 L1478.83,1843.67 L1480.8,1842.63 L1482.78,1841.77 L1484.76,1841.09 L1486.73,1840.61 L1488.71,1840.32 L1490.69,1840.23 L1492.66,1840.34 L1494.64,1840.65 L1496.61,1841.16 L1498.59,1841.86 L1500.57,1842.74 L1502.54,1843.81 L1504.52,1845.04 L1506.5,1846.45 L1508.47,1848 L1510.45,1849.7 L1512.42,1851.53 L1514.4,1853.49 L1516.38,1855.55 L1518.35,1857.71 L1520.33,1859.96 L1522.31,1862.27 L1524.28,1864.65 L1526.26,1867.08 L1528.23,1869.55 L1530.21,1872.05 L1532.19,1874.56 L1534.16,1877.09 L1536.14,1879.61 L1538.12,1882.13 L1540.09,1884.63 L1542.07,1887.11 L1544.04,1889.56 L1546.02,1891.98 L1548,1894.36 L1549.97,1896.69 L1551.95,1898.98 L1553.93,1901.22 L1555.9,1903.41 L1557.88,1905.54 L1559.85,1907.62 L1561.83,1909.64 L1563.81,1911.6 L1565.78,1913.51 L1567.76,1915.35 L1569.74,1917.14 L1571.71,1918.86 L1573.69,1920.53 L1575.66,1922.14 L1577.64,1923.69 L1579.62,1925.18 L1581.59,1926.62 L1583.57,1928.01 L1585.55,1929.34" fill="none" stroke="#DE8C07" stroke-width="3.75" stroke-linecap="round" stroke-linejoin="round"/>
<path d="M1269.34,1958.15 L1271.32,1958.15 L1273.3,1958.15 L1275.27,1958.15 L1277.25,1958.15 L1279.23,1958.15 L1281.2,1958.15 L1283.18,1958.15 L1285.15,1958.15 L1287.13,1958.15 L1289.11,1958.15 L1291.08,1958.14 L1293.06,1958.14 L1295.04,1958.14 L1297.01,1958.14 L1298.99,1958.14 L1300.96,1958.13 L1302.94,1958.13 L1304.92,1958.13 L1306.89,1958.13 L1308.87,1958.12 L1310.85,1958.12 L1312.82,1958.11 L1314.8,1958.11 L1316.77,1958.1 L1318.75,1958.1 L1320.73,1958.09 L1322.7,1958.09 L1324.68,1958.08 L1326.66,1958.07 L1328.63,1958.06 L1330.61,1958.05 L1332.58,1958.04 L1334.56,1958.03 L1336.54,1958.01 L1338.51,1958 L1340.49,1957.98 L1342.47,1957.96 L1344.44,1957.94 L1346.42,1957.92 L1348.39,1957.89 L1350.37,1957.87 L1352.35,1957.83 L1354.32,1957.8 L1356.3,1957.76 L1358.28,1957.72 L1360.25,1957.68 L1362.23,1957.63 L1364.2,1957.57 L1366.18,1957.51 L1368.16,1957.45 L1370.13,1957.38 L1372.11,1957.29 L1374.09,1957.21 L1376.06,1957.11 L1378.04,1957 L1380.01,1956.88 L1381.99,1956.75 L1383.97,1956.61 L1385.94,1956.46 L1387.92,1956.28 L1389.9,1956.09 L1391.87,1955.89 L1393.85,1955.66 L1395.82,1955.41 L1397.8,1955.13 L1399.78,1954.83 L1401.75,1954.5 L1403.73,1954.14 L1405.71,1953.74 L1407.68,1953.31 L1409.66,1952.84 L1411.63,1952.32 L1413.61,1951.75 L1415.59,1951.13 L1417.56,1950.46 L1419.54,1949.72 L1421.52,1948.92 L1423.49,1948.05 L1425.47,1947.1 L1427.45,1946.07 L1429.42,1944.95 L1431.4,1943.74 L1433.37,1942.43 L1435.35,1941 L1437.33,1939.47 L1439.3,1937.81 L1441.28,1936.02 L1443.26,1934.1 L1445.23,1932.03 L1447.21,1929.81 L1449.18,1927.43 L1451.16,1924.89 L1453.14,1922.17 L1455.11,1919.28 L1457.09,1916.2 L1459.07,1912.93 L1461.04,1909.47 L1463.02,1905.81 L1464.99,1901.95 L1466.97,1897.89 L1468.95,1893.63 L1470.92,1889.17 L1472.9,1884.51 L1474.88,1879.65 L1476.85,1874.61 L1478.83,1869.38 L1480.8,1863.97 L1482.78,1858.4 L1484.76,1852.68 L1486.73,1846.82 L1488.71,1840.82 L1490.69,1834.71 L1492.66,1828.51 L1494.64,1822.22 L1496.61,1815.86 L1498.59,1809.46 L1500.57,1803.02 L1502.54,1796.57 L1504.52,1790.13 L1506.5,1783.7 L1508.47,1777.31 L1510.45,1770.97 L1512.42,1764.7 L1514.4,1758.51 L1516.38,1752.41 L1518.35,1746.41 L1520.33,1740.53 L1522.31,1734.78 L1524.28,1729.15 L1526.26,1723.67 L1528.23,1718.32 L1530.21,1713.13 L1532.19,1708.09 L1534.16,1703.21 L1536.14,1698.48 L1538.12,1693.92 L1540.09,1689.51 L1542.07,1685.25 L1544.04,1681.16 L1546.02,1677.22 L1548,1673.43 L1549.97,1669.79 L1551.95,1666.3 L1553.93,1662.95 L1555.9,1659.74 L1557.88,1656.67 L1559.85,1653.73 L1561.83,1650.91 L1563.81,1648.22 L1565.78,1645.65 L1567.76,1643.2 L1569.74,1640.85 L1571.71,1638.61 L1573.69,1636.48 L1575.66,1634.44 L1577.64,1632.5 L1579.62,1630.64 L1581.59,1628.88 L1583.57,1627.2 L1585.55,1625.59" fill="none" stroke="#128B5E" stroke-width="3.75" stroke-linecap="round" stroke-linejoin="round"/>
<path d="M187.93,2062.79 L189.91,2063.04 L191.89,2063.3 L193.86,2063.57 L195.84,2063.86 L197.82,2064.16 L199.79,2064.48 L201.77,2064.81 L203.74,2065.16 L205.72,2065.53 L207.7,2065.91 L209.67,2066.32 L211.65,2066.74 L213.63,2067.19 L215.6,2067.66 L217.58,2068.15 L219.55,2068.67 L221.53,2069.21 L223.51,2069.78 L225.48,2070.37 L227.46,2071 L229.44,2071.66 L231.41,2072.35 L233.39,2073.07 L235.36,2073.83 L237.34,2074.63 L239.32,2075.47 L241.29,2076.34 L243.27,2077.26 L245.25,2078.23 L247.22,2079.24 L249.2,2080.29 L251.17,2081.4 L253.15,2082.57 L255.13,2083.79 L257.1,2085.06 L259.08,2086.4 L261.06,2087.8 L263.03,2089.26 L265.01,2090.79 L266.98,2092.39 L268.96,2094.07 L270.94,2095.82 L272.91,2097.65 L274.89,2099.57 L276.87,2101.57 L278.84,2103.65 L280.82,2105.83 L282.79,2108.11 L284.77,2110.48 L286.75,2112.95 L288.72,2115.52 L290.7,2118.21 L292.68,2121 L294.65,2123.9 L296.63,2126.92 L298.6,2130.06 L300.58,2133.32 L302.56,2136.7 L304.53,2140.21 L306.51,2143.84 L308.49,2147.6 L310.46,2151.49 L312.44,2155.51 L314.41,2159.66 L316.39,2163.94 L318.37,2168.35 L320.34,2172.89 L322.32,2177.55 L324.3,2182.34 L326.27,2187.25 L328.25,2192.28 L330.22,2197.43 L332.2,2202.68 L334.18,2208.03 L336.15,2213.49 L338.13,2219.03 L340.11,2224.65 L342.08,2230.34 L344.06,2236.1 L346.04,2241.91 L348.01,2247.77 L349.99,2253.65 L351.96,2259.55 L353.94,2265.46 L355.92,2271.36 L357.89,2277.25 L359.87,2283.1 L361.85,2288.91 L363.82,2294.66 L365.8,2300.34 L367.77,2305.94 L369.75,2311.45 L371.73,2316.85 L373.7,2322.13 L375.68,2327.3 L377.66,2332.32 L379.63,2337.21 L381.61,2341.94 L383.58,2346.52 L385.56,2350.94 L387.54,2355.19 L389.51,2359.28 L391.49,2363.2 L393.47,2366.94 L395.44,2370.52 L397.42,2373.92 L399.39,2377.16 L401.37,2380.23 L403.35,2383.14 L405.32,2385.88 L407.3,2388.47 L409.28,2390.91 L411.25,2393.2 L413.23,2395.35 L415.2,2397.36 L417.18,2399.25 L419.16,2401 L421.13,2402.64 L423.11,2404.17 L425.09,2405.59 L427.06,2406.91 L429.04,2408.14 L431.01,2409.27 L432.99,2410.32 L434.97,2411.29 L436.94,2412.19 L438.92,2413.01 L440.9,2413.78 L442.87,2414.48 L444.85,2415.13 L446.82,2415.72 L448.8,2416.27 L450.78,2416.77 L452.75,2417.23 L454.73,2417.65 L456.71,2418.03 L458.68,2418.39 L460.66,2418.71 L462.63,2419.01 L464.61,2419.28 L466.59,2419.53 L468.56,2419.75 L470.54,2419.96 L472.52,2420.15 L474.49,2420.32 L476.47,2420.47 L478.44,2420.62 L480.42,2420.75 L482.4,2420.86 L484.37,2420.97 L486.35,2421.07 L488.33,2421.16 L490.3,2421.24 L492.28,2421.31 L494.25,2421.38 L496.23,2421.44 L498.21,2421.5 L500.18,2421.55 L502.16,2421.59 L504.14,2421.63" fill="none" stroke="#0B5AA2" stroke-width="3.75" stroke-linecap="round" stroke-linejoin="round"/>
<path d="M187.93,2417.21 L189.91,2416.97 L191.89,2416.71 L193.86,2416.44 L195.84,2416.16 L197.82,2415.87 L199.79,2415.55 L201.77,2415.23 L203.74,2414.89 L205.72,2414.53 L207.7,2414.15 L209.67,2413.76 L211.65,2413.34 L213.63,2412.91 L215.6,2412.45 L217.58,2411.97 L219.55,2411.47 L221.53,2410.95 L223.51,2410.4 L225.48,2409.82 L227.46,2409.22 L229.44,2408.59 L231.41,2407.93 L233.39,2407.23 L235.36,2406.51 L237.34,2405.75 L239.32,2404.95 L241.29,2404.12 L243.27,2403.26 L245.25,2402.35 L247.22,2401.4 L249.2,2400.41 L251.17,2399.37 L253.15,2398.29 L255.13,2397.16 L257.1,2395.99 L259.08,2394.76 L261.06,2393.48 L263.03,2392.15 L265.01,2390.76 L266.98,2389.32 L268.96,2387.81 L270.94,2386.25 L272.91,2384.63 L274.89,2382.94 L276.87,2381.19 L278.84,2379.38 L280.82,2377.5 L282.79,2375.55 L284.77,2373.53 L286.75,2371.45 L288.72,2369.3 L290.7,2367.08 L292.68,2364.79 L294.65,2362.44 L296.63,2360.02 L298.6,2357.53 L300.58,2354.98 L302.56,2352.37 L304.53,2349.7 L306.51,2346.97 L308.49,2344.19 L310.46,2341.36 L312.44,2338.48 L314.41,2335.56 L316.39,2332.61 L318.37,2329.63 L320.34,2326.63 L322.32,2323.62 L324.3,2320.6 L326.27,2317.58 L328.25,2314.58 L330.22,2311.6 L332.2,2308.65 L334.18,2305.75 L336.15,2302.9 L338.13,2300.12 L340.11,2297.42 L342.08,2294.81 L344.06,2292.3 L346.04,2289.91 L348.01,2287.65 L349.99,2285.53 L351.96,2283.56 L353.94,2281.76 L355.92,2280.13 L357.89,2278.68 L359.87,2277.42 L361.85,2276.36 L363.82,2275.51 L365.8,2274.86 L367.77,2274.44 L369.75,2274.23 L371.73,2274.24 L373.7,2274.47 L375.68,2274.92 L377.66,2275.58 L379.63,2276.45 L381.61,2277.53 L383.58,2278.81 L385.56,2280.28 L387.54,2281.93 L389.51,2283.75 L391.49,2285.73 L393.47,2287.87 L395.44,2290.14 L397.42,2292.54 L399.39,2295.06 L401.37,2297.68 L403.35,2300.39 L405.32,2303.17 L407.3,2306.03 L409.28,2308.94 L411.25,2311.89 L413.23,2314.87 L415.2,2317.87 L417.18,2320.89 L419.16,2323.91 L421.13,2326.92 L423.11,2329.92 L425.09,2332.9 L427.06,2335.85 L429.04,2338.76 L431.01,2341.63 L432.99,2344.46 L434.97,2347.23 L436.94,2349.96 L438.92,2352.62 L440.9,2355.23 L442.87,2357.78 L444.85,2360.26 L446.82,2362.67 L448.8,2365.02 L450.78,2367.3 L452.75,2369.51 L454.73,2371.66 L456.71,2373.73 L458.68,2375.74 L460.66,2377.68 L462.63,2379.55 L464.61,2381.36 L466.59,2383.11 L468.56,2384.79 L470.54,2386.4 L472.52,2387.96 L474.49,2389.46 L476.47,2390.9 L478.44,2392.28 L480.42,2393.61 L482.4,2394.88 L484.37,2396.1 L486.35,2397.27 L488.33,2398.4 L490.3,2399.47 L492.28,2400.51 L494.25,2401.49 L496.23,2402.44 L498.21,2403.34 L500.18,2404.21 L502.16,2405.03 L504.14,2405.82" fill="none" stroke="#DE8C07" stroke-width="3.75" stroke-linecap="round" stroke-linejoin="round"/>
<path d="M187.93,2422 L189.91,2422 L191.89,2422 L193.86,2421.99 L195.84,2421.99 L197.82,2421.98 L199.79,2421.98 L201.77,2421.97 L203.74,2421.96 L205.72,2421.95 L207.7,2421.95 L209.67,2421.94 L211.65,2421.93 L213.63,2421.91 L215.6,2421.9 L217.58,2421.89 L219.55,2421.87 L221.53,2421.85 L223.51,2421.83 L225.48,2421.81 L227.46,2421.79 L229.44,2421.76 L231.41,2421.73 L233.39,2421.7 L235.36,2421.67 L237.34,2421.63 L239.32,2421.59 L241.29,2421.54 L243.27,2421.49 L245.25,2421.44 L247.22,2421.37 L249.2,2421.31 L251.17,2421.23 L253.15,2421.15 L255.13,2421.06 L257.1,2420.96 L259.08,2420.85 L261.06,2420.73 L263.03,2420.6 L265.01,2420.46 L266.98,2420.3 L268.96,2420.13 L270.94,2419.94 L272.91,2419.73 L274.89,2419.5 L276.87,2419.25 L278.84,2418.98 L280.82,2418.68 L282.79,2418.36 L284.77,2418 L286.75,2417.61 L288.72,2417.18 L290.7,2416.72 L292.68,2416.21 L294.65,2415.66 L296.63,2415.07 L298.6,2414.41 L300.58,2413.71 L302.56,2412.94 L304.53,2412.1 L306.51,2411.2 L308.49,2410.22 L310.46,2409.16 L312.44,2408.02 L314.41,2406.79 L316.39,2405.46 L318.37,2404.03 L320.34,2402.49 L322.32,2400.84 L324.3,2399.07 L326.27,2397.17 L328.25,2395.15 L330.22,2392.98 L332.2,2390.68 L334.18,2388.23 L336.15,2385.62 L338.13,2382.86 L340.11,2379.94 L342.08,2376.86 L344.06,2373.6 L346.04,2370.18 L348.01,2366.59 L349.99,2362.83 L351.96,2358.89 L353.94,2354.79 L355.92,2350.52 L357.89,2346.09 L359.87,2341.49 L361.85,2336.74 L363.82,2331.84 L365.8,2326.8 L367.77,2321.63 L369.75,2316.33 L371.73,2310.92 L373.7,2305.4 L375.68,2299.8 L377.66,2294.11 L379.63,2288.35 L381.61,2282.54 L383.58,2276.68 L385.56,2270.79 L387.54,2264.89 L389.51,2258.98 L391.49,2253.08 L393.47,2247.2 L395.44,2241.35 L397.42,2235.54 L399.39,2229.79 L401.37,2224.1 L403.35,2218.49 L405.32,2212.95 L407.3,2207.51 L409.28,2202.17 L411.25,2196.92 L413.23,2191.79 L415.2,2186.77 L417.18,2181.87 L419.16,2177.1 L421.13,2172.44 L423.11,2167.92 L425.09,2163.52 L427.06,2159.25 L429.04,2155.12 L431.01,2151.11 L432.99,2147.23 L434.97,2143.48 L436.94,2139.86 L438.92,2136.37 L440.9,2133 L442.87,2129.75 L444.85,2126.63 L446.82,2123.62 L448.8,2120.73 L450.78,2117.94 L452.75,2115.27 L454.73,2112.71 L456.71,2110.24 L458.68,2107.88 L460.66,2105.62 L462.63,2103.45 L464.61,2101.37 L466.59,2099.38 L468.56,2097.47 L470.54,2095.65 L472.52,2093.9 L474.49,2092.24 L476.47,2090.64 L478.44,2089.11 L480.42,2087.66 L482.4,2086.26 L484.37,2084.94 L486.35,2083.67 L488.33,2082.45 L490.3,2081.3 L492.28,2080.19 L494.25,2079.14 L496.23,2078.13 L498.21,2077.17 L500.18,2076.26 L502.16,2075.38 L504.14,2074.55" fill="none" stroke="#128B5E" stroke-width="3.75" stroke-linecap="round" stroke-linejoin="round"/>
<path d="M548.4,2060.07 L550.38,2060.18 L552.36,2060.29 L554.33,2060.41 L556.31,2060.54 L558.29,2060.67 L560.26,2060.81 L562.24,2060.96 L564.21,2061.12 L566.19,2061.28 L568.17,2061.45 L570.14,2061.63 L572.12,2061.82 L574.1,2062.02 L576.07,2062.23 L578.05,2062.45 L580.02,2062.68 L582,2062.93 L583.98,2063.18 L585.95,2063.45 L587.93,2063.73 L589.91,2064.03 L591.88,2064.34 L593.86,2064.67 L595.83,2065.02 L597.81,2065.38 L599.79,2065.76 L601.76,2066.16 L603.74,2066.58 L605.72,2067.03 L607.69,2067.49 L609.67,2067.98 L611.64,2068.49 L613.62,2069.03 L615.6,2069.6 L617.57,2070.2 L619.55,2070.82 L621.53,2071.48 L623.5,2072.17 L625.48,2072.9 L627.45,2073.67 L629.43,2074.47 L631.41,2075.31 L633.38,2076.2 L635.36,2077.13 L637.34,2078.1 L639.31,2079.13 L641.29,2080.21 L643.26,2081.34 L645.24,2082.53 L647.22,2083.77 L649.19,2085.08 L651.17,2086.46 L653.15,2087.9 L655.12,2089.41 L657.1,2091 L659.07,2092.66 L661.05,2094.41 L663.03,2096.23 L665,2098.15 L666.98,2100.16 L668.96,2102.27 L670.93,2104.47 L672.91,2106.78 L674.88,2109.19 L676.86,2111.72 L678.84,2114.36 L680.81,2117.12 L682.79,2120 L684.77,2123.01 L686.74,2126.15 L688.72,2129.43 L690.69,2132.84 L692.67,2136.4 L694.65,2140.09 L696.62,2143.94 L698.6,2147.93 L700.58,2152.08 L702.55,2156.37 L704.53,2160.82 L706.5,2165.43 L708.48,2170.18 L710.46,2175.09 L712.43,2180.14 L714.41,2185.34 L716.39,2190.68 L718.36,2196.16 L720.34,2201.77 L722.32,2207.5 L724.29,2213.35 L726.27,2219.31 L728.24,2225.36 L730.22,2231.49 L732.2,2237.7 L734.17,2243.96 L736.15,2250.27 L738.13,2256.61 L740.1,2262.96 L742.08,2269.3 L744.05,2275.63 L746.03,2281.93 L748.01,2288.17 L749.98,2294.35 L751.96,2300.44 L753.94,2306.43 L755.91,2312.31 L757.89,2318.06 L759.86,2323.67 L761.84,2329.13 L763.82,2334.43 L765.79,2339.56 L767.77,2344.5 L769.75,2349.27 L771.72,2353.84 L773.7,2358.22 L775.67,2362.4 L777.65,2366.39 L779.63,2370.18 L781.6,2373.78 L783.58,2377.19 L785.56,2380.4 L787.53,2383.44 L789.51,2386.29 L791.48,2388.97 L793.46,2391.48 L795.44,2393.83 L797.41,2396.02 L799.39,2398.07 L801.37,2399.97 L803.34,2401.74 L805.32,2403.39 L807.29,2404.91 L809.27,2406.32 L811.25,2407.63 L813.22,2408.83 L815.2,2409.95 L817.18,2410.97 L819.15,2411.92 L821.13,2412.79 L823.1,2413.59 L825.08,2414.32 L827.06,2414.99 L829.03,2415.61 L831.01,2416.18 L832.99,2416.7 L834.96,2417.17 L836.94,2417.6 L838.91,2418 L840.89,2418.36 L842.87,2418.69 L844.84,2419 L846.82,2419.27 L848.8,2419.52 L850.77,2419.75 L852.75,2419.96 L854.72,2420.15 L856.7,2420.32 L858.68,2420.48 L860.65,2420.62 L862.63,2420.75 L864.61,2420.87" fill="none" stroke="#0B5AA2" stroke-width="3.75" stroke-linecap="round" stroke-linejoin="round"/>
<path d="M548.4,2419.91 L550.38,2419.81 L552.36,2419.69 L554.33,2419.57 L556.31,2419.45 L558.29,2419.32 L560.26,2419.18 L562.24,2419.03 L564.21,2418.88 L566.19,2418.72 L568.17,2418.55 L570.14,2418.37 L572.12,2418.19 L574.1,2417.99 L576.07,2417.79 L578.05,2417.57 L580.02,2417.35 L582,2417.11 L583.98,2416.86 L585.95,2416.6 L587.93,2416.32 L589.91,2416.04 L591.88,2415.73 L593.86,2415.42 L595.83,2415.08 L597.81,2414.73 L599.79,2414.37 L601.76,2413.98 L603.74,2413.58 L605.72,2413.16 L607.69,2412.71 L609.67,2412.25 L611.64,2411.76 L613.62,2411.25 L615.6,2410.72 L617.57,2410.16 L619.55,2409.57 L621.53,2408.96 L623.5,2408.31 L625.48,2407.64 L627.45,2406.93 L629.43,2406.2 L631.41,2405.42 L633.38,2404.62 L635.36,2403.77 L637.34,2402.89 L639.31,2401.97 L641.29,2401.01 L643.26,2400 L645.24,2398.95 L647.22,2397.86 L649.19,2396.71 L651.17,2395.52 L653.15,2394.28 L655.12,2392.99 L657.1,2391.65 L659.07,2390.25 L661.05,2388.8 L663.03,2387.29 L665,2385.72 L666.98,2384.1 L668.96,2382.42 L670.93,2380.67 L672.91,2378.87 L674.88,2377 L676.86,2375.07 L678.84,2373.08 L680.81,2371.04 L682.79,2368.93 L684.77,2366.76 L686.74,2364.54 L688.72,2362.26 L690.69,2359.93 L692.67,2357.55 L694.65,2355.12 L696.62,2352.64 L698.6,2350.13 L700.58,2347.59 L702.55,2345.02 L704.53,2342.43 L706.5,2339.82 L708.48,2337.21 L710.46,2334.59 L712.43,2331.99 L714.41,2329.41 L716.39,2326.86 L718.36,2324.35 L720.34,2321.89 L722.32,2319.49 L724.29,2317.18 L726.27,2314.94 L728.24,2312.81 L730.22,2310.79 L732.2,2308.9 L734.17,2307.14 L736.15,2305.53 L738.13,2304.07 L740.1,2302.79 L742.08,2301.67 L744.05,2300.75 L746.03,2300.01 L748.01,2299.47 L749.98,2299.13 L751.96,2298.99 L753.94,2299.06 L755.91,2299.33 L757.89,2299.8 L759.86,2300.46 L761.84,2301.32 L763.82,2302.37 L765.79,2303.6 L767.77,2304.99 L769.75,2306.55 L771.72,2308.26 L773.7,2310.11 L775.67,2312.08 L777.65,2314.18 L779.63,2316.37 L781.6,2318.66 L783.58,2321.03 L785.56,2323.47 L787.53,2325.96 L789.51,2328.5 L791.48,2331.07 L793.46,2333.67 L795.44,2336.28 L797.41,2338.89 L799.39,2341.5 L801.37,2344.1 L803.34,2346.68 L805.32,2349.24 L807.29,2351.76 L809.27,2354.24 L811.25,2356.69 L813.22,2359.09 L815.2,2361.44 L817.18,2363.74 L819.15,2365.98 L821.13,2368.17 L823.1,2370.3 L825.08,2372.37 L827.06,2374.37 L829.03,2376.32 L831.01,2378.21 L832.99,2380.04 L834.96,2381.8 L836.94,2383.51 L838.91,2385.15 L840.89,2386.74 L842.87,2388.27 L844.84,2389.74 L846.82,2391.16 L848.8,2392.52 L850.77,2393.83 L852.75,2395.09 L854.72,2396.3 L856.7,2397.46 L858.68,2398.57 L860.65,2399.63 L862.63,2400.65 L864.61,2401.63" fill="none" stroke="#DE8C07" stroke-width="3.75" stroke-linecap="round" stroke-linejoin="round"/>
<path d="M548.4,2422.03 L550.38,2422.03 L552.36,2422.02 L554.33,2422.02 L556.31,2422.02 L558.29,2422.02 L560.26,2422.02 L562.24,2422.02 L564.21,2422.01 L566.19,2422.01 L568.17,2422.01 L570.14,2422 L572.12,2422 L574.1,2422 L576.07,2421.99 L578.05,2421.99 L580.02,2421.98 L582,2421.97 L583.98,2421.97 L585.95,2421.96 L587.93,2421.95 L589.91,2421.94 L591.88,2421.93 L593.86,2421.92 L595.83,2421.91 L597.81,2421.9 L599.79,2421.88 L601.76,2421.86 L603.74,2421.85 L605.72,2421.83 L607.69,2421.8 L609.67,2421.78 L611.64,2421.75 L613.62,2421.72 L615.6,2421.69 L617.57,2421.65 L619.55,2421.61 L621.53,2421.57 L623.5,2421.52 L625.48,2421.47 L627.45,2421.41 L629.43,2421.35 L631.41,2421.28 L633.38,2421.2 L635.36,2421.11 L637.34,2421.02 L639.31,2420.91 L641.29,2420.8 L643.26,2420.67 L645.24,2420.53 L647.22,2420.38 L649.19,2420.21 L651.17,2420.03 L653.15,2419.83 L655.12,2419.61 L657.1,2419.36 L659.07,2419.1 L661.05,2418.8 L663.03,2418.48 L665,2418.13 L666.98,2417.75 L668.96,2417.33 L670.93,2416.87 L672.91,2416.37 L674.88,2415.82 L676.86,2415.22 L678.84,2414.57 L680.81,2413.85 L682.79,2413.08 L684.77,2412.24 L686.74,2411.32 L688.72,2410.32 L690.69,2409.24 L692.67,2408.07 L694.65,2406.8 L696.62,2405.43 L698.6,2403.94 L700.58,2402.34 L702.55,2400.62 L704.53,2398.76 L706.5,2396.76 L708.48,2394.62 L710.46,2392.33 L712.43,2389.88 L714.41,2387.26 L716.39,2384.47 L718.36,2381.5 L720.34,2378.35 L722.32,2375.01 L724.29,2371.48 L726.27,2367.76 L728.24,2363.84 L730.22,2359.73 L732.2,2355.42 L734.17,2350.91 L736.15,2346.21 L738.13,2341.33 L740.1,2336.27 L742.08,2331.03 L744.05,2325.63 L746.03,2320.07 L748.01,2314.37 L749.98,2308.53 L751.96,2302.58 L753.94,2296.52 L755.91,2290.37 L757.89,2284.15 L759.86,2277.87 L761.84,2271.55 L763.82,2265.21 L765.79,2258.86 L767.77,2252.51 L769.75,2246.19 L771.72,2239.91 L773.7,2233.68 L775.67,2227.52 L777.65,2221.44 L779.63,2215.45 L781.6,2209.57 L783.58,2203.79 L785.56,2198.14 L787.53,2192.61 L789.51,2187.22 L791.48,2181.97 L793.46,2176.86 L795.44,2171.9 L797.41,2167.1 L799.39,2162.44 L801.37,2157.94 L803.34,2153.58 L805.32,2149.39 L807.29,2145.34 L809.27,2141.44 L811.25,2137.69 L813.22,2134.09 L815.2,2130.62 L817.18,2127.3 L819.15,2124.11 L821.13,2121.05 L823.1,2118.13 L825.08,2115.32 L827.06,2112.64 L829.03,2110.07 L831.01,2107.62 L832.99,2105.28 L834.96,2103.04 L836.94,2100.9 L838.91,2098.85 L840.89,2096.9 L842.87,2095.04 L844.84,2093.27 L846.82,2091.58 L848.8,2089.96 L850.77,2088.43 L852.75,2086.96 L854.72,2085.56 L856.7,2084.23 L858.68,2082.96 L860.65,2081.75 L862.63,2080.6 L864.61,2079.51" fill="none" stroke="#128B5E" stroke-width="3.75" stroke-linecap="round" stroke-linejoin="round"/>
<path d="M908.87,2075.14 L910.85,2075.99 L912.83,2076.89 L914.8,2077.83 L916.78,2078.81 L918.76,2079.84 L920.73,2080.92 L922.71,2082.05 L924.68,2083.23 L926.66,2084.47 L928.64,2085.76 L930.61,2087.11 L932.59,2088.53 L934.57,2090.01 L936.54,2091.56 L938.52,2093.17 L940.49,2094.86 L942.47,2096.62 L944.45,2098.46 L946.42,2100.38 L948.4,2102.39 L950.38,2104.47 L952.35,2106.65 L954.33,2108.92 L956.3,2111.28 L958.28,2113.74 L960.26,2116.29 L962.23,2118.95 L964.21,2121.71 L966.19,2124.58 L968.16,2127.56 L970.14,2130.65 L972.11,2133.85 L974.09,2137.16 L976.07,2140.6 L978.04,2144.14 L980.02,2147.81 L982,2151.6 L983.97,2155.5 L985.95,2159.53 L987.92,2163.68 L989.9,2167.94 L991.88,2172.32 L993.85,2176.82 L995.83,2181.43 L997.81,2186.15 L999.78,2190.98 L1001.76,2195.91 L1003.73,2200.94 L1005.71,2206.07 L1007.69,2211.29 L1009.66,2216.58 L1011.64,2221.96 L1013.62,2227.4 L1015.59,2232.9 L1017.57,2238.45 L1019.54,2244.05 L1021.52,2249.68 L1023.5,2255.33 L1025.47,2261 L1027.45,2266.66 L1029.43,2272.32 L1031.4,2277.96 L1033.38,2283.57 L1035.35,2289.13 L1037.33,2294.65 L1039.31,2300.1 L1041.28,2305.47 L1043.26,2310.76 L1045.24,2315.96 L1047.21,2321.05 L1049.19,2326.03 L1051.16,2330.9 L1053.14,2335.63 L1055.12,2340.23 L1057.09,2344.69 L1059.07,2349.01 L1061.05,2353.18 L1063.02,2357.2 L1065,2361.06 L1066.98,2364.77 L1068.95,2368.32 L1070.93,2371.71 L1072.9,2374.95 L1074.88,2378.03 L1076.86,2380.96 L1078.83,2383.74 L1080.81,2386.37 L1082.79,2388.85 L1084.76,2391.2 L1086.74,2393.41 L1088.71,2395.49 L1090.69,2397.44 L1092.67,2399.28 L1094.64,2400.99 L1096.62,2402.59 L1098.6,2404.09 L1100.57,2405.48 L1102.55,2406.78 L1104.52,2407.99 L1106.5,2409.11 L1108.48,2410.15 L1110.45,2411.12 L1112.43,2412.01 L1114.41,2412.84 L1116.38,2413.6 L1118.36,2414.31 L1120.33,2414.96 L1122.31,2415.56 L1124.29,2416.11 L1126.26,2416.61 L1128.24,2417.08 L1130.22,2417.51 L1132.19,2417.9 L1134.17,2418.26 L1136.14,2418.59 L1138.12,2418.9 L1140.1,2419.17 L1142.07,2419.43 L1144.05,2419.66 L1146.03,2419.87 L1148,2420.07 L1149.98,2420.24 L1151.95,2420.4 L1153.93,2420.55 L1155.91,2420.69 L1157.88,2420.81 L1159.86,2420.92 L1161.84,2421.02 L1163.81,2421.12 L1165.79,2421.2 L1167.76,2421.28 L1169.74,2421.35 L1171.72,2421.41 L1173.69,2421.47 L1175.67,2421.52 L1177.65,2421.57 L1179.62,2421.61 L1181.6,2421.65 L1183.57,2421.69 L1185.55,2421.72 L1187.53,2421.75 L1189.5,2421.78 L1191.48,2421.8 L1193.46,2421.82 L1195.43,2421.84 L1197.41,2421.86 L1199.38,2421.88 L1201.36,2421.89 L1203.34,2421.91 L1205.31,2421.92 L1207.29,2421.93 L1209.27,2421.94 L1211.24,2421.95 L1213.22,2421.96 L1215.19,2421.97 L1217.17,2421.97 L1219.15,2421.98 L1221.12,2421.98 L1223.1,2421.99 L1225.08,2421.99" fill="none" stroke="#0B5AA2" stroke-width="3.75" stroke-linecap="round" stroke-linejoin="round"/>
<path d="M908.87,2405.14 L910.85,2404.32 L912.83,2403.46 L914.8,2402.56 L916.78,2401.62 L918.76,2400.64 L920.73,2399.61 L922.71,2398.54 L924.68,2397.42 L926.66,2396.26 L928.64,2395.04 L930.61,2393.77 L932.59,2392.44 L934.57,2391.06 L936.54,2389.63 L938.52,2388.13 L940.49,2386.58 L942.47,2384.96 L944.45,2383.28 L946.42,2381.53 L948.4,2379.72 L950.38,2377.84 L952.35,2375.9 L954.33,2373.88 L956.3,2371.79 L958.28,2369.63 L960.26,2367.4 L962.23,2365.1 L964.21,2362.73 L966.19,2360.28 L968.16,2357.76 L970.14,2355.18 L972.11,2352.52 L974.09,2349.8 L976.07,2347.01 L978.04,2344.16 L980.02,2341.24 L982,2338.27 L983.97,2335.25 L985.95,2332.18 L987.92,2329.06 L989.9,2325.91 L991.88,2322.72 L993.85,2319.51 L995.83,2316.28 L997.81,2313.04 L999.78,2309.8 L1001.76,2306.56 L1003.73,2303.34 L1005.71,2300.15 L1007.69,2297 L1009.66,2293.89 L1011.64,2290.84 L1013.62,2287.87 L1015.59,2284.98 L1017.57,2282.18 L1019.54,2279.49 L1021.52,2276.92 L1023.5,2274.48 L1025.47,2272.19 L1027.45,2270.05 L1029.43,2268.08 L1031.4,2266.28 L1033.38,2264.66 L1035.35,2263.25 L1037.33,2262.03 L1039.31,2261.02 L1041.28,2260.23 L1043.26,2259.65 L1045.24,2259.3 L1047.21,2259.17 L1049.19,2259.26 L1051.16,2259.58 L1053.14,2260.13 L1055.12,2260.89 L1057.09,2261.87 L1059.07,2263.05 L1061.05,2264.44 L1063.02,2266.03 L1065,2267.8 L1066.98,2269.75 L1068.95,2271.87 L1070.93,2274.14 L1072.9,2276.56 L1074.88,2279.11 L1076.86,2281.78 L1078.83,2284.56 L1080.81,2287.44 L1082.79,2290.4 L1084.76,2293.44 L1086.74,2296.54 L1088.71,2299.69 L1090.69,2302.88 L1092.67,2306.09 L1094.64,2309.32 L1096.62,2312.57 L1098.6,2315.81 L1100.57,2319.04 L1102.55,2322.26 L1104.52,2325.45 L1106.5,2328.6 L1108.48,2331.73 L1110.45,2334.8 L1112.43,2337.83 L1114.41,2340.81 L1116.38,2343.73 L1118.36,2346.59 L1120.33,2349.39 L1122.31,2352.13 L1124.29,2354.79 L1126.26,2357.39 L1128.24,2359.92 L1130.22,2362.37 L1132.19,2364.76 L1134.17,2367.07 L1136.14,2369.31 L1138.12,2371.48 L1140.1,2373.58 L1142.07,2375.6 L1144.05,2377.56 L1146.03,2379.45 L1148,2381.27 L1149.98,2383.03 L1151.95,2384.72 L1153.93,2386.34 L1155.91,2387.91 L1157.88,2389.41 L1159.86,2390.86 L1161.84,2392.24 L1163.81,2393.58 L1165.79,2394.85 L1167.76,2396.08 L1169.74,2397.26 L1171.72,2398.38 L1173.69,2399.46 L1175.67,2400.49 L1177.65,2401.48 L1179.62,2402.43 L1181.6,2403.33 L1183.57,2404.2 L1185.55,2405.03 L1187.53,2405.82 L1189.5,2406.57 L1191.48,2407.3 L1193.46,2407.99 L1195.43,2408.65 L1197.41,2409.28 L1199.38,2409.88 L1201.36,2410.45 L1203.34,2411 L1205.31,2411.52 L1207.29,2412.02 L1209.27,2412.5 L1211.24,2412.95 L1213.22,2413.38 L1215.19,2413.79 L1217.17,2414.19 L1219.15,2414.56 L1221.12,2414.92 L1223.1,2415.26 L1225.08,2415.58" fill="none" stroke="#DE8C07" stroke-width="3.75" stroke-linecap="round" stroke-linejoin="round"/>
<path d="M908.87,2421.73 L910.85,2421.69 L912.83,2421.66 L914.8,2421.62 L916.78,2421.58 L918.76,2421.53 L920.73,2421.48 L922.71,2421.42 L924.68,2421.36 L926.66,2421.29 L928.64,2421.21 L930.61,2421.13 L932.59,2421.04 L934.57,2420.94 L936.54,2420.83 L938.52,2420.7 L940.49,2420.57 L942.47,2420.43 L944.45,2420.27 L946.42,2420.09 L948.4,2419.9 L950.38,2419.69 L952.35,2419.46 L954.33,2419.21 L956.3,2418.94 L958.28,2418.64 L960.26,2418.31 L962.23,2417.96 L964.21,2417.57 L966.19,2417.15 L968.16,2416.68 L970.14,2416.18 L972.11,2415.64 L974.09,2415.05 L976.07,2414.41 L978.04,2413.71 L980.02,2412.95 L982,2412.14 L983.97,2411.25 L985.95,2410.3 L987.92,2409.27 L989.9,2408.16 L991.88,2406.96 L993.85,2405.68 L995.83,2404.3 L997.81,2402.82 L999.78,2401.23 L1001.76,2399.53 L1003.73,2397.72 L1005.71,2395.79 L1007.69,2393.73 L1009.66,2391.53 L1011.64,2389.21 L1013.62,2386.74 L1015.59,2384.13 L1017.57,2381.37 L1019.54,2378.47 L1021.52,2375.41 L1023.5,2372.19 L1025.47,2368.82 L1027.45,2365.3 L1029.43,2361.61 L1031.4,2357.77 L1033.38,2353.78 L1035.35,2349.63 L1037.33,2345.34 L1039.31,2340.89 L1041.28,2336.31 L1043.26,2331.6 L1045.24,2326.75 L1047.21,2321.79 L1049.19,2316.71 L1051.16,2311.53 L1053.14,2306.25 L1055.12,2300.89 L1057.09,2295.45 L1059.07,2289.94 L1061.05,2284.39 L1063.02,2278.78 L1065,2273.15 L1066.98,2267.49 L1068.95,2261.83 L1070.93,2256.16 L1072.9,2250.51 L1074.88,2244.87 L1076.86,2239.27 L1078.83,2233.71 L1080.81,2228.2 L1082.79,2222.75 L1084.76,2217.37 L1086.74,2212.06 L1088.71,2206.83 L1090.69,2201.69 L1092.67,2196.64 L1094.64,2191.7 L1096.62,2186.85 L1098.6,2182.11 L1100.57,2177.49 L1102.55,2172.97 L1104.52,2168.57 L1106.5,2164.29 L1108.48,2160.13 L1110.45,2156.09 L1112.43,2152.16 L1114.41,2148.36 L1116.38,2144.67 L1118.36,2141.11 L1120.33,2137.66 L1122.31,2134.33 L1124.29,2131.11 L1126.26,2128.01 L1128.24,2125.01 L1130.22,2122.13 L1132.19,2119.35 L1134.17,2116.68 L1136.14,2114.11 L1138.12,2111.63 L1140.1,2109.26 L1142.07,2106.98 L1144.05,2104.79 L1146.03,2102.69 L1148,2100.67 L1149.98,2098.74 L1151.95,2096.89 L1153.93,2095.11 L1155.91,2093.41 L1157.88,2091.79 L1159.86,2090.23 L1161.84,2088.74 L1163.81,2087.32 L1165.79,2085.95 L1167.76,2084.65 L1169.74,2083.41 L1171.72,2082.22 L1173.69,2081.08 L1175.67,2080 L1177.65,2078.96 L1179.62,2077.97 L1181.6,2077.02 L1183.57,2076.12 L1185.55,2075.26 L1187.53,2074.44 L1189.5,2073.66 L1191.48,2072.91 L1193.46,2072.2 L1195.43,2071.52 L1197.41,2070.87 L1199.38,2070.25 L1201.36,2069.66 L1203.34,2069.1 L1205.31,2068.57 L1207.29,2068.06 L1209.27,2067.57 L1211.24,2067.11 L1213.22,2066.67 L1215.19,2066.25 L1217.17,2065.85 L1219.15,2065.47 L1221.12,2065.1 L1223.1,2064.76 L1225.08,2064.43" fill="none" stroke="#128B5E" stroke-width="3.75" stroke-linecap="round" stroke-linejoin="round"/>
<path d="M1269.34,2065.86 L1271.32,2066.27 L1273.3,2066.69 L1275.27,2067.14 L1277.25,2067.6 L1279.23,2068.1 L1281.2,2068.61 L1283.18,2069.15 L1285.15,2069.72 L1287.13,2070.32 L1289.11,2070.95 L1291.08,2071.61 L1293.06,2072.3 L1295.04,2073.03 L1297.01,2073.79 L1298.99,2074.59 L1300.96,2075.43 L1302.94,2076.31 L1304.92,2077.24 L1306.89,2078.21 L1308.87,2079.23 L1310.85,2080.29 L1312.82,2081.41 L1314.8,2082.59 L1316.77,2083.82 L1318.75,2085.11 L1320.73,2086.46 L1322.7,2087.88 L1324.68,2089.37 L1326.66,2090.92 L1328.63,2092.55 L1330.61,2094.26 L1332.58,2096.05 L1334.56,2097.92 L1336.54,2099.87 L1338.51,2101.92 L1340.49,2104.06 L1342.47,2106.29 L1344.44,2108.63 L1346.42,2111.06 L1348.39,2113.61 L1350.37,2116.26 L1352.35,2119.03 L1354.32,2121.92 L1356.3,2124.92 L1358.28,2128.05 L1360.25,2131.31 L1362.23,2134.69 L1364.2,2138.21 L1366.18,2141.86 L1368.16,2145.65 L1370.13,2149.57 L1372.11,2153.63 L1374.09,2157.84 L1376.06,2162.18 L1378.04,2166.67 L1380.01,2171.29 L1381.99,2176.05 L1383.97,2180.95 L1385.94,2185.98 L1387.92,2191.13 L1389.9,2196.42 L1391.87,2201.82 L1393.85,2207.34 L1395.82,2212.96 L1397.8,2218.68 L1399.78,2224.49 L1401.75,2230.37 L1403.73,2236.33 L1405.71,2242.34 L1407.68,2248.4 L1409.66,2254.49 L1411.63,2260.6 L1413.61,2266.71 L1415.59,2272.82 L1417.56,2278.9 L1419.54,2284.94 L1421.52,2290.93 L1423.49,2296.85 L1425.47,2302.69 L1427.45,2308.43 L1429.42,2314.07 L1431.4,2319.59 L1433.37,2324.98 L1435.35,2330.22 L1437.33,2335.32 L1439.3,2340.26 L1441.28,2345.03 L1443.26,2349.63 L1445.23,2354.06 L1447.21,2358.31 L1449.18,2362.37 L1451.16,2366.25 L1453.14,2369.95 L1455.11,2373.47 L1457.09,2376.81 L1459.07,2379.97 L1461.04,2382.96 L1463.02,2385.77 L1464.99,2388.43 L1466.97,2390.92 L1468.95,2393.25 L1470.92,2395.44 L1472.9,2397.49 L1474.88,2399.4 L1476.85,2401.18 L1478.83,2402.83 L1480.8,2404.37 L1482.78,2405.8 L1484.76,2407.13 L1486.73,2408.35 L1488.71,2409.49 L1490.69,2410.53 L1492.66,2411.5 L1494.64,2412.39 L1496.61,2413.21 L1498.59,2413.97 L1500.57,2414.66 L1502.54,2415.3 L1504.52,2415.89 L1506.5,2416.42 L1508.47,2416.92 L1510.45,2417.37 L1512.42,2417.78 L1514.4,2418.16 L1516.38,2418.51 L1518.35,2418.82 L1520.33,2419.11 L1522.31,2419.37 L1524.28,2419.61 L1526.26,2419.83 L1528.23,2420.03 L1530.21,2420.22 L1532.19,2420.38 L1534.16,2420.53 L1536.14,2420.67 L1538.12,2420.8 L1540.09,2420.91 L1542.07,2421.02 L1544.04,2421.11 L1546.02,2421.2 L1548,2421.27 L1549.97,2421.34 L1551.95,2421.41 L1553.93,2421.47 L1555.9,2421.52 L1557.88,2421.57 L1559.85,2421.61 L1561.83,2421.65 L1563.81,2421.69 L1565.78,2421.72 L1567.76,2421.75 L1569.74,2421.78 L1571.71,2421.8 L1573.69,2421.82 L1575.66,2421.84 L1577.64,2421.86 L1579.62,2421.88 L1581.59,2421.89 L1583.57,2421.91 L1585.55,2421.92" fill="none" stroke="#0B5AA2" stroke-width="3.75" stroke-linecap="round" stroke-linejoin="round"/>
<path d="M1269.34,2414.23 L1271.32,2413.84 L1273.3,2413.43 L1275.27,2413 L1277.25,2412.54 L1279.23,2412.07 L1281.2,2411.58 L1283.18,2411.06 L1285.15,2410.51 L1287.13,2409.94 L1289.11,2409.34 L1291.08,2408.72 L1293.06,2408.06 L1295.04,2407.38 L1297.01,2406.66 L1298.99,2405.91 L1300.96,2405.12 L1302.94,2404.3 L1304.92,2403.44 L1306.89,2402.54 L1308.87,2401.6 L1310.85,2400.62 L1312.82,2399.6 L1314.8,2398.53 L1316.77,2397.41 L1318.75,2396.25 L1320.73,2395.03 L1322.7,2393.77 L1324.68,2392.45 L1326.66,2391.08 L1328.63,2389.65 L1330.61,2388.17 L1332.58,2386.63 L1334.56,2385.02 L1336.54,2383.36 L1338.51,2381.64 L1340.49,2379.85 L1342.47,2378 L1344.44,2376.08 L1346.42,2374.1 L1348.39,2372.05 L1350.37,2369.94 L1352.35,2367.77 L1354.32,2365.53 L1356.3,2363.23 L1358.28,2360.86 L1360.25,2358.44 L1362.23,2355.96 L1364.2,2353.42 L1366.18,2350.83 L1368.16,2348.19 L1370.13,2345.5 L1372.11,2342.78 L1374.09,2340.02 L1376.06,2337.23 L1378.04,2334.42 L1380.01,2331.6 L1381.99,2328.77 L1383.97,2325.94 L1385.94,2323.12 L1387.92,2320.32 L1389.9,2317.55 L1391.87,2314.82 L1393.85,2312.15 L1395.82,2309.54 L1397.8,2307.01 L1399.78,2304.56 L1401.75,2302.22 L1403.73,2299.99 L1405.71,2297.89 L1407.68,2295.92 L1409.66,2294.11 L1411.63,2292.45 L1413.61,2290.97 L1415.59,2289.66 L1417.56,2288.54 L1419.54,2287.62 L1421.52,2286.9 L1423.49,2286.39 L1425.47,2286.09 L1427.45,2286 L1429.42,2286.12 L1431.4,2286.45 L1433.37,2287 L1435.35,2287.75 L1437.33,2288.7 L1439.3,2289.84 L1441.28,2291.18 L1443.26,2292.69 L1445.23,2294.37 L1447.21,2296.21 L1449.18,2298.19 L1451.16,2300.32 L1453.14,2302.56 L1455.11,2304.92 L1457.09,2307.38 L1459.07,2309.92 L1461.04,2312.54 L1463.02,2315.23 L1464.99,2317.96 L1466.97,2320.73 L1468.95,2323.54 L1470.92,2326.36 L1472.9,2329.19 L1474.88,2332.02 L1476.85,2334.84 L1478.83,2337.65 L1480.8,2340.43 L1482.78,2343.19 L1484.76,2345.91 L1486.73,2348.58 L1488.71,2351.22 L1490.69,2353.8 L1492.66,2356.33 L1494.64,2358.8 L1496.61,2361.22 L1498.59,2363.57 L1500.57,2365.87 L1502.54,2368.1 L1504.52,2370.26 L1506.5,2372.36 L1508.47,2374.4 L1510.45,2376.37 L1512.42,2378.28 L1514.4,2380.12 L1516.38,2381.9 L1518.35,2383.61 L1520.33,2385.27 L1522.31,2386.86 L1524.28,2388.39 L1526.26,2389.87 L1528.23,2391.29 L1530.21,2392.65 L1532.19,2393.96 L1534.16,2395.22 L1536.14,2396.42 L1538.12,2397.58 L1540.09,2398.69 L1542.07,2399.75 L1544.04,2400.77 L1546.02,2401.74 L1548,2402.68 L1549.97,2403.57 L1551.95,2404.42 L1553.93,2405.24 L1555.9,2406.02 L1557.88,2406.77 L1559.85,2407.48 L1561.83,2408.16 L1563.81,2408.81 L1565.78,2409.43 L1567.76,2410.03 L1569.74,2410.59 L1571.71,2411.13 L1573.69,2411.65 L1575.66,2412.14 L1577.64,2412.61 L1579.62,2413.06 L1581.59,2413.49 L1583.57,2413.9 L1585.55,2414.28" fill="none" stroke="#DE8C07" stroke-width="3.75" stroke-linecap="round" stroke-linejoin="round"/>
<path d="M1269.34,2421.92 L1271.32,2421.91 L1273.3,2421.89 L1275.27,2421.88 L1277.25,2421.86 L1279.23,2421.84 L1281.2,2421.82 L1283.18,2421.8 L1285.15,2421.77 L1287.13,2421.75 L1289.11,2421.72 L1291.08,2421.68 L1293.06,2421.65 L1295.04,2421.61 L1297.01,2421.56 L1298.99,2421.51 L1300.96,2421.46 L1302.94,2421.4 L1304.92,2421.33 L1306.89,2421.26 L1308.87,2421.18 L1310.85,2421.1 L1312.82,2421 L1314.8,2420.89 L1316.77,2420.78 L1318.75,2420.65 L1320.73,2420.51 L1322.7,2420.36 L1324.68,2420.19 L1326.66,2420.01 L1328.63,2419.8 L1330.61,2419.58 L1332.58,2419.34 L1334.56,2419.07 L1336.54,2418.78 L1338.51,2418.46 L1340.49,2418.11 L1342.47,2417.72 L1344.44,2417.3 L1346.42,2416.85 L1348.39,2416.35 L1350.37,2415.8 L1352.35,2415.21 L1354.32,2414.56 L1356.3,2413.86 L1358.28,2413.1 L1360.25,2412.26 L1362.23,2411.36 L1364.2,2410.38 L1366.18,2409.32 L1368.16,2408.18 L1370.13,2406.93 L1372.11,2405.6 L1374.09,2404.15 L1376.06,2402.59 L1378.04,2400.92 L1380.01,2399.12 L1381.99,2397.19 L1383.97,2395.13 L1385.94,2392.92 L1387.92,2390.56 L1389.9,2388.04 L1391.87,2385.36 L1393.85,2382.52 L1395.82,2379.51 L1397.8,2376.32 L1399.78,2372.96 L1401.75,2369.41 L1403.73,2365.69 L1405.71,2361.78 L1407.68,2357.68 L1409.66,2353.41 L1411.63,2348.96 L1413.61,2344.33 L1415.59,2339.53 L1417.56,2334.57 L1419.54,2329.45 L1421.52,2324.18 L1423.49,2318.77 L1425.47,2313.24 L1427.45,2307.58 L1429.42,2301.82 L1431.4,2295.97 L1433.37,2290.04 L1435.35,2284.04 L1437.33,2277.99 L1439.3,2271.91 L1441.28,2265.8 L1443.26,2259.69 L1445.23,2253.58 L1447.21,2247.5 L1449.18,2241.44 L1451.16,2235.44 L1453.14,2229.49 L1455.11,2223.62 L1457.09,2217.82 L1459.07,2212.11 L1461.04,2206.51 L1463.02,2201.01 L1464.99,2195.62 L1466.97,2190.36 L1468.95,2185.22 L1470.92,2180.21 L1472.9,2175.33 L1474.88,2170.59 L1476.85,2165.99 L1478.83,2161.52 L1480.8,2157.2 L1482.78,2153.02 L1484.76,2148.98 L1486.73,2145.07 L1488.71,2141.31 L1490.69,2137.68 L1492.66,2134.18 L1494.64,2130.81 L1496.61,2127.58 L1498.59,2124.47 L1500.57,2121.48 L1502.54,2118.61 L1504.52,2115.86 L1506.5,2113.22 L1508.47,2110.69 L1510.45,2108.27 L1512.42,2105.95 L1514.4,2103.73 L1516.38,2101.61 L1518.35,2099.58 L1520.33,2097.63 L1522.31,2095.78 L1524.28,2094 L1526.26,2092.31 L1528.23,2090.69 L1530.21,2089.14 L1532.19,2087.67 L1534.16,2086.26 L1536.14,2084.91 L1538.12,2083.63 L1540.09,2082.41 L1542.07,2081.24 L1544.04,2080.13 L1546.02,2079.07 L1548,2078.06 L1549.97,2077.1 L1551.95,2076.18 L1553.93,2075.3 L1555.9,2074.47 L1557.88,2073.67 L1559.85,2072.92 L1561.83,2072.19 L1563.81,2071.51 L1565.78,2070.85 L1567.76,2070.23 L1569.74,2069.64 L1571.71,2069.07 L1573.69,2068.53 L1575.66,2068.02 L1577.64,2067.53 L1579.62,2067.07 L1581.59,2066.63 L1583.57,2066.21 L1585.55,2065.8" fill="none" stroke="#128B5E" stroke-width="3.75" stroke-linecap="round" stroke-linejoin="round"/>
<path d="M187.93,2531.93 L189.91,2532.44 L191.89,2532.98 L193.86,2533.55 L195.84,2534.14 L197.82,2534.77 L199.79,2535.43 L201.77,2536.11 L203.74,2536.84 L205.72,2537.6 L207.7,2538.39 L209.67,2539.23 L211.65,2540.11 L213.63,2541.03 L215.6,2542 L217.58,2543.01 L219.55,2544.08 L221.53,2545.19 L223.51,2546.36 L225.48,2547.59 L227.46,2548.87 L229.44,2550.22 L231.41,2551.64 L233.39,2553.12 L235.36,2554.67 L237.34,2556.29 L239.32,2557.99 L241.29,2559.77 L243.27,2561.64 L245.25,2563.59 L247.22,2565.62 L249.2,2567.76 L251.17,2569.98 L253.15,2572.31 L255.13,2574.74 L257.1,2577.28 L259.08,2579.93 L261.06,2582.69 L263.03,2585.57 L265.01,2588.57 L266.98,2591.69 L268.96,2594.94 L270.94,2598.32 L272.91,2601.83 L274.89,2605.47 L276.87,2609.25 L278.84,2613.17 L280.82,2617.23 L282.79,2621.43 L284.77,2625.77 L286.75,2630.25 L288.72,2634.87 L290.7,2639.63 L292.68,2644.52 L294.65,2649.55 L296.63,2654.7 L298.6,2659.99 L300.58,2665.39 L302.56,2670.91 L304.53,2676.53 L306.51,2682.25 L308.49,2688.06 L310.46,2693.95 L312.44,2699.91 L314.41,2705.93 L316.39,2712 L318.37,2718.09 L320.34,2724.21 L322.32,2730.33 L324.3,2736.44 L326.27,2742.53 L328.25,2748.58 L330.22,2754.58 L332.2,2760.51 L334.18,2766.36 L336.15,2772.11 L338.13,2777.76 L340.11,2783.29 L342.08,2788.69 L344.06,2793.95 L346.04,2799.05 L348.01,2804 L349.99,2808.79 L351.96,2813.4 L353.94,2817.83 L355.92,2822.09 L357.89,2826.16 L359.87,2830.05 L361.85,2833.76 L363.82,2837.28 L365.8,2840.63 L367.77,2843.79 L369.75,2846.79 L371.73,2849.61 L373.7,2852.27 L375.68,2854.76 L377.66,2857.1 L379.63,2859.29 L381.61,2861.34 L383.58,2863.26 L385.56,2865.04 L387.54,2866.7 L389.51,2868.24 L391.49,2869.67 L393.47,2870.99 L395.44,2872.22 L397.42,2873.36 L399.39,2874.41 L401.37,2875.37 L403.35,2876.27 L405.32,2877.09 L407.3,2877.84 L409.28,2878.54 L411.25,2879.18 L413.23,2879.76 L415.2,2880.3 L417.18,2880.8 L419.16,2881.25 L421.13,2881.66 L423.11,2882.04 L425.09,2882.39 L427.06,2882.7 L429.04,2882.99 L431.01,2883.25 L432.99,2883.49 L434.97,2883.71 L436.94,2883.91 L438.92,2884.1 L440.9,2884.26 L442.87,2884.41 L444.85,2884.55 L446.82,2884.68 L448.8,2884.79 L450.78,2884.9 L452.75,2884.99 L454.73,2885.08 L456.71,2885.15 L458.68,2885.22 L460.66,2885.29 L462.63,2885.35 L464.61,2885.4 L466.59,2885.45 L468.56,2885.49 L470.54,2885.53 L472.52,2885.57 L474.49,2885.6 L476.47,2885.63 L478.44,2885.66 L480.42,2885.68 L482.4,2885.7 L484.37,2885.72 L486.35,2885.74 L488.33,2885.76 L490.3,2885.77 L492.28,2885.79 L494.25,2885.8 L496.23,2885.81 L498.21,2885.82 L500.18,2885.83 L502.16,2885.84 L504.14,2885.85" fill="none" stroke="#0B5AA2" stroke-width="3.75" stroke-linecap="round" stroke-linejoin="round"/>
<path d="M187.93,2876 L189.91,2875.51 L191.89,2874.99 L193.86,2874.45 L195.84,2873.88 L197.82,2873.28 L199.79,2872.66 L201.77,2872.01 L203.74,2871.33 L205.72,2870.61 L207.7,2869.86 L209.67,2869.08 L211.65,2868.26 L213.63,2867.41 L215.6,2866.51 L217.58,2865.58 L219.55,2864.6 L221.53,2863.58 L223.51,2862.51 L225.48,2861.4 L227.46,2860.24 L229.44,2859.04 L231.41,2857.78 L233.39,2856.46 L235.36,2855.1 L237.34,2853.68 L239.32,2852.2 L241.29,2850.66 L243.27,2849.07 L245.25,2847.41 L247.22,2845.69 L249.2,2843.91 L251.17,2842.07 L253.15,2840.16 L255.13,2838.18 L257.1,2836.15 L259.08,2834.04 L261.06,2831.88 L263.03,2829.64 L265.01,2827.35 L266.98,2824.99 L268.96,2822.58 L270.94,2820.1 L272.91,2817.57 L274.89,2814.99 L276.87,2812.36 L278.84,2809.68 L280.82,2806.97 L282.79,2804.21 L284.77,2801.43 L286.75,2798.63 L288.72,2795.81 L290.7,2792.99 L292.68,2790.17 L294.65,2787.35 L296.63,2784.56 L298.6,2781.8 L300.58,2779.08 L302.56,2776.41 L304.53,2773.81 L306.51,2771.28 L308.49,2768.84 L310.46,2766.5 L312.44,2764.28 L314.41,2762.18 L316.39,2760.22 L318.37,2758.4 L320.34,2756.75 L322.32,2755.27 L324.3,2753.96 L326.27,2752.85 L328.25,2751.93 L330.22,2751.21 L332.2,2750.7 L334.18,2750.4 L336.15,2750.31 L338.13,2750.43 L340.11,2750.77 L342.08,2751.31 L344.06,2752.06 L346.04,2753.01 L348.01,2754.16 L349.99,2755.49 L351.96,2757 L353.94,2758.68 L355.92,2760.51 L357.89,2762.5 L359.87,2764.62 L361.85,2766.86 L363.82,2769.21 L365.8,2771.67 L367.77,2774.21 L369.75,2776.82 L371.73,2779.5 L373.7,2782.23 L375.68,2784.99 L377.66,2787.79 L379.63,2790.61 L381.61,2793.43 L383.58,2796.25 L385.56,2799.07 L387.54,2801.87 L389.51,2804.64 L391.49,2807.39 L393.47,2810.1 L395.44,2812.77 L397.42,2815.39 L399.39,2817.97 L401.37,2820.49 L403.35,2822.96 L405.32,2825.36 L407.3,2827.71 L409.28,2830 L411.25,2832.22 L413.23,2834.37 L415.2,2836.47 L417.18,2838.5 L419.16,2840.46 L421.13,2842.36 L423.11,2844.19 L425.09,2845.96 L427.06,2847.67 L429.04,2849.32 L431.01,2850.91 L432.99,2852.43 L434.97,2853.9 L436.94,2855.31 L438.92,2856.67 L440.9,2857.98 L442.87,2859.23 L444.85,2860.43 L446.82,2861.58 L448.8,2862.68 L450.78,2863.74 L452.75,2864.75 L454.73,2865.72 L456.71,2866.65 L458.68,2867.54 L460.66,2868.39 L462.63,2869.2 L464.61,2869.98 L466.59,2870.72 L468.56,2871.43 L470.54,2872.11 L472.52,2872.76 L474.49,2873.38 L476.47,2873.97 L478.44,2874.53 L480.42,2875.07 L482.4,2875.58 L484.37,2876.07 L486.35,2876.54 L488.33,2876.99 L490.3,2877.41 L492.28,2877.82 L494.25,2878.2 L496.23,2878.57 L498.21,2878.92 L500.18,2879.26 L502.16,2879.58 L504.14,2879.88" fill="none" stroke="#DE8C07" stroke-width="3.75" stroke-linecap="round" stroke-linejoin="round"/>
<path d="M187.93,2885.72 L189.91,2885.7 L191.89,2885.68 L193.86,2885.65 L195.84,2885.63 L197.82,2885.6 L199.79,2885.56 L201.77,2885.53 L203.74,2885.49 L205.72,2885.44 L207.7,2885.39 L209.67,2885.34 L211.65,2885.28 L213.63,2885.21 L215.6,2885.14 L217.58,2885.06 L219.55,2884.98 L221.53,2884.88 L223.51,2884.77 L225.48,2884.66 L227.46,2884.53 L229.44,2884.39 L231.41,2884.24 L233.39,2884.07 L235.36,2883.88 L237.34,2883.68 L239.32,2883.46 L241.29,2883.21 L243.27,2882.95 L245.25,2882.65 L247.22,2882.33 L249.2,2881.98 L251.17,2881.6 L253.15,2881.18 L255.13,2880.72 L257.1,2880.22 L259.08,2879.68 L261.06,2879.08 L263.03,2878.44 L265.01,2877.73 L266.98,2876.96 L268.96,2876.13 L270.94,2875.23 L272.91,2874.25 L274.89,2873.19 L276.87,2872.04 L278.84,2870.79 L280.82,2869.45 L282.79,2868.01 L284.77,2866.45 L286.75,2864.77 L288.72,2862.97 L290.7,2861.03 L292.68,2858.96 L294.65,2856.75 L296.63,2854.38 L298.6,2851.86 L300.58,2849.18 L302.56,2846.33 L304.53,2843.31 L306.51,2840.12 L308.49,2836.75 L310.46,2833.19 L312.44,2829.46 L314.41,2825.54 L316.39,2821.44 L318.37,2817.15 L320.34,2812.69 L322.32,2808.05 L324.3,2803.24 L326.27,2798.27 L328.25,2793.14 L330.22,2787.86 L332.2,2782.44 L334.18,2776.89 L336.15,2771.23 L338.13,2765.46 L340.11,2759.59 L342.08,2753.65 L344.06,2747.64 L346.04,2741.58 L348.01,2735.49 L349.99,2729.38 L351.96,2723.26 L353.94,2717.14 L355.92,2711.05 L357.89,2704.99 L359.87,2698.98 L361.85,2693.03 L363.82,2687.15 L365.8,2681.35 L367.77,2675.65 L369.75,2670.04 L371.73,2664.54 L373.7,2659.16 L375.68,2653.89 L377.66,2648.76 L379.63,2643.75 L381.61,2638.88 L383.58,2634.14 L385.56,2629.54 L387.54,2625.08 L389.51,2620.77 L391.49,2616.59 L393.47,2612.55 L395.44,2608.66 L397.42,2604.9 L399.39,2601.27 L401.37,2597.78 L403.35,2594.43 L405.32,2591.2 L407.3,2588.09 L409.28,2585.11 L411.25,2582.25 L413.23,2579.51 L415.2,2576.88 L417.18,2574.36 L419.16,2571.94 L421.13,2569.63 L423.11,2567.42 L425.09,2565.3 L427.06,2563.28 L429.04,2561.34 L431.01,2559.49 L432.99,2557.72 L434.97,2556.03 L436.94,2554.42 L438.92,2552.88 L440.9,2551.41 L442.87,2550.01 L444.85,2548.67 L446.82,2547.39 L448.8,2546.18 L450.78,2545.01 L452.75,2543.91 L454.73,2542.85 L456.71,2541.84 L458.68,2540.88 L460.66,2539.97 L462.63,2539.1 L464.61,2538.27 L466.59,2537.48 L468.56,2536.72 L470.54,2536.01 L472.52,2535.32 L474.49,2534.67 L476.47,2534.05 L478.44,2533.46 L480.42,2532.9 L482.4,2532.36 L484.37,2531.85 L486.35,2531.37 L488.33,2530.9 L490.3,2530.46 L492.28,2530.04 L494.25,2529.64 L496.23,2529.27 L498.21,2528.9 L500.18,2528.56 L502.16,2528.23 L504.14,2527.92" fill="none" stroke="#128B5E" stroke-width="3.75" stroke-linecap="round" stroke-linejoin="round"/>
<path d="M548.4,2532.94 L550.38,2533.5 L552.36,2534.09 L554.33,2534.71 L556.31,2535.35 L558.29,2536.03 L560.26,2536.75 L562.24,2537.5 L564.21,2538.28 L566.19,2539.1 L568.17,2539.97 L570.14,2540.87 L572.12,2541.82 L574.1,2542.82 L576.07,2543.86 L578.05,2544.95 L580.02,2546.09 L582,2547.29 L583.98,2548.55 L585.95,2549.86 L587.93,2551.23 L589.91,2552.67 L591.88,2554.18 L593.86,2555.75 L595.83,2557.4 L597.81,2559.12 L599.79,2560.92 L601.76,2562.8 L603.74,2564.76 L605.72,2566.81 L607.69,2568.95 L609.67,2571.18 L611.64,2573.5 L613.62,2575.93 L615.6,2578.45 L617.57,2581.08 L619.55,2583.82 L621.53,2586.67 L623.5,2589.63 L625.48,2592.7 L627.45,2595.89 L629.43,2599.2 L631.41,2602.63 L633.38,2606.19 L635.36,2609.87 L637.34,2613.68 L639.31,2617.61 L641.29,2621.68 L643.26,2625.87 L645.24,2630.18 L647.22,2634.63 L649.19,2639.19 L651.17,2643.89 L653.15,2648.7 L655.12,2653.63 L657.1,2658.67 L659.07,2663.82 L661.05,2669.08 L663.03,2674.43 L665,2679.87 L666.98,2685.4 L668.96,2691 L670.93,2696.67 L672.91,2702.39 L674.88,2708.17 L676.86,2713.98 L678.84,2719.81 L680.81,2725.66 L682.79,2731.51 L684.77,2737.35 L686.74,2743.17 L688.72,2748.95 L690.69,2754.68 L692.67,2760.36 L694.65,2765.96 L696.62,2771.48 L698.6,2776.9 L700.58,2782.22 L702.55,2787.42 L704.53,2792.5 L706.5,2797.44 L708.48,2802.25 L710.46,2806.9 L712.43,2811.41 L714.41,2815.75 L716.39,2819.94 L718.36,2823.95 L720.34,2827.81 L722.32,2831.49 L724.29,2835.01 L726.27,2838.36 L728.24,2841.54 L730.22,2844.56 L732.2,2847.42 L734.17,2850.13 L736.15,2852.68 L738.13,2855.08 L740.1,2857.34 L742.08,2859.46 L744.05,2861.45 L746.03,2863.31 L748.01,2865.04 L749.98,2866.66 L751.96,2868.17 L753.94,2869.58 L755.91,2870.89 L757.89,2872.1 L759.86,2873.22 L761.84,2874.26 L763.82,2875.22 L765.79,2876.11 L767.77,2876.93 L769.75,2877.69 L771.72,2878.39 L773.7,2879.03 L775.67,2879.62 L777.65,2880.16 L779.63,2880.66 L781.6,2881.12 L783.58,2881.54 L785.56,2881.92 L787.53,2882.27 L789.51,2882.6 L791.48,2882.89 L793.46,2883.16 L795.44,2883.41 L797.41,2883.63 L799.39,2883.84 L801.37,2884.03 L803.34,2884.2 L805.32,2884.35 L807.29,2884.49 L809.27,2884.62 L811.25,2884.74 L813.22,2884.85 L815.2,2884.95 L817.18,2885.04 L819.15,2885.12 L821.13,2885.19 L823.1,2885.26 L825.08,2885.32 L827.06,2885.38 L829.03,2885.43 L831.01,2885.47 L832.99,2885.51 L834.96,2885.55 L836.94,2885.59 L838.91,2885.62 L840.89,2885.64 L842.87,2885.67 L844.84,2885.69 L846.82,2885.71 L848.8,2885.73 L850.77,2885.75 L852.75,2885.77 L854.72,2885.78 L856.7,2885.79 L858.68,2885.81 L860.65,2885.82 L862.63,2885.83 L864.61,2885.84" fill="none" stroke="#0B5AA2" stroke-width="3.75" stroke-linecap="round" stroke-linejoin="round"/>
<path d="M548.4,2874.96 L550.38,2874.42 L552.36,2873.85 L554.33,2873.25 L556.31,2872.63 L558.29,2871.97 L560.26,2871.29 L562.24,2870.57 L564.21,2869.82 L566.19,2869.03 L568.17,2868.21 L570.14,2867.35 L572.12,2866.45 L574.1,2865.51 L576.07,2864.53 L578.05,2863.51 L580.02,2862.44 L582,2861.32 L583.98,2860.16 L585.95,2858.94 L587.93,2857.67 L589.91,2856.35 L591.88,2854.98 L593.86,2853.55 L595.83,2852.06 L597.81,2850.51 L599.79,2848.9 L601.76,2847.22 L603.74,2845.48 L605.72,2843.68 L607.69,2841.81 L609.67,2839.88 L611.64,2837.88 L613.62,2835.81 L615.6,2833.67 L617.57,2831.46 L619.55,2829.18 L621.53,2826.83 L623.5,2824.42 L625.48,2821.93 L627.45,2819.38 L629.43,2816.77 L631.41,2814.1 L633.38,2811.36 L635.36,2808.57 L637.34,2805.73 L639.31,2802.83 L641.29,2799.9 L643.26,2796.92 L645.24,2793.91 L647.22,2790.87 L649.19,2787.82 L651.17,2784.75 L653.15,2781.67 L655.12,2778.61 L657.1,2775.55 L659.07,2772.53 L661.05,2769.53 L663.03,2766.58 L665,2763.69 L666.98,2760.87 L668.96,2758.14 L670.93,2755.49 L672.91,2752.95 L674.88,2750.53 L676.86,2748.24 L678.84,2746.1 L680.81,2744.1 L682.79,2742.27 L684.77,2740.62 L686.74,2739.15 L688.72,2737.87 L690.69,2736.8 L692.67,2735.93 L694.65,2735.28 L696.62,2734.84 L698.6,2734.62 L700.58,2734.62 L702.55,2734.84 L704.53,2735.29 L706.5,2735.94 L708.48,2736.82 L710.46,2737.89 L712.43,2739.17 L714.41,2740.65 L716.39,2742.3 L718.36,2744.13 L720.34,2746.13 L722.32,2748.28 L724.29,2750.57 L726.27,2752.99 L728.24,2755.54 L730.22,2758.18 L732.2,2760.92 L734.17,2763.74 L736.15,2766.63 L738.13,2769.58 L740.1,2772.58 L742.08,2775.61 L744.05,2778.66 L746.03,2781.73 L748.01,2784.8 L749.98,2787.87 L751.96,2790.92 L753.94,2793.96 L755.91,2796.97 L757.89,2799.95 L759.86,2802.88 L761.84,2805.77 L763.82,2808.62 L765.79,2811.41 L767.77,2814.14 L769.75,2816.82 L771.72,2819.43 L773.7,2821.98 L775.67,2824.46 L777.65,2826.87 L779.63,2829.22 L781.6,2831.49 L783.58,2833.7 L785.56,2835.84 L787.53,2837.91 L789.51,2839.91 L791.48,2841.85 L793.46,2843.71 L795.44,2845.51 L797.41,2847.25 L799.39,2848.92 L801.37,2850.53 L803.34,2852.08 L805.32,2853.57 L807.29,2855 L809.27,2856.38 L811.25,2857.7 L813.22,2858.96 L815.2,2860.18 L817.18,2861.34 L819.15,2862.46 L821.13,2863.53 L823.1,2864.55 L825.08,2865.53 L827.06,2866.47 L829.03,2867.37 L831.01,2868.22 L832.99,2869.05 L834.96,2869.83 L836.94,2870.58 L838.91,2871.3 L840.89,2871.98 L842.87,2872.64 L844.84,2873.26 L846.82,2873.86 L848.8,2874.43 L850.77,2874.97 L852.75,2875.49 L854.72,2875.98 L856.7,2876.45 L858.68,2876.9 L860.65,2877.33 L862.63,2877.74 L864.61,2878.13" fill="none" stroke="#DE8C07" stroke-width="3.75" stroke-linecap="round" stroke-linejoin="round"/>
<path d="M548.4,2885.75 L550.38,2885.73 L552.36,2885.71 L554.33,2885.69 L556.31,2885.67 L558.29,2885.64 L560.26,2885.62 L562.24,2885.58 L564.21,2885.55 L566.19,2885.51 L568.17,2885.47 L570.14,2885.43 L572.12,2885.37 L574.1,2885.32 L576.07,2885.26 L578.05,2885.19 L580.02,2885.12 L582,2885.04 L583.98,2884.95 L585.95,2884.85 L587.93,2884.74 L589.91,2884.62 L591.88,2884.49 L593.86,2884.35 L595.83,2884.19 L597.81,2884.02 L599.79,2883.83 L601.76,2883.63 L603.74,2883.4 L605.72,2883.16 L607.69,2882.89 L609.67,2882.59 L611.64,2882.27 L613.62,2881.91 L615.6,2881.53 L617.57,2881.11 L619.55,2880.65 L621.53,2880.15 L623.5,2879.61 L625.48,2879.02 L627.45,2878.37 L629.43,2877.68 L631.41,2876.92 L633.38,2876.1 L635.36,2875.21 L637.34,2874.24 L639.31,2873.2 L641.29,2872.08 L643.26,2870.86 L645.24,2869.56 L647.22,2868.15 L649.19,2866.64 L651.17,2865.02 L653.15,2863.28 L655.12,2861.42 L657.1,2859.43 L659.07,2857.3 L661.05,2855.04 L663.03,2852.64 L665,2850.08 L666.98,2847.38 L668.96,2844.51 L670.93,2841.49 L672.91,2838.3 L674.88,2834.95 L676.86,2831.43 L678.84,2827.74 L680.81,2823.89 L682.79,2819.87 L684.77,2815.68 L686.74,2811.33 L688.72,2806.83 L690.69,2802.17 L692.67,2797.36 L694.65,2792.41 L696.62,2787.33 L698.6,2782.13 L700.58,2776.81 L702.55,2771.38 L704.53,2765.86 L706.5,2760.26 L708.48,2754.59 L710.46,2748.85 L712.43,2743.07 L714.41,2737.25 L716.39,2731.41 L718.36,2725.56 L720.34,2719.71 L722.32,2713.88 L724.29,2708.07 L726.27,2702.3 L728.24,2696.57 L730.22,2690.9 L732.2,2685.3 L734.17,2679.78 L736.15,2674.34 L738.13,2668.99 L740.1,2663.73 L742.08,2658.58 L744.05,2653.54 L746.03,2648.62 L748.01,2643.81 L749.98,2639.12 L751.96,2634.55 L753.94,2630.11 L755.91,2625.79 L757.89,2621.61 L759.86,2617.55 L761.84,2613.61 L763.82,2609.81 L765.79,2606.13 L767.77,2602.58 L769.75,2599.14 L771.72,2595.84 L773.7,2592.65 L775.67,2589.57 L777.65,2586.62 L779.63,2583.77 L781.6,2581.04 L783.58,2578.41 L785.56,2575.89 L787.53,2573.46 L789.51,2571.14 L791.48,2568.91 L793.46,2566.77 L795.44,2564.73 L797.41,2562.77 L799.39,2560.89 L801.37,2559.09 L803.34,2557.37 L805.32,2555.73 L807.29,2554.15 L809.27,2552.65 L811.25,2551.21 L813.22,2549.84 L815.2,2548.52 L817.18,2547.27 L819.15,2546.07 L821.13,2544.93 L823.1,2543.84 L825.08,2542.8 L827.06,2541.8 L829.03,2540.86 L831.01,2539.95 L832.99,2539.09 L834.96,2538.27 L836.94,2537.48 L838.91,2536.74 L840.89,2536.02 L842.87,2535.34 L844.84,2534.69 L846.82,2534.08 L848.8,2533.49 L850.77,2532.93 L852.75,2532.39 L854.72,2531.89 L856.7,2531.4 L858.68,2530.94 L860.65,2530.5 L862.63,2530.08 L864.61,2529.68" fill="none" stroke="#128B5E" stroke-width="3.75" stroke-linecap="round" stroke-linejoin="round"/>
<path d="M908.87,2527.64 L910.85,2527.94 L912.83,2528.26 L914.8,2528.59 L916.78,2528.93 L918.76,2529.3 L920.73,2529.68 L922.71,2530.08 L924.68,2530.51 L926.66,2530.95 L928.64,2531.42 L930.61,2531.91 L932.59,2532.43 L934.57,2532.97 L936.54,2533.54 L938.52,2534.14 L940.49,2534.77 L942.47,2535.44 L944.45,2536.13 L946.42,2536.86 L948.4,2537.63 L950.38,2538.44 L952.35,2539.29 L954.33,2540.18 L956.3,2541.12 L958.28,2542.1 L960.26,2543.14 L962.23,2544.22 L964.21,2545.36 L966.19,2546.56 L968.16,2547.81 L970.14,2549.13 L972.11,2550.52 L974.09,2551.97 L976.07,2553.5 L978.04,2555.1 L980.02,2556.77 L982,2558.53 L983.97,2560.38 L985.95,2562.31 L987.92,2564.34 L989.9,2566.47 L991.88,2568.69 L993.85,2571.02 L995.83,2573.46 L997.81,2576.01 L999.78,2578.67 L1001.76,2581.46 L1003.73,2584.37 L1005.71,2587.41 L1007.69,2590.59 L1009.66,2593.9 L1011.64,2597.35 L1013.62,2600.94 L1015.59,2604.68 L1017.57,2608.56 L1019.54,2612.6 L1021.52,2616.79 L1023.5,2621.13 L1025.47,2625.62 L1027.45,2630.27 L1029.43,2635.08 L1031.4,2640.03 L1033.38,2645.14 L1035.35,2650.39 L1037.33,2655.78 L1039.31,2661.31 L1041.28,2666.97 L1043.26,2672.75 L1045.24,2678.65 L1047.21,2684.65 L1049.19,2690.75 L1051.16,2696.92 L1053.14,2703.17 L1055.12,2709.47 L1057.09,2715.81 L1059.07,2722.18 L1061.05,2728.55 L1063.02,2734.92 L1065,2741.27 L1066.98,2747.57 L1068.95,2753.82 L1070.93,2759.99 L1072.9,2766.08 L1074.88,2772.06 L1076.86,2777.92 L1078.83,2783.65 L1080.81,2789.23 L1082.79,2794.66 L1084.76,2799.92 L1086.74,2805.01 L1088.71,2809.91 L1090.69,2814.63 L1092.67,2819.15 L1094.64,2823.48 L1096.62,2827.61 L1098.6,2831.55 L1100.57,2835.28 L1102.55,2838.82 L1104.52,2842.17 L1106.5,2845.33 L1108.48,2848.31 L1110.45,2851.11 L1112.43,2853.74 L1114.41,2856.19 L1116.38,2858.49 L1118.36,2860.64 L1120.33,2862.64 L1122.31,2864.5 L1124.29,2866.22 L1126.26,2867.83 L1128.24,2869.31 L1130.22,2870.69 L1132.19,2871.96 L1134.17,2873.13 L1136.14,2874.21 L1138.12,2875.21 L1140.1,2876.13 L1142.07,2876.97 L1144.05,2877.75 L1146.03,2878.46 L1148,2879.11 L1149.98,2879.71 L1151.95,2880.26 L1153.93,2880.76 L1155.91,2881.22 L1157.88,2881.64 L1159.86,2882.02 L1161.84,2882.37 L1163.81,2882.69 L1165.79,2882.98 L1167.76,2883.25 L1169.74,2883.49 L1171.72,2883.71 L1173.69,2883.91 L1175.67,2884.1 L1177.65,2884.26 L1179.62,2884.42 L1181.6,2884.56 L1183.57,2884.68 L1185.55,2884.8 L1187.53,2884.9 L1189.5,2884.99 L1191.48,2885.08 L1193.46,2885.16 L1195.43,2885.23 L1197.41,2885.29 L1199.38,2885.35 L1201.36,2885.4 L1203.34,2885.45 L1205.31,2885.5 L1207.29,2885.54 L1209.27,2885.57 L1211.24,2885.6 L1213.22,2885.63 L1215.19,2885.66 L1217.17,2885.68 L1219.15,2885.71 L1221.12,2885.73 L1223.1,2885.74 L1225.08,2885.76" fill="none" stroke="#0B5AA2" stroke-width="3.75" stroke-linecap="round" stroke-linejoin="round"/>
<path d="M908.87,2880.18 L910.85,2879.89 L912.83,2879.59 L914.8,2879.27 L916.78,2878.93 L918.76,2878.58 L920.73,2878.21 L922.71,2877.83 L924.68,2877.42 L926.66,2877 L928.64,2876.55 L930.61,2876.09 L932.59,2875.6 L934.57,2875.09 L936.54,2874.55 L938.52,2873.99 L940.49,2873.4 L942.47,2872.78 L944.45,2872.13 L946.42,2871.46 L948.4,2870.75 L950.38,2870.01 L952.35,2869.23 L954.33,2868.42 L956.3,2867.58 L958.28,2866.69 L960.26,2865.77 L962.23,2864.8 L964.21,2863.79 L966.19,2862.74 L968.16,2861.64 L970.14,2860.5 L972.11,2859.3 L974.09,2858.06 L976.07,2856.76 L978.04,2855.42 L980.02,2854.02 L982,2852.56 L983.97,2851.05 L985.95,2849.48 L987.92,2847.85 L989.9,2846.16 L991.88,2844.41 L993.85,2842.6 L995.83,2840.74 L997.81,2838.81 L999.78,2836.82 L1001.76,2834.77 L1003.73,2832.66 L1005.71,2830.49 L1007.69,2828.27 L1009.66,2826 L1011.64,2823.67 L1013.62,2821.29 L1015.59,2818.87 L1017.57,2816.4 L1019.54,2813.9 L1021.52,2811.37 L1023.5,2808.81 L1025.47,2806.24 L1027.45,2803.65 L1029.43,2801.05 L1031.4,2798.47 L1033.38,2795.89 L1035.35,2793.34 L1037.33,2790.82 L1039.31,2788.35 L1041.28,2785.93 L1043.26,2783.58 L1045.24,2781.31 L1047.21,2779.13 L1049.19,2777.05 L1051.16,2775.09 L1053.14,2773.26 L1055.12,2771.57 L1057.09,2770.03 L1059.07,2768.64 L1061.05,2767.43 L1063.02,2766.4 L1065,2765.55 L1066.98,2764.89 L1068.95,2764.43 L1070.93,2764.17 L1072.9,2764.12 L1074.88,2764.26 L1076.86,2764.61 L1078.83,2765.15 L1080.81,2765.89 L1082.79,2766.82 L1084.76,2767.93 L1086.74,2769.22 L1088.71,2770.67 L1090.69,2772.28 L1092.67,2774.04 L1094.64,2775.93 L1096.62,2777.94 L1098.6,2780.06 L1100.57,2782.28 L1102.55,2784.59 L1104.52,2786.97 L1106.5,2789.41 L1108.48,2791.91 L1110.45,2794.44 L1112.43,2797 L1114.41,2799.59 L1116.38,2802.18 L1118.36,2804.77 L1120.33,2807.35 L1122.31,2809.92 L1124.29,2812.47 L1126.26,2814.99 L1128.24,2817.48 L1130.22,2819.92 L1132.19,2822.33 L1134.17,2824.68 L1136.14,2826.99 L1138.12,2829.24 L1140.1,2831.44 L1142.07,2833.58 L1144.05,2835.66 L1146.03,2837.69 L1148,2839.65 L1149.98,2841.55 L1151.95,2843.39 L1153.93,2845.18 L1155.91,2846.9 L1157.88,2848.56 L1159.86,2850.16 L1161.84,2851.71 L1163.81,2853.2 L1165.79,2854.63 L1167.76,2856.01 L1169.74,2857.33 L1171.72,2858.6 L1173.69,2859.82 L1175.67,2861 L1177.65,2862.12 L1179.62,2863.2 L1181.6,2864.23 L1183.57,2865.22 L1185.55,2866.17 L1187.53,2867.08 L1189.5,2867.95 L1191.48,2868.78 L1193.46,2869.57 L1195.43,2870.33 L1197.41,2871.06 L1199.38,2871.75 L1201.36,2872.42 L1203.34,2873.05 L1205.31,2873.66 L1207.29,2874.23 L1209.27,2874.79 L1211.24,2875.31 L1213.22,2875.81 L1215.19,2876.29 L1217.17,2876.75 L1219.15,2877.19 L1221.12,2877.6 L1223.1,2878 L1225.08,2878.38" fill="none" stroke="#DE8C07" stroke-width="3.75" stroke-linecap="round" stroke-linejoin="round"/>
<path d="M908.87,2885.83 L910.85,2885.82 L912.83,2885.81 L914.8,2885.8 L916.78,2885.78 L918.76,2885.77 L920.73,2885.75 L922.71,2885.74 L924.68,2885.72 L926.66,2885.7 L928.64,2885.67 L930.61,2885.65 L932.59,2885.62 L934.57,2885.59 L936.54,2885.56 L938.52,2885.52 L940.49,2885.48 L942.47,2885.43 L944.45,2885.38 L946.42,2885.33 L948.4,2885.27 L950.38,2885.2 L952.35,2885.12 L954.33,2885.04 L956.3,2884.95 L958.28,2884.86 L960.26,2884.75 L962.23,2884.63 L964.21,2884.5 L966.19,2884.35 L968.16,2884.19 L970.14,2884.02 L972.11,2883.83 L974.09,2883.62 L976.07,2883.39 L978.04,2883.14 L980.02,2882.86 L982,2882.56 L983.97,2882.22 L985.95,2881.86 L987.92,2881.46 L989.9,2881.02 L991.88,2880.55 L993.85,2880.03 L995.83,2879.46 L997.81,2878.83 L999.78,2878.16 L1001.76,2877.42 L1003.73,2876.61 L1005.71,2875.74 L1007.69,2874.79 L1009.66,2873.76 L1011.64,2872.63 L1013.62,2871.42 L1015.59,2870.11 L1017.57,2868.68 L1019.54,2867.15 L1021.52,2865.49 L1023.5,2863.71 L1025.47,2861.79 L1027.45,2859.73 L1029.43,2857.52 L1031.4,2855.15 L1033.38,2852.62 L1035.35,2849.92 L1037.33,2847.05 L1039.31,2843.99 L1041.28,2840.75 L1043.26,2837.32 L1045.24,2833.69 L1047.21,2829.87 L1049.19,2825.85 L1051.16,2821.63 L1053.14,2817.22 L1055.12,2812.61 L1057.09,2807.81 L1059.07,2802.83 L1061.05,2797.67 L1063.02,2792.33 L1065,2786.83 L1066.98,2781.19 L1068.95,2775.4 L1070.93,2769.48 L1072.9,2763.46 L1074.88,2757.33 L1076.86,2751.12 L1078.83,2744.85 L1080.81,2738.52 L1082.79,2732.17 L1084.76,2725.79 L1086.74,2719.42 L1088.71,2713.06 L1090.69,2706.74 L1092.67,2700.46 L1094.64,2694.24 L1096.62,2688.1 L1098.6,2682.04 L1100.57,2676.09 L1102.55,2670.24 L1104.52,2664.51 L1106.5,2658.9 L1108.48,2653.43 L1110.45,2648.1 L1112.43,2642.91 L1114.41,2637.87 L1116.38,2632.98 L1118.36,2628.24 L1120.33,2623.66 L1122.31,2619.23 L1124.29,2614.95 L1126.26,2610.83 L1128.24,2606.86 L1130.22,2603.04 L1132.19,2599.37 L1134.17,2595.84 L1136.14,2592.45 L1138.12,2589.2 L1140.1,2586.08 L1142.07,2583.1 L1144.05,2580.24 L1146.03,2577.51 L1148,2574.89 L1149.98,2572.39 L1151.95,2570 L1153.93,2567.71 L1155.91,2565.53 L1157.88,2563.45 L1159.86,2561.47 L1161.84,2559.57 L1163.81,2557.76 L1165.79,2556.04 L1167.76,2554.39 L1169.74,2552.83 L1171.72,2551.33 L1173.69,2549.91 L1175.67,2548.55 L1177.65,2547.26 L1179.62,2546.03 L1181.6,2544.86 L1183.57,2543.74 L1185.55,2542.68 L1187.53,2541.67 L1189.5,2540.71 L1191.48,2539.79 L1193.46,2538.92 L1195.43,2538.09 L1197.41,2537.3 L1199.38,2536.54 L1201.36,2535.83 L1203.34,2535.15 L1205.31,2534.5 L1207.29,2533.88 L1209.27,2533.29 L1211.24,2532.73 L1213.22,2532.2 L1215.19,2531.7 L1217.17,2531.21 L1219.15,2530.76 L1221.12,2530.32 L1223.1,2529.91 L1225.08,2529.51" fill="none" stroke="#128B5E" stroke-width="3.75" stroke-linecap="round" stroke-linejoin="round"/>
<path d="M1269.34,2527.56 L1271.32,2527.85 L1273.3,2528.16 L1275.27,2528.48 L1277.25,2528.82 L1279.23,2529.18 L1281.2,2529.55 L1283.18,2529.95 L1285.15,2530.36 L1287.13,2530.8 L1289.11,2531.25 L1291.08,2531.73 L1293.06,2532.23 L1295.04,2532.76 L1297.01,2533.32 L1298.99,2533.9 L1300.96,2534.51 L1302.94,2535.15 L1304.92,2535.83 L1306.89,2536.53 L1308.87,2537.28 L1310.85,2538.06 L1312.82,2538.87 L1314.8,2539.73 L1316.77,2540.63 L1318.75,2541.58 L1320.73,2542.57 L1322.7,2543.61 L1324.68,2544.7 L1326.66,2545.84 L1328.63,2547.04 L1330.61,2548.29 L1332.58,2549.61 L1334.56,2550.99 L1336.54,2552.43 L1338.51,2553.94 L1340.49,2555.52 L1342.47,2557.18 L1344.44,2558.91 L1346.42,2560.73 L1348.39,2562.63 L1350.37,2564.61 L1352.35,2566.69 L1354.32,2568.85 L1356.3,2571.12 L1358.28,2573.48 L1360.25,2575.95 L1362.23,2578.52 L1364.2,2581.21 L1366.18,2584 L1368.16,2586.91 L1370.13,2589.95 L1372.11,2593.1 L1374.09,2596.38 L1376.06,2599.79 L1378.04,2603.33 L1380.01,2607 L1381.99,2610.8 L1383.97,2614.74 L1385.94,2618.82 L1387.92,2623.03 L1389.9,2627.38 L1391.87,2631.87 L1393.85,2636.49 L1395.82,2641.25 L1397.8,2646.14 L1399.78,2651.16 L1401.75,2656.3 L1403.73,2661.57 L1405.71,2666.95 L1407.68,2672.44 L1409.66,2678.03 L1411.63,2683.71 L1413.61,2689.48 L1415.59,2695.33 L1417.56,2701.24 L1419.54,2707.21 L1421.52,2713.21 L1423.49,2719.25 L1425.47,2725.3 L1427.45,2731.35 L1429.42,2737.4 L1431.4,2743.42 L1433.37,2749.4 L1435.35,2755.33 L1437.33,2761.19 L1439.3,2766.97 L1441.28,2772.65 L1443.26,2778.23 L1445.23,2783.7 L1447.21,2789.03 L1449.18,2794.23 L1451.16,2799.28 L1453.14,2804.18 L1455.11,2808.91 L1457.09,2813.48 L1459.07,2817.87 L1461.04,2822.09 L1463.02,2826.13 L1464.99,2829.99 L1466.97,2833.67 L1468.95,2837.18 L1470.92,2840.5 L1472.9,2843.65 L1474.88,2846.63 L1476.85,2849.44 L1478.83,2852.09 L1480.8,2854.58 L1482.78,2856.92 L1484.76,2859.11 L1486.73,2861.16 L1488.71,2863.07 L1490.69,2864.86 L1492.66,2866.52 L1494.64,2868.07 L1496.61,2869.5 L1498.59,2870.84 L1500.57,2872.07 L1502.54,2873.21 L1504.52,2874.27 L1506.5,2875.24 L1508.47,2876.14 L1510.45,2876.97 L1512.42,2877.73 L1514.4,2878.44 L1516.38,2879.08 L1518.35,2879.67 L1520.33,2880.22 L1522.31,2880.72 L1524.28,2881.17 L1526.26,2881.59 L1528.23,2881.97 L1530.21,2882.33 L1532.19,2882.65 L1534.16,2882.94 L1536.14,2883.21 L1538.12,2883.45 L1540.09,2883.67 L1542.07,2883.88 L1544.04,2884.06 L1546.02,2884.23 L1548,2884.38 L1549.97,2884.53 L1551.95,2884.65 L1553.93,2884.77 L1555.9,2884.87 L1557.88,2884.97 L1559.85,2885.06 L1561.83,2885.14 L1563.81,2885.21 L1565.78,2885.28 L1567.76,2885.34 L1569.74,2885.39 L1571.71,2885.44 L1573.69,2885.48 L1575.66,2885.52 L1577.64,2885.56 L1579.62,2885.59 L1581.59,2885.62 L1583.57,2885.65 L1585.55,2885.68" fill="none" stroke="#0B5AA2" stroke-width="3.75" stroke-linecap="round" stroke-linejoin="round"/>
<path d="M1269.34,2880.23 L1271.32,2879.94 L1273.3,2879.64 L1275.27,2879.33 L1277.25,2879 L1279.23,2878.65 L1281.2,2878.28 L1283.18,2877.9 L1285.15,2877.5 L1287.13,2877.08 L1289.11,2876.64 L1291.08,2876.17 L1293.06,2875.69 L1295.04,2875.18 L1297.01,2874.65 L1298.99,2874.09 L1300.96,2873.5 L1302.94,2872.89 L1304.92,2872.25 L1306.89,2871.58 L1308.87,2870.87 L1310.85,2870.14 L1312.82,2869.37 L1314.8,2868.56 L1316.77,2867.72 L1318.75,2866.84 L1320.73,2865.92 L1322.7,2864.96 L1324.68,2863.95 L1326.66,2862.9 L1328.63,2861.81 L1330.61,2860.67 L1332.58,2859.48 L1334.56,2858.23 L1336.54,2856.94 L1338.51,2855.59 L1340.49,2854.19 L1342.47,2852.73 L1344.44,2851.21 L1346.42,2849.64 L1348.39,2848 L1350.37,2846.3 L1352.35,2844.54 L1354.32,2842.71 L1356.3,2840.82 L1358.28,2838.86 L1360.25,2836.84 L1362.23,2834.75 L1364.2,2832.6 L1366.18,2830.38 L1368.16,2828.09 L1370.13,2825.75 L1372.11,2823.34 L1374.09,2820.86 L1376.06,2818.33 L1378.04,2815.75 L1380.01,2813.11 L1381.99,2810.42 L1383.97,2807.68 L1385.94,2804.91 L1387.92,2802.1 L1389.9,2799.26 L1391.87,2796.4 L1393.85,2793.52 L1395.82,2790.64 L1397.8,2787.75 L1399.78,2784.88 L1401.75,2782.03 L1403.73,2779.2 L1405.71,2776.42 L1407.68,2773.7 L1409.66,2771.03 L1411.63,2768.44 L1413.61,2765.94 L1415.59,2763.55 L1417.56,2761.26 L1419.54,2759.1 L1421.52,2757.08 L1423.49,2755.21 L1425.47,2753.5 L1427.45,2751.96 L1429.42,2750.6 L1431.4,2749.42 L1433.37,2748.45 L1435.35,2747.67 L1437.33,2747.11 L1439.3,2746.75 L1441.28,2746.61 L1443.26,2746.69 L1445.23,2746.97 L1447.21,2747.48 L1449.18,2748.19 L1451.16,2749.1 L1453.14,2750.21 L1455.11,2751.52 L1457.09,2753 L1459.07,2754.66 L1461.04,2756.49 L1463.02,2758.47 L1464.99,2760.58 L1466.97,2762.83 L1468.95,2765.19 L1470.92,2767.66 L1472.9,2770.23 L1474.88,2772.87 L1476.85,2775.58 L1478.83,2778.34 L1480.8,2781.15 L1482.78,2784 L1484.76,2786.87 L1486.73,2789.75 L1488.71,2792.63 L1490.69,2795.51 L1492.66,2798.38 L1494.64,2801.23 L1496.61,2804.05 L1498.59,2806.83 L1500.57,2809.58 L1502.54,2812.28 L1504.52,2814.94 L1506.5,2817.54 L1508.47,2820.09 L1510.45,2822.58 L1512.42,2825.01 L1514.4,2827.38 L1516.38,2829.68 L1518.35,2831.92 L1520.33,2834.1 L1522.31,2836.2 L1524.28,2838.25 L1526.26,2840.22 L1528.23,2842.13 L1530.21,2843.98 L1532.19,2845.76 L1534.16,2847.48 L1536.14,2849.14 L1538.12,2850.73 L1540.09,2852.27 L1542.07,2853.75 L1544.04,2855.17 L1546.02,2856.53 L1548,2857.84 L1549.97,2859.1 L1551.95,2860.31 L1553.93,2861.46 L1555.9,2862.57 L1557.88,2863.64 L1559.85,2864.65 L1561.83,2865.63 L1563.81,2866.56 L1565.78,2867.45 L1567.76,2868.31 L1569.74,2869.12 L1571.71,2869.91 L1573.69,2870.65 L1575.66,2871.36 L1577.64,2872.05 L1579.62,2872.7 L1581.59,2873.32 L1583.57,2873.91 L1585.55,2874.48" fill="none" stroke="#DE8C07" stroke-width="3.75" stroke-linecap="round" stroke-linejoin="round"/>
<path d="M1269.34,2885.86 L1271.32,2885.85 L1273.3,2885.85 L1275.27,2885.84 L1277.25,2885.83 L1279.23,2885.82 L1281.2,2885.81 L1283.18,2885.8 L1285.15,2885.79 L1287.13,2885.78 L1289.11,2885.76 L1291.08,2885.74 L1293.06,2885.73 L1295.04,2885.71 L1297.01,2885.68 L1298.99,2885.66 L1300.96,2885.63 L1302.94,2885.6 L1304.92,2885.57 L1306.89,2885.54 L1308.87,2885.5 L1310.85,2885.45 L1312.82,2885.41 L1314.8,2885.35 L1316.77,2885.29 L1318.75,2885.23 L1320.73,2885.16 L1322.7,2885.08 L1324.68,2885 L1326.66,2884.91 L1328.63,2884.8 L1330.61,2884.69 L1332.58,2884.57 L1334.56,2884.43 L1336.54,2884.28 L1338.51,2884.12 L1340.49,2883.94 L1342.47,2883.74 L1344.44,2883.52 L1346.42,2883.28 L1348.39,2883.02 L1350.37,2882.74 L1352.35,2882.43 L1354.32,2882.09 L1356.3,2881.71 L1358.28,2881.31 L1360.25,2880.86 L1362.23,2880.38 L1364.2,2879.85 L1366.18,2879.27 L1368.16,2878.64 L1370.13,2877.96 L1372.11,2877.21 L1374.09,2876.4 L1376.06,2875.53 L1378.04,2874.58 L1380.01,2873.55 L1381.99,2872.43 L1383.97,2871.23 L1385.94,2869.92 L1387.92,2868.52 L1389.9,2867.01 L1391.87,2865.38 L1393.85,2863.64 L1395.82,2861.76 L1397.8,2859.76 L1399.78,2857.61 L1401.75,2855.32 L1403.73,2852.88 L1405.71,2850.28 L1407.68,2847.52 L1409.66,2844.59 L1411.63,2841.49 L1413.61,2838.22 L1415.59,2834.77 L1417.56,2831.15 L1419.54,2827.34 L1421.52,2823.36 L1423.49,2819.19 L1425.47,2814.85 L1427.45,2810.34 L1429.42,2805.66 L1431.4,2800.81 L1433.37,2795.81 L1435.35,2790.65 L1437.33,2785.36 L1439.3,2779.93 L1441.28,2774.38 L1443.26,2768.73 L1445.23,2762.98 L1447.21,2757.14 L1449.18,2751.23 L1451.16,2745.27 L1453.14,2739.26 L1455.11,2733.22 L1457.09,2727.17 L1459.07,2721.11 L1461.04,2715.07 L1463.02,2709.05 L1464.99,2703.07 L1466.97,2697.15 L1468.95,2691.28 L1470.92,2685.48 L1472.9,2679.77 L1474.88,2674.15 L1476.85,2668.63 L1478.83,2663.21 L1480.8,2657.91 L1482.78,2652.73 L1484.76,2647.67 L1486.73,2642.74 L1488.71,2637.94 L1490.69,2633.28 L1492.66,2628.75 L1494.64,2624.36 L1496.61,2620.1 L1498.59,2615.98 L1500.57,2612 L1502.54,2608.15 L1504.52,2604.44 L1506.5,2600.86 L1508.47,2597.42 L1510.45,2594.1 L1512.42,2590.91 L1514.4,2587.84 L1516.38,2584.89 L1518.35,2582.05 L1520.33,2579.34 L1522.31,2576.73 L1524.28,2574.23 L1526.26,2571.83 L1528.23,2569.54 L1530.21,2567.34 L1532.19,2565.24 L1534.16,2563.23 L1536.14,2561.31 L1538.12,2559.47 L1540.09,2557.71 L1542.07,2556.03 L1544.04,2554.42 L1546.02,2552.89 L1548,2551.42 L1549.97,2550.02 L1551.95,2548.69 L1553.93,2547.42 L1555.9,2546.2 L1557.88,2545.04 L1559.85,2543.94 L1561.83,2542.88 L1563.81,2541.88 L1565.78,2540.92 L1567.76,2540.01 L1569.74,2539.13 L1571.71,2538.3 L1573.69,2537.51 L1575.66,2536.76 L1577.64,2536.04 L1579.62,2535.36 L1581.59,2534.71 L1583.57,2534.08 L1585.55,2533.49" fill="none" stroke="#128B5E" stroke-width="3.75" stroke-linecap="round" stroke-linejoin="round"/>
<rect x="165.8" y="139.05" width="360.47" height="26.95" fill="#EFEFEF" stroke="#000" stroke-width="1.9" stroke-linejoin="round"/>
<text x="346.03" y="160.95" font-family="'Liberation Sans', Arial, Helvetica, sans-serif" font-size="21.3" text-anchor="middle" textLength="201.68" lengthAdjust="spacing">i21_call_want_scold</text>
<rect x="165.8" y="166" width="360.47" height="436.93" fill="none" stroke="#000" stroke-width="1.9" stroke-linejoin="round"/>
<rect x="526.27" y="139.05" width="360.47" height="26.95" fill="#EFEFEF" stroke="#000" stroke-width="1.9" stroke-linejoin="round"/>
<text x="706.5" y="160.95" font-family="'Liberation Sans', Arial, Helvetica, sans-serif" font-size="21.3" text-anchor="middle" textLength="179.15" lengthAdjust="spacing">i22_call_do_scold</text>
<rect x="526.27" y="166" width="360.47" height="436.93" fill="none" stroke="#000" stroke-width="1.9" stroke-linejoin="round"/>
<rect x="886.74" y="139.05" width="360.47" height="26.95" fill="#EFEFEF" stroke="#000" stroke-width="1.9" stroke-linejoin="round"/>
<text x="1066.97" y="160.95" font-family="'Liberation Sans', Arial, Helvetica, sans-serif" font-size="21.3" text-anchor="middle" textLength="204.19" lengthAdjust="spacing">i23_call_want_shout</text>
<rect x="886.74" y="166" width="360.47" height="436.93" fill="none" stroke="#000" stroke-width="1.9" stroke-linejoin="round"/>
<rect x="1247.21" y="139.05" width="360.47" height="26.95" fill="#EFEFEF" stroke="#000" stroke-width="1.9" stroke-linejoin="round"/>
<text x="1427.45" y="160.95" font-family="'Liberation Sans', Arial, Helvetica, sans-serif" font-size="21.3" text-anchor="middle" textLength="181.66" lengthAdjust="spacing">i24_call_do_shout</text>
<rect x="1247.21" y="166" width="360.47" height="436.93" fill="none" stroke="#000" stroke-width="1.9" stroke-linejoin="round"/>
<rect x="165.8" y="602.93" width="360.47" height="26.95" fill="#EFEFEF" stroke="#000" stroke-width="1.9" stroke-linejoin="round"/>
<text x="346.03" y="624.83" font-family="'Liberation Sans', Arial, Helvetica, sans-serif" font-size="21.3" text-anchor="middle" textLength="220.48" lengthAdjust="spacing">i17_store_want_shout</text>
<rect x="165.8" y="629.88" width="360.47" height="436.93" fill="none" stroke="#000" stroke-width="1.9" stroke-linejoin="round"/>
<rect x="526.27" y="602.93" width="360.47" height="26.95" fill="#EFEFEF" stroke="#000" stroke-width="1.9" stroke-linejoin="round"/>
<text x="706.5" y="624.83" font-family="'Liberation Sans', Arial, Helvetica, sans-serif" font-size="21.3" text-anchor="middle" textLength="197.95" lengthAdjust="spacing">i18_store_do_shout</text>
<rect x="526.27" y="629.88" width="360.47" height="436.93" fill="none" stroke="#000" stroke-width="1.9" stroke-linejoin="round"/>
<rect x="886.74" y="602.93" width="360.47" height="26.95" fill="#EFEFEF" stroke="#000" stroke-width="1.9" stroke-linejoin="round"/>
<text x="1066.97" y="624.83" font-family="'Liberation Sans', Arial, Helvetica, sans-serif" font-size="21.3" text-anchor="middle" textLength="204.18" lengthAdjust="spacing">i19_call_want_curse</text>
<rect x="886.74" y="629.88" width="360.47" height="436.93" fill="none" stroke="#000" stroke-width="1.9" stroke-linejoin="round"/>
<rect x="1247.21" y="602.93" width="360.47" height="26.95" fill="#EFEFEF" stroke="#000" stroke-width="1.9" stroke-linejoin="round"/>
<text x="1427.45" y="624.83" font-family="'Liberation Sans', Arial, Helvetica, sans-serif" font-size="21.3" text-anchor="middle" textLength="181.65" lengthAdjust="spacing">i20_call_do_curse</text>
<rect x="1247.21" y="629.88" width="360.47" height="436.93" fill="none" stroke="#000" stroke-width="1.9" stroke-linejoin="round"/>
<rect x="165.8" y="1066.81" width="360.47" height="26.95" fill="#EFEFEF" stroke="#000" stroke-width="1.9" stroke-linejoin="round"/>
<text x="346.03" y="1088.71" font-family="'Liberation Sans', Arial, Helvetica, sans-serif" font-size="21.3" text-anchor="middle" textLength="220.46" lengthAdjust="spacing">i13_store_want_curse</text>
<rect x="165.8" y="1093.76" width="360.47" height="436.93" fill="none" stroke="#000" stroke-width="1.9" stroke-linejoin="round"/>
<rect x="526.27" y="1066.81" width="360.47" height="26.95" fill="#EFEFEF" stroke="#000" stroke-width="1.9" stroke-linejoin="round"/>
<text x="706.5" y="1088.71" font-family="'Liberation Sans', Arial, Helvetica, sans-serif" font-size="21.3" text-anchor="middle" textLength="197.93" lengthAdjust="spacing">i14_store_do_curse</text>
<rect x="526.27" y="1093.76" width="360.47" height="436.93" fill="none" stroke="#000" stroke-width="1.9" stroke-linejoin="round"/>
<rect x="886.74" y="1066.81" width="360.47" height="26.95" fill="#EFEFEF" stroke="#000" stroke-width="1.9" stroke-linejoin="round"/>
<text x="1066.97" y="1088.71" font-family="'Liberation Sans', Arial, Helvetica, sans-serif" font-size="21.3" text-anchor="middle" textLength="217.96" lengthAdjust="spacing">i15_store_want_scold</text>
<rect x="886.74" y="1093.76" width="360.47" height="436.93" fill="none" stroke="#000" stroke-width="1.9" stroke-linejoin="round"/>
<rect x="1247.21" y="1066.81" width="360.47" height="26.95" fill="#EFEFEF" stroke="#000" stroke-width="1.9" stroke-linejoin="round"/>
<text x="1427.45" y="1088.71" font-family="'Liberation Sans', Arial, Helvetica, sans-serif" font-size="21.3" text-anchor="middle" textLength="195.43" lengthAdjust="spacing">i16_store_do_scold</text>
<rect x="1247.21" y="1093.76" width="360.47" height="436.93" fill="none" stroke="#000" stroke-width="1.9" stroke-linejoin="round"/>
<rect x="165.8" y="1530.69" width="360.47" height="26.95" fill="#EFEFEF" stroke="#000" stroke-width="1.9" stroke-linejoin="round"/>
<text x="346.03" y="1552.59" font-family="'Liberation Sans', Arial, Helvetica, sans-serif" font-size="21.3" text-anchor="middle" textLength="199.17" lengthAdjust="spacing">i9_train_want_scold</text>
<rect x="165.8" y="1557.64" width="360.47" height="436.93" fill="none" stroke="#000" stroke-width="1.9" stroke-linejoin="round"/>
<rect x="526.27" y="1530.69" width="360.47" height="26.95" fill="#EFEFEF" stroke="#000" stroke-width="1.9" stroke-linejoin="round"/>
<text x="706.5" y="1552.59" font-family="'Liberation Sans', Arial, Helvetica, sans-serif" font-size="21.3" text-anchor="middle" textLength="189.17" lengthAdjust="spacing">i10_train_do_scold</text>
<rect x="526.27" y="1557.64" width="360.47" height="436.93" fill="none" stroke="#000" stroke-width="1.9" stroke-linejoin="round"/>
<rect x="886.74" y="1530.69" width="360.47" height="26.95" fill="#EFEFEF" stroke="#000" stroke-width="1.9" stroke-linejoin="round"/>
<text x="1066.97" y="1552.59" font-family="'Liberation Sans', Arial, Helvetica, sans-serif" font-size="21.3" text-anchor="middle" textLength="212.54" lengthAdjust="spacing">i11_train_want_shout</text>
<rect x="886.74" y="1557.64" width="360.47" height="436.93" fill="none" stroke="#000" stroke-width="1.9" stroke-linejoin="round"/>
<rect x="1247.21" y="1530.69" width="360.47" height="26.95" fill="#EFEFEF" stroke="#000" stroke-width="1.9" stroke-linejoin="round"/>
<text x="1427.45" y="1552.59" font-family="'Liberation Sans', Arial, Helvetica, sans-serif" font-size="21.3" text-anchor="middle" textLength="191.68" lengthAdjust="spacing">i12_train_do_shout</text>
<rect x="1247.21" y="1557.64" width="360.47" height="436.93" fill="none" stroke="#000" stroke-width="1.9" stroke-linejoin="round"/>
<rect x="165.8" y="1994.57" width="360.47" height="26.95" fill="#EFEFEF" stroke="#000" stroke-width="1.9" stroke-linejoin="round"/>
<text x="346.03" y="2016.47" font-family="'Liberation Sans', Arial, Helvetica, sans-serif" font-size="21.3" text-anchor="middle" textLength="194.18" lengthAdjust="spacing">i5_bus_want_shout</text>
<rect x="165.8" y="2021.52" width="360.47" height="436.93" fill="none" stroke="#000" stroke-width="1.9" stroke-linejoin="round"/>
<rect x="526.27" y="1994.57" width="360.47" height="26.95" fill="#EFEFEF" stroke="#000" stroke-width="1.9" stroke-linejoin="round"/>
<text x="706.5" y="2016.47" font-family="'Liberation Sans', Arial, Helvetica, sans-serif" font-size="21.3" text-anchor="middle" textLength="171.64" lengthAdjust="spacing">i6_bus_do_shout</text>
<rect x="526.27" y="2021.52" width="360.47" height="436.93" fill="none" stroke="#000" stroke-width="1.9" stroke-linejoin="round"/>
<rect x="886.74" y="1994.57" width="360.47" height="26.95" fill="#EFEFEF" stroke="#000" stroke-width="1.9" stroke-linejoin="round"/>
<text x="1066.97" y="2016.47" font-family="'Liberation Sans', Arial, Helvetica, sans-serif" font-size="21.3" text-anchor="middle" textLength="201.66" lengthAdjust="spacing">i7_train_want_curse</text>
<rect x="886.74" y="2021.52" width="360.47" height="436.93" fill="none" stroke="#000" stroke-width="1.9" stroke-linejoin="round"/>
<rect x="1247.21" y="1994.57" width="360.47" height="26.95" fill="#EFEFEF" stroke="#000" stroke-width="1.9" stroke-linejoin="round"/>
<text x="1427.45" y="2016.47" font-family="'Liberation Sans', Arial, Helvetica, sans-serif" font-size="21.3" text-anchor="middle" textLength="179.13" lengthAdjust="spacing">i8_train_do_curse</text>
<rect x="1247.21" y="2021.52" width="360.47" height="436.93" fill="none" stroke="#000" stroke-width="1.9" stroke-linejoin="round"/>
<rect x="165.8" y="2458.45" width="360.47" height="26.95" fill="#EFEFEF" stroke="#000" stroke-width="1.9" stroke-linejoin="round"/>
<text x="346.03" y="2480.35" font-family="'Liberation Sans', Arial, Helvetica, sans-serif" font-size="21.3" text-anchor="middle" textLength="194.16" lengthAdjust="spacing">i1_bus_want_curse</text>
<rect x="165.8" y="2485.4" width="360.47" height="436.93" fill="none" stroke="#000" stroke-width="1.9" stroke-linejoin="round"/>
<rect x="526.27" y="2458.45" width="360.47" height="26.95" fill="#EFEFEF" stroke="#000" stroke-width="1.9" stroke-linejoin="round"/>
<text x="706.5" y="2480.35" font-family="'Liberation Sans', Arial, Helvetica, sans-serif" font-size="21.3" text-anchor="middle" textLength="171.63" lengthAdjust="spacing">i2_bus_do_curse</text>
<rect x="526.27" y="2485.4" width="360.47" height="436.93" fill="none" stroke="#000" stroke-width="1.9" stroke-linejoin="round"/>
<rect x="886.74" y="2458.45" width="360.47" height="26.95" fill="#EFEFEF" stroke="#000" stroke-width="1.9" stroke-linejoin="round"/>
<text x="1066.97" y="2480.35" font-family="'Liberation Sans', Arial, Helvetica, sans-serif" font-size="21.3" text-anchor="middle" textLength="191.66" lengthAdjust="spacing">i3_bus_want_scold</text>
<rect x="886.74" y="2485.4" width="360.47" height="436.93" fill="none" stroke="#000" stroke-width="1.9" stroke-linejoin="round"/>
<rect x="1247.21" y="2458.45" width="360.47" height="26.95" fill="#EFEFEF" stroke="#000" stroke-width="1.9" stroke-linejoin="round"/>
<text x="1427.45" y="2480.35" font-family="'Liberation Sans', Arial, Helvetica, sans-serif" font-size="21.3" text-anchor="middle" textLength="169.13" lengthAdjust="spacing">i4_bus_do_scold</text>
<rect x="1247.21" y="2485.4" width="360.47" height="436.93" fill="none" stroke="#000" stroke-width="1.9" stroke-linejoin="round"/>
<path d="M187.93,139.05 V124.15 M187.93,2922.33 V2937.23 M266.98,139.05 V124.15 M266.98,2922.33 V2937.23 M346.04,139.05 V124.15 M346.04,2922.33 V2937.23 M425.09,139.05 V124.15 M425.09,2922.33 V2937.23 M504.14,139.05 V124.15 M504.14,2922.33 V2937.23 M548.4,139.05 V124.15 M548.4,2922.33 V2937.23 M627.45,139.05 V124.15 M627.45,2922.33 V2937.23 M706.5,139.05 V124.15 M706.5,2922.33 V2937.23 M785.56,139.05 V124.15 M785.56,2922.33 V2937.23 M864.61,139.05 V124.15 M864.61,2922.33 V2937.23 M908.87,139.05 V124.15 M908.87,2922.33 V2937.23 M987.92,139.05 V124.15 M987.92,2922.33 V2937.23 M1066.98,139.05 V124.15 M1066.98,2922.33 V2937.23 M1146.03,139.05 V124.15 M1146.03,2922.33 V2937.23 M1225.08,139.05 V124.15 M1225.08,2922.33 V2937.23 M1269.34,139.05 V124.15 M1269.34,2922.33 V2937.23 M1348.39,139.05 V124.15 M1348.39,2922.33 V2937.23 M1427.45,139.05 V124.15 M1427.45,2922.33 V2937.23 M1506.5,139.05 V124.15 M1506.5,2922.33 V2937.23 M1585.55,139.05 V124.15 M1585.55,2922.33 V2937.23 M165.8,566.52 H150.9 M1607.68,566.52 H1622.58 M165.8,493.7 H150.9 M1607.68,493.7 H1622.58 M165.8,420.88 H150.9 M1607.68,420.88 H1622.58 M165.8,348.05 H150.9 M1607.68,348.05 H1622.58 M165.8,275.23 H150.9 M1607.68,275.23 H1622.58 M165.8,202.41 H150.9 M1607.68,202.41 H1622.58 M165.8,1030.4 H150.9 M1607.68,1030.4 H1622.58 M165.8,957.58 H150.9 M1607.68,957.58 H1622.58 M165.8,884.76 H150.9 M1607.68,884.76 H1622.58 M165.8,811.93 H150.9 M1607.68,811.93 H1622.58 M165.8,739.11 H150.9 M1607.68,739.11 H1622.58 M165.8,666.29 H150.9 M1607.68,666.29 H1622.58 M165.8,1494.28 H150.9 M1607.68,1494.28 H1622.58 M165.8,1421.46 H150.9 M1607.68,1421.46 H1622.58 M165.8,1348.64 H150.9 M1607.68,1348.64 H1622.58 M165.8,1275.81 H150.9 M1607.68,1275.81 H1622.58 M165.8,1202.99 H150.9 M1607.68,1202.99 H1622.58 M165.8,1130.17 H150.9 M1607.68,1130.17 H1622.58 M165.8,1958.16 H150.9 M1607.68,1958.16 H1622.58 M165.8,1885.34 H150.9 M1607.68,1885.34 H1622.58 M165.8,1812.52 H150.9 M1607.68,1812.52 H1622.58 M165.8,1739.69 H150.9 M1607.68,1739.69 H1622.58 M165.8,1666.87 H150.9 M1607.68,1666.87 H1622.58 M165.8,1594.05 H150.9 M1607.68,1594.05 H1622.58 M165.8,2422.04 H150.9 M1607.68,2422.04 H1622.58 M165.8,2349.22 H150.9 M1607.68,2349.22 H1622.58 M165.8,2276.4 H150.9 M1607.68,2276.4 H1622.58 M165.8,2203.57 H150.9 M1607.68,2203.57 H1622.58 M165.8,2130.75 H150.9 M1607.68,2130.75 H1622.58 M165.8,2057.93 H150.9 M1607.68,2057.93 H1622.58 M165.8,2885.92 H150.9 M1607.68,2885.92 H1622.58 M165.8,2813.1 H150.9 M1607.68,2813.1 H1622.58 M165.8,2740.28 H150.9 M1607.68,2740.28 H1622.58 M165.8,2667.45 H150.9 M1607.68,2667.45 H1622.58 M165.8,2594.63 H150.9 M1607.68,2594.63 H1622.58 M165.8,2521.81 H150.9 M1607.68,2521.81 H1622.58" fill="none" stroke="#000" stroke-width="1.9" stroke-linecap="round"/>
<g font-family="'Liberation Sans', Arial, Helvetica, sans-serif" font-size="25.8" fill="#000"><text x="548.4" y="109.2" text-anchor="middle">-4</text><text x="627.45" y="109.2" text-anchor="middle">-2</text><text x="706.5" y="109.2" text-anchor="middle">0</text><text x="785.56" y="109.2" text-anchor="middle">2</text><text x="864.61" y="109.2" text-anchor="middle">4</text><text x="1269.34" y="109.2" text-anchor="middle">-4</text><text x="1348.39" y="109.2" text-anchor="middle">-2</text><text x="1427.45" y="109.2" text-anchor="middle">0</text><text x="1506.5" y="109.2" text-anchor="middle">2</text><text x="1585.55" y="109.2" text-anchor="middle">4</text><text x="187.93" y="2971.0" text-anchor="middle">-4</text><text x="266.98" y="2971.0" text-anchor="middle">-2</text><text x="346.04" y="2971.0" text-anchor="middle">0</text><text x="425.09" y="2971.0" text-anchor="middle">2</text><text x="504.14" y="2971.0" text-anchor="middle">4</text><text x="908.87" y="2971.0" text-anchor="middle">-4</text><text x="987.92" y="2971.0" text-anchor="middle">-2</text><text x="1066.98" y="2971.0" text-anchor="middle">0</text><text x="1146.03" y="2971.0" text-anchor="middle">2</text><text x="1225.08" y="2971.0" text-anchor="middle">4</text><text x="134.6" y="1040.2" text-anchor="end">0.0</text><text x="134.6" y="967.38" text-anchor="end">0.2</text><text x="134.6" y="894.56" text-anchor="end">0.4</text><text x="134.6" y="821.73" text-anchor="end">0.6</text><text x="134.6" y="748.91" text-anchor="end">0.8</text><text x="134.6" y="676.09" text-anchor="end">1.0</text><text x="134.6" y="1967.96" text-anchor="end">0.0</text><text x="134.6" y="1895.14" text-anchor="end">0.2</text><text x="134.6" y="1822.32" text-anchor="end">0.4</text><text x="134.6" y="1749.49" text-anchor="end">0.6</text><text x="134.6" y="1676.67" text-anchor="end">0.8</text><text x="134.6" y="1603.85" text-anchor="end">1.0</text><text x="134.6" y="2895.72" text-anchor="end">0.0</text><text x="134.6" y="2822.9" text-anchor="end">0.2</text><text x="134.6" y="2750.08" text-anchor="end">0.4</text><text x="134.6" y="2677.25" text-anchor="end">0.6</text><text x="134.6" y="2604.43" text-anchor="end">0.8</text><text x="134.6" y="2531.61" text-anchor="end">1.0</text><text x="1637.5" y="576.32" text-anchor="start">0.0</text><text x="1637.5" y="503.5" text-anchor="start">0.2</text><text x="1637.5" y="430.68" text-anchor="start">0.4</text><text x="1637.5" y="357.85" text-anchor="start">0.6</text><text x="1637.5" y="285.03" text-anchor="start">0.8</text><text x="1637.5" y="212.21" text-anchor="start">1.0</text><text x="1637.5" y="1504.08" text-anchor="start">0.0</text><text x="1637.5" y="1431.26" text-anchor="start">0.2</text><text x="1637.5" y="1358.44" text-anchor="start">0.4</text><text x="1637.5" y="1285.61" text-anchor="start">0.6</text><text x="1637.5" y="1212.79" text-anchor="start">0.8</text><text x="1637.5" y="1139.97" text-anchor="start">1.0</text><text x="1637.5" y="2431.84" text-anchor="start">0.0</text><text x="1637.5" y="2359.02" text-anchor="start">0.2</text><text x="1637.5" y="2286.2" text-anchor="start">0.4</text><text x="1637.5" y="2213.37" text-anchor="start">0.6</text><text x="1637.5" y="2140.55" text-anchor="start">0.8</text><text x="1637.5" y="2067.73" text-anchor="start">1.0</text></g>
<text x="1721.6" y="1511.65" font-family="'Liberation Sans', Arial, Helvetica, sans-serif" font-size="32.3">P1</text>
<line x1="1797.3" y1="1500.0" x2="1886.0" y2="1500.0" stroke="#0B5AA2" stroke-width="3.75" stroke-linecap="round"/>
<text x="1721.6" y="1542.9" font-family="'Liberation Sans', Arial, Helvetica, sans-serif" font-size="32.3">P2</text>
<line x1="1797.3" y1="1530.9" x2="1886.0" y2="1530.9" stroke="#DE8C07" stroke-width="3.75" stroke-linecap="round"/>
<text x="1721.6" y="1572.8" font-family="'Liberation Sans', Arial, Helvetica, sans-serif" font-size="32.3">P3</text>
<line x1="1797.3" y1="1561.4" x2="1886.0" y2="1561.4" stroke="#128B5E" stroke-width="3.75" stroke-linecap="round"/>
<text x="886.1" y="3024.2" font-family="'DejaVu Serif', serif" font-size="28.4" text-anchor="middle">θ</text>
<text transform="translate(60.9,1576.8) rotate(-90)" font-family="'Liberation Sans', Arial, Helvetica, sans-serif" font-size="32.7">P<tspan x="19.7" y="1.3" font-family="'DejaVu Serif', serif" font-size="40.4">(</tspan><tspan x="34.7" y="0" font-family="'DejaVu Serif', serif" font-size="27.9">θ</tspan><tspan x="50.1" y="1.3" font-family="'DejaVu Serif', serif" font-size="40.4">)</tspan></text>
</svg></body></html>
